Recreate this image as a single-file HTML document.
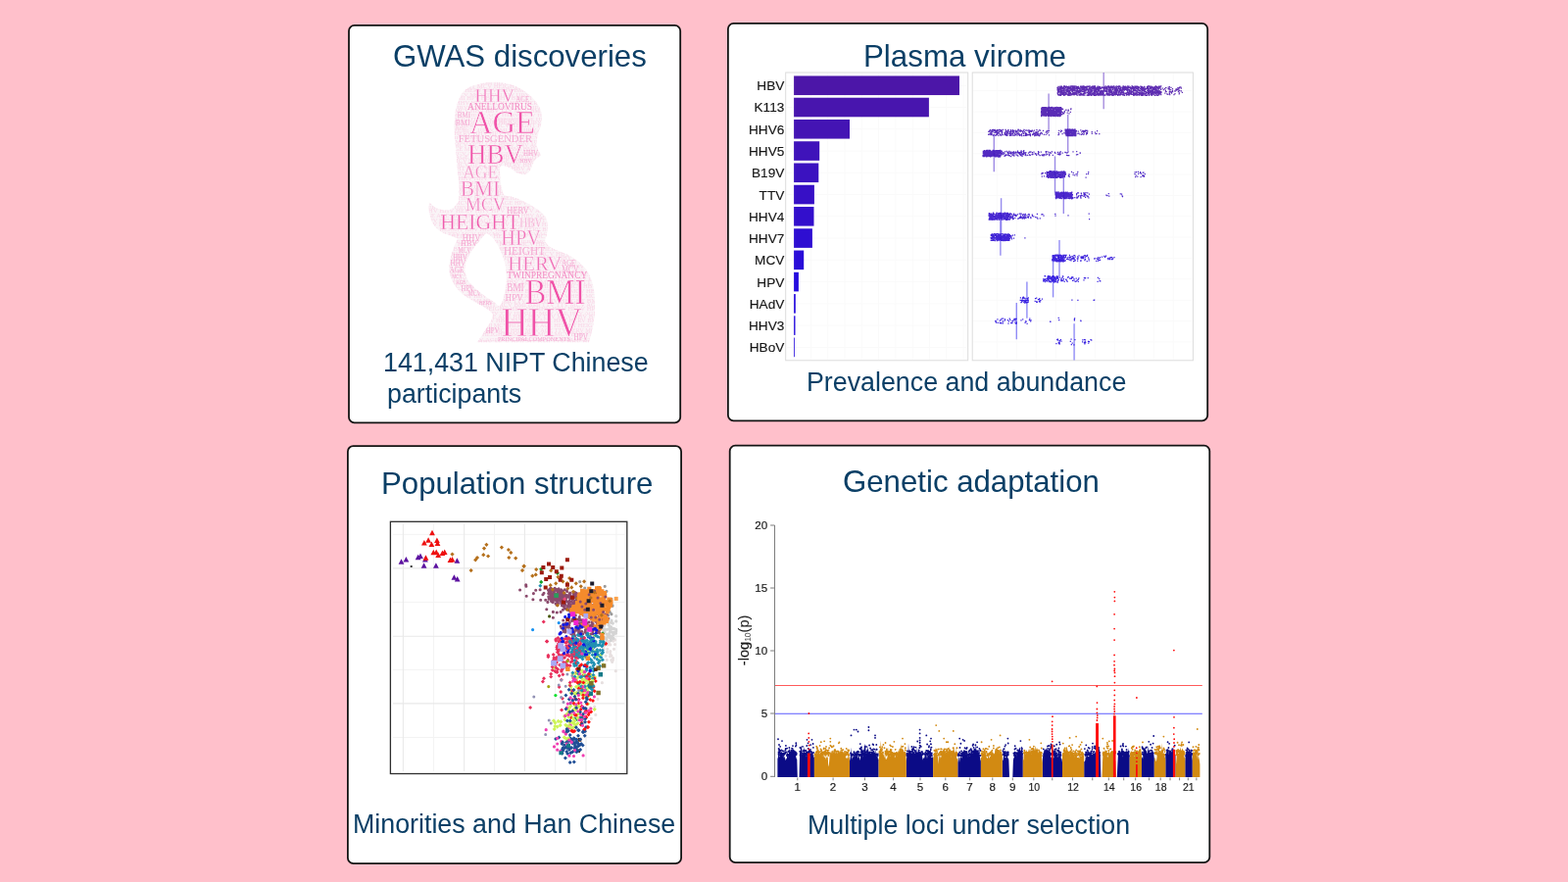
<!DOCTYPE html>
<html lang="en">
<head>
<meta charset="utf-8">
<title>Graphical abstract</title>
<style>
html,body{margin:0;padding:0;}
body{width:1600px;height:900px;background:#ffc0cb;overflow:hidden;position:relative;font-family:"Liberation Sans",Arial,Helvetica,sans-serif;}
.t{position:absolute;white-space:nowrap;color:#0b3f66;line-height:1;margin:0;font-weight:400;will-change:transform;}
h2.t{font-size:31px;}
p.t{font-size:26.5px;}
svg{position:absolute;left:0;top:0;overflow:visible;will-change:transform;}
svg text{font-family:"Liberation Sans",Arial,Helvetica,sans-serif;}
svg.sf text{font-family:"Liberation Serif","Times New Roman",serif;}
</style>
</head>
<body>
<main>
<svg id="frames" width="1600" height="900" viewBox="0 0 1600 900">
<rect id="panel-gwas" x="356.0" y="25.9" width="338.2" height="405.4" rx="5.6" fill="#fff" stroke="#141414" stroke-width="1.8"/>
<rect id="panel-virome" x="742.9" y="23.9" width="489.3" height="405.4" rx="5.6" fill="#fff" stroke="#141414" stroke-width="1.8"/>
<rect id="panel-pop" x="354.9" y="455.1" width="340.2" height="426.0" rx="5.6" fill="#fff" stroke="#141414" stroke-width="1.8"/>
<rect id="panel-adapt" x="744.7" y="454.7" width="489.6" height="425.4" rx="5.6" fill="#fff" stroke="#141414" stroke-width="1.8"/>
</svg>
<section id="gwas">
<h2 class="t" style="left:401.0px;top:42.2px;font-size:31.2px">GWAS discoveries</h2>
<svg id="gwas-cloud" class="sf" width="1600" height="900" viewBox="0 0 1600 900">
<defs><clipPath id="sil"><path d="M601.0 349.2L486.2 349.2C486.6 348.7 487.3 348.6 488.9 346.4C490.5 344.2 493.8 339.1 495.8 336.0C497.8 332.9 499.8 330.1 501.0 327.5C502.2 324.9 502.6 321.8 502.9 320.6C502.0 319.7 500.4 317.4 497.5 315.4C494.6 313.4 489.8 311.1 485.5 308.5C481.2 305.9 475.4 303.0 471.7 299.9C468.0 296.8 465.2 293.1 463.1 289.6C461.0 286.2 459.6 282.6 458.8 279.2C458.1 275.8 458.1 272.9 458.6 268.9C459.1 264.9 460.7 259.1 462.0 255.1C463.3 251.1 465.6 246.8 466.3 244.8C467.0 242.8 466.1 243.3 466.0 243.0C464.9 242.6 462.1 241.5 459.6 240.5C457.1 239.5 453.9 238.9 451.0 237.0C448.1 235.1 444.5 232.6 442.4 229.3C440.2 226.0 438.9 221.0 438.1 217.2C437.4 213.3 437.9 208.0 437.9 206.2C439.2 207.2 442.5 211.0 445.8 212.4C449.1 213.8 454.6 215.0 457.9 214.4C461.2 213.8 463.7 210.8 465.4 209.0C467.1 207.2 467.7 207.0 468.2 203.8C468.7 200.6 468.4 194.3 468.3 190.0C468.2 185.7 467.7 182.3 467.3 177.8C466.9 173.3 466.4 168.0 466.0 163.1C465.6 158.2 465.2 153.2 464.8 148.5C464.4 143.8 463.7 140.3 463.6 135.0C463.5 129.7 463.5 122.2 464.2 116.7C464.9 111.2 466.3 106.1 467.9 102.0C469.5 97.9 471.1 94.8 474.0 92.2C476.9 89.7 480.1 88.1 485.0 86.7C489.9 85.3 497.0 83.7 503.3 83.7C509.6 83.7 517.2 84.9 522.9 86.7C528.6 88.5 533.5 91.8 537.6 94.7C541.7 97.7 545.0 101.2 547.4 104.4C549.8 107.7 551.4 110.7 552.2 114.2C553.0 117.7 552.9 121.5 552.4 125.2C551.9 128.9 550.2 132.7 549.4 136.2C548.6 139.7 547.4 143.2 547.4 146.0C547.4 148.8 548.5 151.3 549.2 153.3C549.9 155.3 552.1 156.8 551.8 158.2C551.5 159.6 548.8 160.3 547.6 161.5C546.4 162.7 545.5 164.1 544.6 165.6C543.8 167.1 543.3 168.9 542.5 170.5C541.7 172.1 541.2 174.2 540.0 175.4C538.8 176.6 537.1 177.7 535.1 177.9C533.1 178.1 530.0 177.6 527.8 176.6C525.6 175.6 523.7 173.1 521.7 171.9C519.7 170.7 517.5 169.7 515.6 169.4C513.7 169.1 511.3 168.8 510.4 170.2C509.5 171.6 510.0 174.7 510.2 178.0C510.4 181.3 510.8 186.6 511.5 190.0C512.2 193.4 512.5 196.7 514.2 198.5C515.9 200.3 518.9 199.8 521.6 200.6C524.3 201.4 527.0 202.2 530.2 203.6C533.4 205.0 537.2 206.8 540.6 208.8C544.0 210.8 548.2 213.2 550.9 215.5C553.6 217.8 555.7 219.8 557.0 222.4C558.3 225.0 558.6 228.1 558.8 231.0C558.9 233.9 558.3 237.0 557.9 239.6C557.5 242.2 555.7 244.5 556.3 246.5C556.9 248.5 559.0 250.1 561.3 251.7C563.6 253.3 566.8 254.6 569.9 256.0C573.0 257.4 576.8 258.4 580.2 260.3C583.6 262.2 587.4 264.6 590.5 267.2C593.6 269.8 596.4 272.1 598.8 275.8C601.1 279.5 603.3 285.0 604.6 289.6C605.9 294.2 606.4 298.8 606.8 303.4C607.2 308.0 607.3 311.9 607.0 317.1C606.7 322.3 605.8 329.0 604.8 334.4C603.8 339.8 601.6 346.7 601.0 349.2ZM495.8 238.6C497.6 237.5 498.0 238.8 499.4 239.8C500.8 240.8 502.7 242.5 504.4 244.8C506.1 247.1 508.0 250.2 509.6 253.4C511.2 256.6 512.8 260.0 513.9 263.7C515.0 267.4 516.0 271.5 516.5 275.8C517.0 280.1 517.0 285.0 516.6 289.6C516.2 294.2 515.0 299.6 513.9 303.4C512.8 307.2 511.4 311.3 509.8 312.2C508.2 313.1 507.0 310.3 504.4 308.5C501.8 306.7 497.6 304.2 494.1 301.6C490.7 299.0 486.6 295.9 483.7 293.0C480.8 290.1 478.4 287.5 476.8 284.4C475.2 281.2 474.4 277.2 474.3 274.1C474.2 271.0 474.7 268.7 476.0 265.5C477.3 262.3 479.9 258.3 482.0 255.1C484.1 251.9 486.6 249.2 488.9 246.5C491.2 243.8 494.1 239.7 495.8 238.6Z" clip-rule="evenodd"/></clipPath></defs>
<path d="M601.0 349.2L486.2 349.2C486.6 348.7 487.3 348.6 488.9 346.4C490.5 344.2 493.8 339.1 495.8 336.0C497.8 332.9 499.8 330.1 501.0 327.5C502.2 324.9 502.6 321.8 502.9 320.6C502.0 319.7 500.4 317.4 497.5 315.4C494.6 313.4 489.8 311.1 485.5 308.5C481.2 305.9 475.4 303.0 471.7 299.9C468.0 296.8 465.2 293.1 463.1 289.6C461.0 286.2 459.6 282.6 458.8 279.2C458.1 275.8 458.1 272.9 458.6 268.9C459.1 264.9 460.7 259.1 462.0 255.1C463.3 251.1 465.6 246.8 466.3 244.8C467.0 242.8 466.1 243.3 466.0 243.0C464.9 242.6 462.1 241.5 459.6 240.5C457.1 239.5 453.9 238.9 451.0 237.0C448.1 235.1 444.5 232.6 442.4 229.3C440.2 226.0 438.9 221.0 438.1 217.2C437.4 213.3 437.9 208.0 437.9 206.2C439.2 207.2 442.5 211.0 445.8 212.4C449.1 213.8 454.6 215.0 457.9 214.4C461.2 213.8 463.7 210.8 465.4 209.0C467.1 207.2 467.7 207.0 468.2 203.8C468.7 200.6 468.4 194.3 468.3 190.0C468.2 185.7 467.7 182.3 467.3 177.8C466.9 173.3 466.4 168.0 466.0 163.1C465.6 158.2 465.2 153.2 464.8 148.5C464.4 143.8 463.7 140.3 463.6 135.0C463.5 129.7 463.5 122.2 464.2 116.7C464.9 111.2 466.3 106.1 467.9 102.0C469.5 97.9 471.1 94.8 474.0 92.2C476.9 89.7 480.1 88.1 485.0 86.7C489.9 85.3 497.0 83.7 503.3 83.7C509.6 83.7 517.2 84.9 522.9 86.7C528.6 88.5 533.5 91.8 537.6 94.7C541.7 97.7 545.0 101.2 547.4 104.4C549.8 107.7 551.4 110.7 552.2 114.2C553.0 117.7 552.9 121.5 552.4 125.2C551.9 128.9 550.2 132.7 549.4 136.2C548.6 139.7 547.4 143.2 547.4 146.0C547.4 148.8 548.5 151.3 549.2 153.3C549.9 155.3 552.1 156.8 551.8 158.2C551.5 159.6 548.8 160.3 547.6 161.5C546.4 162.7 545.5 164.1 544.6 165.6C543.8 167.1 543.3 168.9 542.5 170.5C541.7 172.1 541.2 174.2 540.0 175.4C538.8 176.6 537.1 177.7 535.1 177.9C533.1 178.1 530.0 177.6 527.8 176.6C525.6 175.6 523.7 173.1 521.7 171.9C519.7 170.7 517.5 169.7 515.6 169.4C513.7 169.1 511.3 168.8 510.4 170.2C509.5 171.6 510.0 174.7 510.2 178.0C510.4 181.3 510.8 186.6 511.5 190.0C512.2 193.4 512.5 196.7 514.2 198.5C515.9 200.3 518.9 199.8 521.6 200.6C524.3 201.4 527.0 202.2 530.2 203.6C533.4 205.0 537.2 206.8 540.6 208.8C544.0 210.8 548.2 213.2 550.9 215.5C553.6 217.8 555.7 219.8 557.0 222.4C558.3 225.0 558.6 228.1 558.8 231.0C558.9 233.9 558.3 237.0 557.9 239.6C557.5 242.2 555.7 244.5 556.3 246.5C556.9 248.5 559.0 250.1 561.3 251.7C563.6 253.3 566.8 254.6 569.9 256.0C573.0 257.4 576.8 258.4 580.2 260.3C583.6 262.2 587.4 264.6 590.5 267.2C593.6 269.8 596.4 272.1 598.8 275.8C601.1 279.5 603.3 285.0 604.6 289.6C605.9 294.2 606.4 298.8 606.8 303.4C607.2 308.0 607.3 311.9 607.0 317.1C606.7 322.3 605.8 329.0 604.8 334.4C603.8 339.8 601.6 346.7 601.0 349.2ZM495.8 238.6C497.6 237.5 498.0 238.8 499.4 239.8C500.8 240.8 502.7 242.5 504.4 244.8C506.1 247.1 508.0 250.2 509.6 253.4C511.2 256.6 512.8 260.0 513.9 263.7C515.0 267.4 516.0 271.5 516.5 275.8C517.0 280.1 517.0 285.0 516.6 289.6C516.2 294.2 515.0 299.6 513.9 303.4C512.8 307.2 511.4 311.3 509.8 312.2C508.2 313.1 507.0 310.3 504.4 308.5C501.8 306.7 497.6 304.2 494.1 301.6C490.7 299.0 486.6 295.9 483.7 293.0C480.8 290.1 478.4 287.5 476.8 284.4C475.2 281.2 474.4 277.2 474.3 274.1C474.2 271.0 474.7 268.7 476.0 265.5C477.3 262.3 479.9 258.3 482.0 255.1C484.1 251.9 486.6 249.2 488.9 246.5C491.2 243.8 494.1 239.7 495.8 238.6Z" fill="#faf4f7" fill-rule="evenodd"/>
<g clip-path="url(#sil)">
<g fill="#f9d6e7">
<text x="431.6" y="86.0" font-size="5.2" textLength="180" lengthAdjust="spacingAndGlyphs">BMI HPV HHV TTV BMI HHV HBV HHV HHV MCV TTV MCV</text>
<text x="429.2" y="90.1" font-size="5.2" textLength="180" lengthAdjust="spacingAndGlyphs">HBV TTV HEIGHT MCV HEIGHT TTV HERV BMI MCV BMI</text>
<text x="431.8" y="94.1" font-size="5.2" textLength="180" lengthAdjust="spacingAndGlyphs">MCV HEIGHT HERV HBV HHV BMI AGE HBV BMI AGE HHV</text>
<text x="429.8" y="98.2" font-size="4.6" textLength="180" lengthAdjust="spacingAndGlyphs">HHV MCV MCV MCV TTV HHV HBV HERV HBV AGE HERV</text>
<text x="432.4" y="101.8" font-size="6.4" textLength="180" lengthAdjust="spacingAndGlyphs">HHV TTV BMI HPV HBV HHV BMI TTV AGE MCV BMI HERV</text>
<text x="430.5" y="106.7" font-size="5.8" textLength="180" lengthAdjust="spacingAndGlyphs">MCV HERV HHV HPV HEIGHT HHV HERV HHV AGE HPV BMI</text>
<text x="433.1" y="111.3" font-size="4.6" textLength="180" lengthAdjust="spacingAndGlyphs">HHV BMI HBV BMI HBV MCV HPV HEIGHT HHV HHV HBV</text>
<text x="431.8" y="114.9" font-size="5.2" textLength="180" lengthAdjust="spacingAndGlyphs">HHV MCV MCV HBV HBV TTV MCV BMI TTV HBV HPV AGE</text>
<text x="430.5" y="118.9" font-size="4.6" textLength="180" lengthAdjust="spacingAndGlyphs">BMI HHV MCV HERV AGE HERV MCV HBV HHV HHV HHV</text>
<text x="430.3" y="122.5" font-size="4.6" textLength="180" lengthAdjust="spacingAndGlyphs">HHV HPV HEIGHT MCV HEIGHT AGE HHV MCV HHV HBV</text>
<text x="431.6" y="126.1" font-size="4.6" textLength="180" lengthAdjust="spacingAndGlyphs">HHV AGE HERV MCV HHV MCV BMI HBV HHV MCV HPV HPV</text>
<text x="433.8" y="129.7" font-size="5.8" textLength="180" lengthAdjust="spacingAndGlyphs">MCV HERV HERV TTV MCV HEIGHT HERV BMI MCV HHV</text>
<text x="431.7" y="134.2" font-size="4.6" textLength="180" lengthAdjust="spacingAndGlyphs">AGE HEIGHT MCV HERV BMI HBV HBV AGE MCV HERV MCV</text>
<text x="431.3" y="137.8" font-size="5.8" textLength="180" lengthAdjust="spacingAndGlyphs">HHV AGE HERV HHV HPV HHV HERV HHV HHV BMI BMI</text>
<text x="431.8" y="142.3" font-size="4.6" textLength="180" lengthAdjust="spacingAndGlyphs">HPV TTV HPV BMI HPV HHV HBV MCV HBV TTV HHV HHV</text>
<text x="433.7" y="145.9" font-size="4.6" textLength="180" lengthAdjust="spacingAndGlyphs">HHV HPV MCV BMI TTV MCV HHV HHV HPV BMI HPV BMI</text>
<text x="432.5" y="149.5" font-size="5.8" textLength="180" lengthAdjust="spacingAndGlyphs">MCV HHV MCV MCV AGE HERV HBV AGE MCV HHV HHV BMI</text>
<text x="429.9" y="154.0" font-size="5.2" textLength="180" lengthAdjust="spacingAndGlyphs">AGE BMI AGE MCV AGE HPV BMI BMI HERV BMI HBV HBV</text>
<text x="431.6" y="158.1" font-size="4.6" textLength="180" lengthAdjust="spacingAndGlyphs">HPV BMI MCV AGE TTV AGE MCV BMI HBV HPV HBV BMI</text>
<text x="433.3" y="161.7" font-size="5.2" textLength="180" lengthAdjust="spacingAndGlyphs">TTV MCV AGE AGE HBV HHV HEIGHT AGE HPV AGE MCV</text>
<text x="433.2" y="165.7" font-size="5.2" textLength="180" lengthAdjust="spacingAndGlyphs">HPV AGE MCV BMI HBV AGE HHV HPV HHV BMI HERV MCV</text>
<text x="430.8" y="169.8" font-size="5.8" textLength="180" lengthAdjust="spacingAndGlyphs">BMI HERV MCV HERV HHV HERV HHV HERV BMI AGE HHV</text>
<text x="433.7" y="174.3" font-size="6.4" textLength="180" lengthAdjust="spacingAndGlyphs">HHV HEIGHT HERV HEIGHT HBV AGE HHV HBV TTV MCV</text>
<text x="431.3" y="179.3" font-size="5.8" textLength="180" lengthAdjust="spacingAndGlyphs">AGE MCV HBV MCV HHV MCV HBV AGE AGE HHV HHV AGE</text>
<text x="433.4" y="183.8" font-size="5.2" textLength="180" lengthAdjust="spacingAndGlyphs">HERV HHV HHV HHV TTV HBV HBV BMI HEIGHT MCV AGE</text>
<text x="431.1" y="187.9" font-size="4.6" textLength="180" lengthAdjust="spacingAndGlyphs">HERV HHV HHV HBV HPV BMI MCV MCV HEIGHT TTV AGE</text>
<text x="430.1" y="191.5" font-size="4.6" textLength="180" lengthAdjust="spacingAndGlyphs">AGE HBV HEIGHT MCV HBV BMI AGE AGE MCV AGE BMI</text>
<text x="430.9" y="195.0" font-size="4.6" textLength="180" lengthAdjust="spacingAndGlyphs">HHV MCV HERV HHV AGE MCV AGE MCV HHV HEIGHT HEIGHT</text>
<text x="428.3" y="198.6" font-size="6.4" textLength="180" lengthAdjust="spacingAndGlyphs">HPV AGE MCV HHV MCV HHV AGE BMI HHV HBV HHV HBV</text>
<text x="433.8" y="203.6" font-size="6.4" textLength="180" lengthAdjust="spacingAndGlyphs">MCV HBV HBV HEIGHT HEIGHT TTV HPV BMI HPV HBV</text>
<text x="430.3" y="208.6" font-size="5.8" textLength="180" lengthAdjust="spacingAndGlyphs">HERV HHV MCV HPV MCV AGE HPV HERV HBV BMI HEIGHT</text>
<text x="432.3" y="213.1" font-size="4.6" textLength="180" lengthAdjust="spacingAndGlyphs">HERV AGE HBV HHV BMI HHV HPV TTV HHV BMI AGE HEIGHT</text>
<text x="431.8" y="216.7" font-size="6.4" textLength="180" lengthAdjust="spacingAndGlyphs">HHV HHV HERV HHV HPV BMI TTV AGE HBV HPV HERV</text>
<text x="430.8" y="221.7" font-size="6.4" textLength="180" lengthAdjust="spacingAndGlyphs">AGE AGE HEIGHT MCV HBV HHV HBV AGE HERV AGE HERV</text>
<text x="433.3" y="226.7" font-size="5.2" textLength="180" lengthAdjust="spacingAndGlyphs">HPV HPV HEIGHT AGE MCV MCV HBV TTV HBV HBV MCV</text>
<text x="432.0" y="230.8" font-size="6.4" textLength="180" lengthAdjust="spacingAndGlyphs">HBV HPV HHV HEIGHT HBV AGE HHV HBV HHV TTV BMI</text>
<text x="432.6" y="235.8" font-size="5.2" textLength="180" lengthAdjust="spacingAndGlyphs">HHV HEIGHT HBV HHV HBV BMI HERV BMI MCV HHV HPV</text>
<text x="428.2" y="239.8" font-size="4.6" textLength="180" lengthAdjust="spacingAndGlyphs">HBV BMI TTV MCV HBV MCV HHV MCV AGE HBV HHV AGE</text>
<text x="428.6" y="243.4" font-size="5.2" textLength="180" lengthAdjust="spacingAndGlyphs">HBV HBV HEIGHT HHV HEIGHT HPV MCV HHV BMI MCV</text>
<text x="429.5" y="247.5" font-size="4.6" textLength="180" lengthAdjust="spacingAndGlyphs">BMI BMI AGE TTV HHV HBV AGE HERV MCV HPV HHV HERV</text>
<text x="431.3" y="251.0" font-size="5.8" textLength="180" lengthAdjust="spacingAndGlyphs">HBV HERV HEIGHT AGE HERV MCV HBV BMI HERV HBV</text>
<text x="428.9" y="255.6" font-size="6.4" textLength="180" lengthAdjust="spacingAndGlyphs">HERV BMI BMI HBV TTV HBV TTV HBV HEIGHT TTV HHV</text>
<text x="428.8" y="260.6" font-size="5.2" textLength="180" lengthAdjust="spacingAndGlyphs">AGE AGE BMI HHV HEIGHT HPV AGE MCV HBV HEIGHT</text>
<text x="432.0" y="264.6" font-size="5.8" textLength="180" lengthAdjust="spacingAndGlyphs">MCV HERV HHV MCV HHV HHV MCV AGE MCV HHV MCV TTV</text>
<text x="429.2" y="269.1" font-size="6.4" textLength="180" lengthAdjust="spacingAndGlyphs">HHV HPV AGE HPV TTV AGE MCV BMI HERV HBV TTV HBV</text>
<text x="430.8" y="274.1" font-size="5.2" textLength="180" lengthAdjust="spacingAndGlyphs">MCV MCV BMI HEIGHT HHV TTV HBV HBV MCV HERV AGE</text>
<text x="430.8" y="278.2" font-size="4.6" textLength="180" lengthAdjust="spacingAndGlyphs">AGE AGE BMI HBV AGE BMI HBV AGE MCV MCV AGE AGE</text>
<text x="428.8" y="281.8" font-size="5.8" textLength="180" lengthAdjust="spacingAndGlyphs">HHV HBV BMI MCV HHV MCV BMI MCV HHV HPV BMI HERV</text>
<text x="432.4" y="286.3" font-size="4.6" textLength="180" lengthAdjust="spacingAndGlyphs">HBV HBV HBV MCV MCV MCV HHV HPV TTV HHV HBV BMI</text>
<text x="428.0" y="289.9" font-size="5.8" textLength="180" lengthAdjust="spacingAndGlyphs">HPV HPV HERV HERV TTV HBV AGE BMI HHV HBV TTV</text>
<text x="428.8" y="294.4" font-size="6.4" textLength="180" lengthAdjust="spacingAndGlyphs">HPV HBV MCV HBV BMI HERV HBV TTV HEIGHT MCV HBV</text>
<text x="432.1" y="299.4" font-size="5.8" textLength="180" lengthAdjust="spacingAndGlyphs">HPV AGE TTV MCV BMI BMI BMI BMI AGE MCV MCV HBV</text>
<text x="432.0" y="303.9" font-size="5.8" textLength="180" lengthAdjust="spacingAndGlyphs">HEIGHT HEIGHT HBV BMI TTV HEIGHT HPV HHV HBV MCV</text>
<text x="431.9" y="308.5" font-size="5.2" textLength="180" lengthAdjust="spacingAndGlyphs">HBV BMI BMI BMI HPV BMI TTV HBV HBV HEIGHT BMI</text>
<text x="431.9" y="312.5" font-size="5.8" textLength="180" lengthAdjust="spacingAndGlyphs">BMI HHV HERV HEIGHT MCV BMI BMI TTV TTV MCV AGE</text>
<text x="432.2" y="317.0" font-size="5.2" textLength="180" lengthAdjust="spacingAndGlyphs">HBV HBV BMI AGE HEIGHT HEIGHT HHV HBV HERV HPV</text>
<text x="429.6" y="321.1" font-size="4.6" textLength="180" lengthAdjust="spacingAndGlyphs">HERV HHV MCV BMI HHV TTV HEIGHT MCV AGE HBV AGE</text>
<text x="433.3" y="324.7" font-size="5.8" textLength="180" lengthAdjust="spacingAndGlyphs">HERV TTV HEIGHT AGE AGE HBV HPV TTV MCV HBV BMI</text>
<text x="431.5" y="329.2" font-size="5.8" textLength="180" lengthAdjust="spacingAndGlyphs">BMI HBV HHV AGE HBV HBV BMI HBV AGE HHV HERV BMI</text>
<text x="432.9" y="333.7" font-size="6.4" textLength="180" lengthAdjust="spacingAndGlyphs">HBV BMI HHV HHV BMI MCV HERV AGE AGE HEIGHT HEIGHT</text>
<text x="431.4" y="338.7" font-size="5.2" textLength="180" lengthAdjust="spacingAndGlyphs">AGE MCV MCV HPV AGE MCV HHV MCV AGE TTV HERV MCV</text>
<text x="429.9" y="342.8" font-size="6.4" textLength="180" lengthAdjust="spacingAndGlyphs">HHV MCV BMI TTV HEIGHT BMI HBV MCV MCV BMI TTV</text>
<text x="431.6" y="347.8" font-size="4.6" textLength="180" lengthAdjust="spacingAndGlyphs">HBV BMI HHV HBV AGE AGE BMI AGE TTV BMI HEIGHT</text>
<text x="429.2" y="351.4" font-size="6.4" textLength="180" lengthAdjust="spacingAndGlyphs">AGE HEIGHT AGE HHV MCV HEIGHT BMI TTV HBV HHV</text>
</g>
<text x="484.6" y="103.6" font-size="19.6" fill="#f170b8" stroke="#faf4f7" stroke-width="0.35" textLength="40.5" lengthAdjust="spacingAndGlyphs">HHV</text>
<text x="477.1" y="112.4" font-size="10.0" fill="#f38ac3" textLength="66.0" lengthAdjust="spacingAndGlyphs">ANELLOVIRUS</text>
<text x="478.9" y="135.6" font-size="32.8" fill="#f052a8" stroke="#faf4f7" stroke-width="0.59" textLength="67.2" lengthAdjust="spacingAndGlyphs">AGE</text>
<text x="467.7" y="145.4" font-size="10.3" fill="#f5a8d2" textLength="75.4" lengthAdjust="spacingAndGlyphs">FETUSGENDER</text>
<text x="477.1" y="167.0" font-size="28.4" fill="#f052a8" stroke="#faf4f7" stroke-width="0.51" textLength="56.8" lengthAdjust="spacingAndGlyphs">HBV</text>
<text x="472.2" y="181.7" font-size="18.2" fill="#f38ac3" stroke="#faf4f7" stroke-width="0.33" textLength="36.0" lengthAdjust="spacingAndGlyphs">AGE</text>
<text x="469.7" y="199.8" font-size="23.4" fill="#f170b8" stroke="#faf4f7" stroke-width="0.42" textLength="40.4" lengthAdjust="spacingAndGlyphs">BMI</text>
<text x="475.1" y="214.6" font-size="19.7" fill="#f170b8" stroke="#faf4f7" stroke-width="0.35" textLength="40.5" lengthAdjust="spacingAndGlyphs">MCV</text>
<text x="517.3" y="218.1" font-size="10.5" fill="#f5a8d2" textLength="22.4" lengthAdjust="spacingAndGlyphs">HERV</text>
<text x="449.3" y="233.6" font-size="23.7" fill="#ef5cad" stroke="#faf4f7" stroke-width="0.43" textLength="80.9" lengthAdjust="spacingAndGlyphs">HEIGHT</text>
<text x="530.2" y="231.9" font-size="14.5" fill="#f5a8d2" stroke="#faf4f7" stroke-width="0.26" textLength="23.3" lengthAdjust="spacingAndGlyphs">HBV</text>
<text x="511.3" y="250.0" font-size="22.3" fill="#f170b8" stroke="#faf4f7" stroke-width="0.40" textLength="40.5" lengthAdjust="spacingAndGlyphs">HPV</text>
<text x="513.9" y="260.3" font-size="11.9" fill="#f5a8d2" textLength="42.2" lengthAdjust="spacingAndGlyphs">HEIGHT</text>
<text x="518.2" y="275.8" font-size="21.0" fill="#f170b8" stroke="#faf4f7" stroke-width="0.38" textLength="55.1" lengthAdjust="spacingAndGlyphs">HERV</text>
<text x="573.3" y="270.6" font-size="8.4" fill="#f5a8d2" textLength="13.8" lengthAdjust="spacingAndGlyphs">AGE</text>
<text x="573.3" y="277.5" font-size="10.0" fill="#f5a8d2" textLength="17.2" lengthAdjust="spacingAndGlyphs">MCV</text>
<text x="517.3" y="284.4" font-size="10.5" fill="#f38ac3" textLength="81.9" lengthAdjust="spacingAndGlyphs">TWINPREGNANCY</text>
<text x="535.4" y="310.2" font-size="36.8" fill="#f052a8" stroke="#faf4f7" stroke-width="0.66" textLength="62.0" lengthAdjust="spacingAndGlyphs">BMI</text>
<text x="511.3" y="343.0" font-size="42.0" fill="#f052a8" stroke="#faf4f7" stroke-width="0.76" textLength="82.7" lengthAdjust="spacingAndGlyphs">HHV</text>
<text x="507.9" y="348.1" font-size="6.0" fill="#f5a8d2" textLength="74.1" lengthAdjust="spacingAndGlyphs">PRINCIPALCOMPONENTS</text>
<text x="585.4" y="347.3" font-size="9.5" fill="#f5a8d2" textLength="14.6" lengthAdjust="spacingAndGlyphs">HPV</text>
<text x="517.3" y="297.3" font-size="11.5" fill="#f5a8d2" textLength="17.3" lengthAdjust="spacingAndGlyphs">BMI</text>
<text x="515.6" y="306.8" font-size="10.5" fill="#f5a8d2" textLength="18.1" lengthAdjust="spacingAndGlyphs">HPV</text>
<text x="466.7" y="120.3" font-size="8.0" fill="#f5a8d2" textLength="13.4" lengthAdjust="spacingAndGlyphs">BMI</text>
<text x="464.8" y="127.7" font-size="8.8" fill="#f5a8d2" textLength="14.7" lengthAdjust="spacingAndGlyphs">BMI</text>
<text x="464.8" y="133.2" font-size="6.5" fill="#f9d6e7" textLength="11.0" lengthAdjust="spacingAndGlyphs">HBV</text>
<text x="508.2" y="126.5" font-size="9.0" fill="#f9d6e7" textLength="19.6" lengthAdjust="spacingAndGlyphs">HERV</text>
<text x="533.9" y="158.9" font-size="8.6" fill="#f5a8d2" textLength="15.3" lengthAdjust="spacingAndGlyphs">HHV</text>
<text x="530.2" y="166.2" font-size="6.8" fill="#f5a8d2" textLength="12.3" lengthAdjust="spacingAndGlyphs">HBV</text>
<text x="526.6" y="104.4" font-size="7.6" fill="#f5a8d2" textLength="13.4" lengthAdjust="spacingAndGlyphs">AGE</text>
<text x="471.7" y="245.6" font-size="10.0" fill="#f5a8d2" textLength="18.9" lengthAdjust="spacingAndGlyphs">HHV</text>
<text x="470.0" y="250.8" font-size="9.0" fill="#f5a8d2" textLength="17.2" lengthAdjust="spacingAndGlyphs">HBV</text>
<text x="467.4" y="257.7" font-size="8.0" fill="#f5a8d2" textLength="12.9" lengthAdjust="spacingAndGlyphs">MCV</text>
<text x="462.2" y="264.6" font-size="8.0" fill="#f5a8d2" textLength="14.6" lengthAdjust="spacingAndGlyphs">HHV</text>
<text x="459.6" y="270.6" font-size="8.6" fill="#f5a8d2" textLength="15.5" lengthAdjust="spacingAndGlyphs">HHV</text>
<text x="458.8" y="278.4" font-size="9.0" fill="#f5a8d2" textLength="14.6" lengthAdjust="spacingAndGlyphs">AGE</text>
<text x="461.3" y="284.4" font-size="7.0" fill="#f5a8d2" textLength="10.4" lengthAdjust="spacingAndGlyphs">MCV</text>
<text x="465.6" y="289.6" font-size="7.0" fill="#f5a8d2" textLength="9.5" lengthAdjust="spacingAndGlyphs">AGE</text>
<text x="470.8" y="296.5" font-size="9.0" fill="#f5a8d2" textLength="12.9" lengthAdjust="spacingAndGlyphs">HPV</text>
<text x="477.7" y="301.6" font-size="8.0" fill="#f5a8d2" textLength="12.9" lengthAdjust="spacingAndGlyphs">MCV</text>
<text x="488.9" y="311.1" font-size="7.0" fill="#f5a8d2" textLength="13.8" lengthAdjust="spacingAndGlyphs">HERV</text>
<text x="495.8" y="340.4" font-size="9.0" fill="#f5a8d2" textLength="13.8" lengthAdjust="spacingAndGlyphs">HPV</text>
</g>
</svg>
<p class="t" style="left:390.5px;top:356.8px;font-size:26.8px">141,431 NIPT Chinese</p>
<p class="t" style="left:394.6px;top:388.8px;font-size:26.8px">participants</p>
</section>
<section id="virome">
<h2 class="t" style="left:880.5px;top:42.2px;font-size:31.3px">Plasma virome</h2>
<svg id="virome-plot" width="1600" height="900" viewBox="0 0 1600 900">
<rect x="801.7" y="74.0" width="186.0" height="293.8" fill="#fff" stroke="#dcdcdc" stroke-width="1"/>
<rect x="992.2" y="74.0" width="225.2" height="293.8" fill="#fff" stroke="#dcdcdc" stroke-width="1"/>
<path d="M802.7 87.2H986.7M993.2 92.6H1216.4M802.7 109.5H986.7M993.2 114.0H1216.4M802.7 131.8H986.7M993.2 135.3H1216.4M802.7 154.0H986.7M993.2 156.7H1216.4M802.7 176.3H986.7M993.2 178.0H1216.4M802.7 198.6H986.7M993.2 199.4H1216.4M802.7 220.8H986.7M993.2 220.8H1216.4M802.7 243.1H986.7M993.2 242.1H1216.4M802.7 265.3H986.7M993.2 263.5H1216.4M802.7 287.6H986.7M993.2 284.8H1216.4M802.7 309.9H986.7M993.2 306.2H1216.4M802.7 332.1H986.7M993.2 327.6H1216.4M802.7 354.4H986.7M993.2 348.9H1216.4M810.1 75.0V366.8M827.4 75.0V366.8M844.7 75.0V366.8M862.0 75.0V366.8M879.3 75.0V366.8M896.6 75.0V366.8M913.9 75.0V366.8M931.2 75.0V366.8M948.5 75.0V366.8M965.8 75.0V366.8M983.1 75.0V366.8M1017.3 75.0V366.8M1037.3 75.0V366.8M1057.3 75.0V366.8M1077.3 75.0V366.8M1097.3 75.0V366.8M1117.3 75.0V366.8M1137.3 75.0V366.8M1157.3 75.0V366.8M1177.3 75.0V366.8M1197.3 75.0V366.8" stroke="#fafafa" stroke-width="1" fill="none"/>
<rect x="810.1" y="77.45" width="168.9" height="19.6" fill="#4c16a8"/>
<rect x="810.1" y="99.71" width="137.8" height="19.6" fill="#4815ae"/>
<rect x="810.1" y="121.97" width="56.9" height="19.6" fill="#4414b4"/>
<rect x="810.1" y="144.23" width="26.1" height="19.6" fill="#3f13ba"/>
<rect x="810.1" y="166.49" width="25.2" height="19.6" fill="#3b12c0"/>
<rect x="810.1" y="188.75" width="20.8" height="19.6" fill="#3710c6"/>
<rect x="810.1" y="211.01" width="20.4" height="19.6" fill="#330fcc"/>
<rect x="810.1" y="233.27" width="18.8" height="19.6" fill="#2e0ed2"/>
<rect x="810.1" y="255.53" width="10.1" height="19.6" fill="#2a0dd8"/>
<rect x="810.1" y="277.79" width="4.8" height="19.6" fill="#260cde"/>
<rect x="810.1" y="300.05" width="1.7" height="19.6" fill="#260cde"/>
<rect x="810.1" y="322.31" width="1.4" height="19.6" fill="#260cde"/>
<rect x="810.1" y="344.57" width="0.8" height="19.6" fill="#260cde"/>
<g font-size="13.6" fill="#161616" stroke="#161616" stroke-width=".15" text-anchor="end">
<text x="800.3" y="92.2">HBV</text>
<text x="800.3" y="114.4">K113</text>
<text x="800.3" y="136.7">HHV6</text>
<text x="800.3" y="158.9">HHV5</text>
<text x="800.3" y="181.2">B19V</text>
<text x="800.3" y="203.5">TTV</text>
<text x="800.3" y="225.7">HHV4</text>
<text x="800.3" y="248.0">HHV7</text>
<text x="800.3" y="270.2">MCV</text>
<text x="800.3" y="292.5">HPV</text>
<text x="800.3" y="314.8">HAdV</text>
<text x="800.3" y="337.0">HHV3</text>
<text x="800.3" y="359.3">HBoV</text>
</g>
<path d="M1126.2 74.0V111.2" stroke="#9678d7" stroke-width="1.4" stroke-opacity=".85" fill="none"/>
<path d="M1112.7 89.2h1.2M1147.4 88.5h1.2M1135.2 91.3h1.2M1084.5 92.7h1.2M1082.4 92.0h1.2M1085.8 88.7h1.2M1123.4 95.7h1.2M1091.5 89.9h1.2M1144.9 96.9h1.2M1139.6 91.6h1.2M1181.9 88.2h1.2M1169.4 90.6h1.2M1093.7 88.9h1.2M1111.1 95.6h1.2M1097.6 93.4h1.2M1146.1 91.4h1.2M1136.5 88.4h1.2M1084.7 89.8h1.2M1150.5 91.9h1.2M1111.7 93.4h1.2M1126.4 90.7h1.2M1162.6 94.5h1.2M1104.3 93.3h1.2M1134.1 96.2h1.2M1155.7 90.6h1.2M1182.3 88.9h1.2M1122.7 95.1h1.2M1094.5 92.5h1.2M1082.6 94.2h1.2M1159.4 93.3h1.2M1171.2 90.8h1.2M1152.1 93.5h1.2M1139.9 92.2h1.2M1167.4 96.9h1.2M1128.7 94.2h1.2M1084.8 94.5h1.2M1147.0 97.3h1.2M1165.5 90.5h1.2M1119.3 94.2h1.2M1080.8 92.2h1.2M1096.2 88.9h1.2M1084.6 95.2h1.2M1092.1 90.2h1.2M1119.8 96.2h1.2M1086.9 92.1h1.2M1136.6 96.3h1.2M1165.2 96.1h1.2M1107.9 91.8h1.2M1116.4 96.3h1.2M1179.9 89.2h1.2M1097.1 90.0h1.2M1103.1 92.5h1.2M1140.8 90.3h1.2M1078.8 91.8h1.2M1117.5 93.2h1.2M1179.4 94.4h1.2M1133.0 93.7h1.2M1150.1 88.3h1.2M1173.8 95.3h1.2M1171.1 95.5h1.2M1120.0 91.6h1.2M1089.4 93.9h1.2M1085.0 88.4h1.2M1100.5 89.4h1.2M1114.4 88.3h1.2M1078.4 89.3h1.2M1089.2 91.3h1.2M1081.1 96.2h1.2M1143.5 89.2h1.2M1105.1 91.1h1.2M1117.0 89.0h1.2M1168.4 97.3h1.2M1127.8 92.4h1.2M1087.5 88.8h1.2M1114.7 90.3h1.2M1166.3 89.3h1.2M1080.8 96.9h1.2M1134.4 89.2h1.2M1136.0 88.1h1.2M1134.4 97.2h1.2M1169.9 94.5h1.2M1106.1 91.3h1.2M1096.1 95.2h1.2M1134.9 95.3h1.2M1113.3 89.9h1.2M1164.4 97.3h1.2M1168.8 95.5h1.2M1165.1 94.9h1.2M1102.4 92.8h1.2M1116.1 88.1h1.2M1081.4 90.5h1.2M1105.9 94.4h1.2M1179.8 92.1h1.2M1177.7 97.3h1.2M1179.6 91.3h1.2M1101.8 90.0h1.2M1099.3 89.8h1.2M1144.6 96.4h1.2M1167.5 92.4h1.2M1147.6 95.5h1.2M1087.4 94.1h1.2M1174.8 95.3h1.2M1157.9 92.4h1.2M1097.3 95.4h1.2M1113.6 95.5h1.2M1181.4 91.6h1.2M1120.9 96.9h1.2M1155.2 89.4h1.2M1091.9 89.3h1.2M1174.3 95.5h1.2M1093.9 95.7h1.2M1182.3 94.1h1.2M1115.5 93.1h1.2M1092.3 87.9h1.2M1181.3 94.0h1.2M1134.2 96.8h1.2M1124.4 96.2h1.2M1166.0 89.8h1.2M1105.1 90.6h1.2M1103.9 93.4h1.2M1105.9 91.8h1.2M1092.3 96.5h1.2M1115.9 92.2h1.2M1140.2 96.5h1.2M1123.0 96.6h1.2M1131.6 92.9h1.2M1133.9 88.0h1.2M1125.1 89.6h1.2M1078.8 95.5h1.2M1096.7 92.3h1.2M1155.3 93.1h1.2M1113.0 92.8h1.2M1137.3 95.3h1.2M1089.6 93.2h1.2M1104.7 90.5h1.2M1160.3 92.7h1.2M1137.9 95.1h1.2M1175.1 92.1h1.2M1143.3 92.7h1.2M1132.7 94.5h1.2M1126.3 92.9h1.2M1129.1 96.8h1.2M1152.5 96.2h1.2M1178.3 90.3h1.2M1137.7 96.9h1.2M1167.4 89.1h1.2M1091.3 92.0h1.2M1086.1 90.1h1.2M1086.2 94.2h1.2M1161.5 96.4h1.2M1094.8 94.7h1.2M1148.4 89.2h1.2M1172.0 97.1h1.2M1101.7 96.9h1.2M1120.6 92.5h1.2M1183.3 95.8h1.2M1095.5 91.9h1.2M1133.1 91.1h1.2M1099.1 90.9h1.2M1154.9 88.0h1.2M1137.1 92.0h1.2M1080.3 91.0h1.2M1144.5 92.7h1.2M1085.2 97.3h1.2M1162.0 97.1h1.2M1089.5 90.3h1.2M1082.6 95.3h1.2M1107.1 89.0h1.2M1123.2 96.5h1.2M1165.2 90.3h1.2M1094.2 96.6h1.2M1138.9 94.5h1.2M1087.9 88.4h1.2M1151.3 91.9h1.2M1086.1 96.8h1.2M1145.7 95.5h1.2M1087.3 96.0h1.2M1085.5 96.1h1.2M1126.5 91.1h1.2M1137.0 96.7h1.2M1106.8 89.0h1.2M1134.3 90.1h1.2M1090.0 89.3h1.2M1083.7 89.7h1.2M1111.5 90.7h1.2M1158.9 90.6h1.2M1131.4 89.5h1.2M1115.2 88.0h1.2M1104.9 87.9h1.2M1156.1 93.1h1.2M1098.5 92.4h1.2M1177.5 88.8h1.2M1165.2 91.9h1.2M1130.9 95.8h1.2M1120.1 92.7h1.2M1151.3 97.2h1.2M1114.7 95.8h1.2M1153.3 93.9h1.2M1121.3 91.1h1.2M1084.2 89.0h1.2M1085.9 94.9h1.2M1105.5 89.4h1.2M1087.4 95.9h1.2M1170.7 94.2h1.2M1108.3 90.1h1.2M1109.5 92.2h1.2M1095.1 92.1h1.2M1106.3 97.0h1.2M1181.5 93.1h1.2M1104.3 97.1h1.2M1111.2 91.2h1.2M1078.5 91.5h1.2M1128.7 92.6h1.2M1099.7 92.6h1.2M1078.9 90.3h1.2M1087.9 91.6h1.2M1082.8 88.0h1.2M1110.6 90.0h1.2M1140.5 92.9h1.2M1158.0 94.1h1.2M1154.3 96.2h1.2M1119.7 90.9h1.2M1182.8 89.2h1.2M1155.2 94.0h1.2M1083.0 95.8h1.2M1172.9 93.8h1.2M1156.2 95.6h1.2M1093.2 92.8h1.2M1131.9 95.8h1.2M1163.7 95.7h1.2M1140.3 96.4h1.2M1150.8 94.5h1.2M1102.8 88.1h1.2M1092.5 91.3h1.2M1089.5 95.8h1.2M1137.6 93.8h1.2M1144.8 94.3h1.2M1130.3 87.8h1.2M1163.0 95.0h1.2M1131.7 92.9h1.2M1148.3 88.4h1.2M1156.5 90.2h1.2M1086.3 90.3h1.2M1155.7 89.8h1.2M1156.8 97.2h1.2M1130.8 91.5h1.2M1129.2 94.4h1.2M1159.7 93.7h1.2M1146.5 88.5h1.2M1094.0 90.2h1.2M1157.2 90.7h1.2M1138.6 87.9h1.2M1084.8 90.4h1.2M1149.6 94.4h1.2M1150.0 90.6h1.2M1133.2 92.3h1.2M1127.8 88.9h1.2M1173.1 89.7h1.2M1182.1 96.8h1.2M1080.3 92.2h1.2M1165.3 97.1h1.2M1126.0 90.4h1.2M1100.6 96.9h1.2M1100.7 93.4h1.2M1093.4 92.8h1.2M1179.4 89.1h1.2M1165.3 92.7h1.2M1172.4 94.6h1.2M1102.9 96.4h1.2M1129.9 88.0h1.2M1078.8 92.5h1.2M1126.2 90.7h1.2M1093.3 91.1h1.2M1111.9 95.9h1.2M1078.6 95.0h1.2M1167.3 89.0h1.2M1176.6 94.6h1.2M1174.0 90.6h1.2M1117.9 91.6h1.2M1184.3 93.5h1.2M1116.6 91.9h1.2M1107.6 88.3h1.2M1089.2 95.8h1.2M1108.7 96.8h1.2M1104.8 90.4h1.2M1132.6 89.6h1.2M1118.0 97.0h1.2M1172.1 95.6h1.2M1145.3 96.6h1.2M1178.1 93.1h1.2M1154.7 88.3h1.2M1156.0 92.1h1.2M1158.2 94.0h1.2M1108.7 88.3h1.2M1176.6 89.0h1.2M1128.5 91.1h1.2M1110.0 94.9h1.2M1181.9 90.3h1.2M1147.9 90.7h1.2M1137.5 91.6h1.2M1096.1 89.4h1.2M1100.4 96.5h1.2M1131.1 89.9h1.2M1174.5 97.4h1.2M1126.1 89.1h1.2M1098.8 88.7h1.2M1114.6 88.7h1.2M1103.7 90.3h1.2M1138.8 96.3h1.2M1157.9 91.8h1.2M1122.3 92.8h1.2M1118.3 91.0h1.2M1085.0 90.5h1.2M1181.0 89.0h1.2M1131.8 93.8h1.2M1169.9 89.9h1.2M1107.1 90.2h1.2M1120.8 92.1h1.2M1179.5 95.9h1.2M1170.9 88.0h1.2M1081.8 94.6h1.2M1173.3 92.3h1.2M1140.6 87.8h1.2M1119.9 96.7h1.2M1165.9 96.0h1.2M1181.5 90.2h1.2M1090.0 89.3h1.2M1133.8 94.3h1.2M1178.2 94.7h1.2M1147.0 95.1h1.2M1126.9 93.1h1.2M1082.6 95.3h1.2M1103.1 96.6h1.2M1146.8 90.7h1.2M1092.0 90.2h1.2M1145.8 94.5h1.2M1090.3 88.5h1.2M1134.0 93.4h1.2M1119.5 89.9h1.2M1142.1 87.9h1.2M1110.4 92.2h1.2M1180.0 94.0h1.2M1172.1 92.4h1.2M1103.3 90.2h1.2M1180.2 94.6h1.2M1111.0 88.0h1.2M1131.2 94.3h1.2M1122.9 90.3h1.2M1149.1 96.7h1.2M1102.4 88.1h1.2M1114.2 91.8h1.2M1150.8 89.7h1.2M1162.9 94.9h1.2M1131.9 89.8h1.2M1181.2 90.8h1.2M1165.3 90.0h1.2M1101.9 95.1h1.2M1109.7 96.9h1.2M1131.0 89.6h1.2M1102.1 91.8h1.2M1148.9 96.9h1.2M1093.9 91.6h1.2M1101.0 97.2h1.2M1093.4 88.3h1.2M1084.8 91.6h1.2M1173.6 96.3h1.2M1156.1 97.4h1.2M1177.1 91.0h1.2M1098.1 96.8h1.2M1157.5 88.1h1.2M1148.8 91.4h1.2M1118.0 91.0h1.2M1096.3 87.8h1.2M1108.1 91.2h1.2M1179.7 89.0h1.2M1180.6 89.8h1.2M1116.2 95.7h1.2M1165.5 92.0h1.2M1083.6 92.3h1.2M1117.9 96.6h1.2M1098.9 91.3h1.2M1173.5 88.1h1.2M1121.9 95.6h1.2M1159.7 88.2h1.2M1082.1 88.4h1.2M1175.9 90.3h1.2M1157.6 96.4h1.2M1114.3 90.4h1.2M1179.9 93.7h1.2M1106.2 94.7h1.2M1111.9 90.4h1.2M1078.8 95.1h1.2M1175.5 93.9h1.2M1178.4 88.0h1.2M1103.2 92.4h1.2M1179.8 97.0h1.2M1119.4 90.2h1.2M1124.0 92.5h1.2M1176.8 89.6h1.2M1163.5 94.9h1.2M1165.6 95.2h1.2M1142.8 90.9h1.2M1112.3 91.3h1.2M1161.3 88.6h1.2M1099.3 95.0h1.2M1104.6 88.4h1.2M1082.0 93.1h1.2M1112.9 97.2h1.2M1172.0 97.3h1.2M1106.5 88.6h1.2M1088.6 92.6h1.2M1153.6 92.1h1.2M1103.2 91.8h1.2M1144.2 94.3h1.2M1157.7 95.9h1.2M1148.8 89.0h1.2M1167.5 90.6h1.2M1138.5 91.4h1.2M1156.6 89.7h1.2M1104.6 90.2h1.2M1094.7 96.3h1.2M1139.7 90.9h1.2M1120.4 97.3h1.2M1132.2 90.0h1.2M1164.1 94.1h1.2M1183.4 88.8h1.2M1128.7 95.7h1.2M1167.5 96.6h1.2M1082.7 90.6h1.2M1091.0 89.6h1.2M1181.5 93.4h1.2M1177.0 91.4h1.2M1170.2 92.1h1.2M1106.0 95.3h1.2M1178.6 88.8h1.2M1141.6 93.8h1.2M1101.5 91.3h1.2M1093.4 89.8h1.2M1105.4 93.6h1.2M1147.5 89.8h1.2M1079.6 90.9h1.2M1150.3 89.6h1.2M1111.5 89.8h1.2M1162.7 93.1h1.2M1085.1 88.8h1.2M1120.3 93.1h1.2M1146.2 88.7h1.2M1095.8 94.5h1.2M1121.8 90.5h1.2M1111.0 97.0h1.2M1111.5 93.2h1.2M1116.3 91.8h1.2M1170.0 97.4h1.2M1117.0 89.7h1.2M1155.6 89.8h1.2M1079.0 96.5h1.2M1123.3 95.7h1.2M1121.5 96.3h1.2M1127.3 89.4h1.2M1080.0 93.1h1.2M1146.3 96.5h1.2M1087.8 93.8h1.2M1117.7 92.6h1.2M1093.9 90.5h1.2M1133.6 96.7h1.2M1089.9 92.5h1.2M1163.7 97.1h1.2M1099.3 89.0h1.2M1178.4 97.2h1.2M1129.6 88.3h1.2M1176.6 91.5h1.2M1174.2 93.8h1.2M1165.8 89.3h1.2M1161.7 89.9h1.2M1121.3 95.9h1.2M1166.3 89.6h1.2M1101.5 91.6h1.2M1133.3 91.5h1.2M1091.4 90.2h1.2M1155.2 96.4h1.2M1082.8 93.2h1.2M1158.7 88.2h1.2M1167.2 88.9h1.2M1141.9 93.1h1.2M1144.9 90.7h1.2M1122.9 93.4h1.2M1123.5 94.1h1.2M1125.8 92.0h1.2M1080.9 93.7h1.2M1130.3 90.1h1.2M1159.3 95.3h1.2M1127.0 89.5h1.2M1128.6 88.8h1.2M1092.0 91.9h1.2M1088.1 92.0h1.2M1132.5 88.2h1.2M1145.9 88.6h1.2M1156.1 95.3h1.2M1132.6 88.3h1.2M1131.8 91.4h1.2M1179.2 89.1h1.2M1169.2 97.4h1.2M1156.0 95.6h1.2M1098.9 97.2h1.2M1130.5 97.0h1.2M1175.5 89.4h1.2M1162.0 96.7h1.2M1085.3 91.2h1.2M1158.6 89.3h1.2M1173.4 90.4h1.2M1164.9 89.2h1.2M1131.6 96.6h1.2M1100.5 90.3h1.2M1132.0 90.9h1.2M1082.3 89.5h1.2M1095.5 96.8h1.2M1150.4 96.4h1.2M1096.3 95.3h1.2M1090.6 92.9h1.2M1145.8 91.3h1.2M1170.9 93.1h1.2M1139.9 96.3h1.2M1089.5 97.3h1.2M1145.2 91.6h1.2M1163.0 90.3h1.2M1183.4 93.3h1.2M1116.6 95.1h1.2M1125.3 89.5h1.2M1157.2 88.3h1.2M1165.3 90.2h1.2M1146.2 97.2h1.2M1140.5 94.2h1.2M1111.5 87.8h1.2M1082.0 89.2h1.2M1143.7 91.9h1.2M1132.7 96.4h1.2M1092.4 90.0h1.2M1147.6 88.0h1.2M1078.7 91.2h1.2M1089.7 91.2h1.2M1102.2 93.4h1.2M1140.8 89.8h1.2M1144.5 92.4h1.2M1092.7 96.8h1.2M1104.2 89.2h1.2M1088.6 93.9h1.2M1170.8 95.3h1.2M1121.0 90.3h1.2M1079.6 94.0h1.2M1138.0 91.2h1.2M1146.8 92.1h1.2M1177.7 94.8h1.2M1104.7 96.5h1.2M1083.1 92.9h1.2M1121.4 90.1h1.2M1084.6 95.3h1.2M1079.7 93.1h1.2M1178.1 89.2h1.2M1099.5 93.6h1.2M1132.1 94.0h1.2M1164.6 89.5h1.2M1111.2 90.7h1.2M1083.5 96.3h1.2M1161.4 94.7h1.2M1079.1 95.9h1.2M1157.4 92.3h1.2M1157.0 92.1h1.2M1102.4 88.8h1.2M1103.0 88.2h1.2M1114.0 95.0h1.2M1152.1 95.9h1.2M1153.8 90.4h1.2M1137.1 92.0h1.2M1162.0 92.8h1.2M1106.5 94.0h1.2M1180.7 89.9h1.2M1171.7 87.9h1.2M1106.0 90.1h1.2M1157.3 96.9h1.2M1157.5 90.9h1.2M1171.7 91.0h1.2M1103.8 96.5h1.2M1145.3 94.5h1.2M1148.9 97.2h1.2M1128.2 95.9h1.2M1152.3 96.0h1.2M1124.7 94.8h1.2M1138.9 90.8h1.2M1100.9 93.8h1.2M1086.6 96.5h1.2M1093.7 88.1h1.2M1089.7 96.7h1.2M1115.0 89.2h1.2M1081.4 88.2h1.2M1151.8 93.9h1.2M1152.3 94.9h1.2M1085.4 93.5h1.2M1116.9 95.6h1.2M1165.3 96.4h1.2M1085.4 96.1h1.2M1175.3 96.9h1.2M1089.8 89.8h1.2M1090.3 88.1h1.2M1168.3 95.6h1.2M1145.6 95.7h1.2M1145.3 90.6h1.2M1089.0 88.7h1.2M1158.7 89.8h1.2M1112.2 91.9h1.2M1080.6 90.3h1.2M1108.4 94.7h1.2M1117.4 90.9h1.2M1180.6 92.6h1.2M1168.6 93.7h1.2M1081.7 91.8h1.2M1124.7 95.2h1.2M1115.2 94.6h1.2M1135.4 89.9h1.2M1169.8 88.7h1.2M1165.3 89.4h1.2M1078.5 89.7h1.2M1159.2 97.2h1.2M1078.9 92.5h1.2M1130.5 95.4h1.2M1098.0 92.5h1.2M1115.2 95.8h1.2M1106.0 96.9h1.2M1108.5 89.9h1.2M1152.5 92.6h1.2M1090.1 93.9h1.2M1087.0 95.4h1.2M1152.3 95.4h1.2M1145.0 91.2h1.2M1120.9 91.6h1.2M1172.8 88.6h1.2M1172.6 88.0h1.2M1100.2 90.3h1.2M1173.9 92.6h1.2M1118.6 96.3h1.2M1103.2 92.2h1.2M1134.7 95.0h1.2M1158.2 94.0h1.2M1115.3 90.9h1.2M1094.9 95.9h1.2M1148.6 94.9h1.2M1096.4 92.0h1.2M1160.4 93.4h1.2M1091.8 92.2h1.2M1172.2 90.1h1.2M1098.7 90.7h1.2M1152.9 95.9h1.2M1094.8 89.3h1.2M1104.6 90.9h1.2M1133.8 89.3h1.2M1113.2 89.6h1.2M1181.8 94.8h1.2M1089.2 97.0h1.2M1089.2 91.5h1.2M1182.7 95.4h1.2M1156.1 92.0h1.2M1099.2 93.9h1.2M1089.7 89.8h1.2M1119.6 88.1h1.2M1120.7 95.4h1.2M1151.9 92.6h1.2M1145.4 92.2h1.2M1093.4 93.6h1.2M1121.3 94.9h1.2M1174.6 91.9h1.2M1139.2 95.0h1.2M1123.0 90.0h1.2M1155.0 96.2h1.2M1160.4 94.5h1.2M1168.8 94.3h1.2M1146.4 92.2h1.2M1111.6 93.8h1.2M1088.8 91.8h1.2M1161.3 94.6h1.2M1145.1 90.2h1.2M1123.3 92.2h1.2M1144.3 91.7h1.2M1150.0 96.7h1.2M1097.8 94.1h1.2M1160.9 91.5h1.2M1130.3 97.2h1.2M1082.4 93.0h1.2M1095.4 95.3h1.2M1178.1 92.8h1.2M1089.1 93.3h1.2M1135.7 94.7h1.2M1132.7 93.9h1.2M1166.3 92.8h1.2M1121.9 96.9h1.2M1100.7 94.4h1.2M1120.0 95.1h1.2M1091.4 97.3h1.2M1116.1 88.3h1.2M1107.5 91.6h1.2M1079.8 91.8h1.2M1123.0 94.5h1.2M1115.7 90.3h1.2M1102.2 94.9h1.2M1178.0 92.9h1.2M1101.6 95.5h1.2M1119.9 89.8h1.2M1092.1 95.3h1.2M1164.2 93.9h1.2M1128.1 93.2h1.2M1102.4 97.1h1.2M1115.8 93.9h1.2M1165.2 95.6h1.2M1128.0 90.6h1.2M1136.5 89.0h1.2M1166.8 91.2h1.2M1168.6 90.4h1.2M1118.3 90.2h1.2M1123.6 89.6h1.2M1078.7 94.7h1.2M1108.2 90.2h1.2M1110.4 92.4h1.2M1123.8 93.9h1.2M1148.3 91.3h1.2M1176.8 96.0h1.2M1084.4 95.7h1.2M1174.4 95.3h1.2M1093.3 95.8h1.2M1145.5 87.9h1.2M1079.6 96.9h1.2M1147.9 90.2h1.2M1089.2 89.2h1.2M1103.2 95.3h1.2M1115.1 89.3h1.2M1174.2 95.4h1.2M1096.2 96.4h1.2M1142.9 95.3h1.2M1149.3 96.4h1.2M1161.9 95.9h1.2M1099.3 94.5h1.2M1134.7 94.9h1.2M1124.9 96.3h1.2M1137.2 90.3h1.2M1103.2 89.1h1.2M1130.7 88.4h1.2M1127.9 89.2h1.2M1130.5 92.6h1.2M1135.6 96.1h1.2M1079.1 95.9h1.2M1128.0 93.2h1.2M1148.9 95.9h1.2M1118.1 91.8h1.2M1180.2 88.5h1.2M1145.9 93.9h1.2M1081.4 93.7h1.2M1150.8 96.7h1.2M1113.4 97.2h1.2M1132.5 92.5h1.2M1173.5 88.1h1.2M1154.5 93.8h1.2M1114.3 96.1h1.2M1117.2 92.4h1.2M1134.1 95.2h1.2M1100.7 92.0h1.2M1123.2 93.1h1.2M1166.0 90.6h1.2M1166.1 91.7h1.2M1131.8 90.4h1.2M1132.1 97.2h1.2M1147.8 95.4h1.2M1113.5 90.8h1.2M1110.1 93.4h1.2M1145.7 95.3h1.2M1082.6 94.7h1.2M1172.3 93.0h1.2M1083.7 90.7h1.2M1079.1 89.6h1.2M1176.1 93.6h1.2M1148.1 95.4h1.2M1174.8 93.7h1.2M1143.8 93.8h1.2M1152.2 93.5h1.2M1150.6 89.8h1.2M1149.1 92.2h1.2M1159.2 88.8h1.2M1097.6 88.2h1.2M1160.5 96.6h1.2M1147.9 91.3h1.2M1165.6 95.4h1.2M1138.0 90.3h1.2M1110.4 91.8h1.2M1112.2 91.9h1.2M1146.4 96.8h1.2M1084.2 93.2h1.2M1082.6 88.9h1.2M1164.3 93.3h1.2M1175.8 92.1h1.2M1079.9 91.5h1.2M1141.1 96.8h1.2M1182.4 92.4h1.2M1122.1 88.8h1.2M1146.7 89.8h1.2M1094.5 87.9h1.2M1078.9 94.4h1.2M1091.3 97.1h1.2M1087.7 96.1h1.2M1092.1 88.0h1.2M1154.7 90.1h1.2M1156.2 89.6h1.2M1083.7 95.2h1.2M1154.0 96.0h1.2M1155.8 88.6h1.2M1145.0 94.6h1.2M1127.2 96.8h1.2M1105.3 97.1h1.2M1154.4 87.9h1.2M1080.0 94.0h1.2M1165.0 88.6h1.2M1111.4 94.8h1.2M1096.0 96.1h1.2M1130.0 88.4h1.2M1117.4 93.3h1.2M1124.9 94.3h1.2M1093.8 95.5h1.2M1116.9 94.0h1.2M1145.1 91.8h1.2M1119.3 95.3h1.2M1178.6 95.3h1.2M1138.5 90.6h1.2M1084.8 97.1h1.2M1152.9 95.7h1.2M1113.6 93.6h1.2M1182.0 95.8h1.2M1142.1 90.8h1.2M1123.8 96.3h1.2M1118.3 94.4h1.2M1142.2 96.4h1.2M1164.0 90.5h1.2M1078.6 90.3h1.2M1123.2 93.4h1.2M1164.9 96.3h1.2M1082.9 95.8h1.2M1164.4 96.1h1.2M1139.0 90.4h1.2M1168.6 95.5h1.2M1151.0 96.6h1.2M1115.2 88.6h1.2M1137.1 95.5h1.2M1099.6 95.0h1.2M1177.2 90.0h1.2M1142.7 94.3h1.2M1127.7 89.8h1.2M1105.4 95.0h1.2M1162.3 92.2h1.2M1087.7 95.5h1.2M1160.2 90.0h1.2M1139.8 96.4h1.2M1172.2 92.8h1.2M1128.9 93.5h1.2M1098.5 89.6h1.2M1097.6 94.5h1.2M1116.9 93.2h1.2M1121.1 92.8h1.2M1094.2 88.2h1.2M1184.1 91.4h1.2M1089.6 93.9h1.2M1161.9 89.3h1.2M1141.7 91.1h1.2M1133.5 88.0h1.2M1082.0 97.3h1.2M1170.2 92.5h1.2M1138.5 90.3h1.2M1161.0 91.9h1.2M1178.7 95.2h1.2M1165.2 97.0h1.2M1105.3 88.2h1.2M1099.7 89.5h1.2M1087.3 88.3h1.2M1137.5 96.2h1.2M1127.0 96.9h1.2M1174.9 88.4h1.2M1141.8 91.6h1.2M1091.1 97.0h1.2M1105.7 93.2h1.2M1146.3 97.0h1.2M1149.4 91.6h1.2M1125.9 89.3h1.2M1180.8 97.3h1.2M1101.9 88.2h1.2M1105.5 91.2h1.2M1174.1 96.5h1.2M1167.1 88.3h1.2M1161.8 94.6h1.2M1146.9 97.3h1.2M1084.3 89.2h1.2M1158.4 96.8h1.2M1150.2 90.7h1.2M1141.1 95.1h1.2M1089.6 90.9h1.2M1105.6 89.0h1.2M1129.4 89.4h1.2M1103.7 89.2h1.2M1150.2 87.9h1.2M1154.4 89.7h1.2M1082.2 96.7h1.2M1101.8 96.8h1.2M1170.3 96.3h1.2M1093.2 92.1h1.2M1088.7 96.7h1.2M1167.7 93.8h1.2M1126.3 91.1h1.2M1165.6 92.4h1.2M1145.0 89.2h1.2M1101.9 88.3h1.2M1154.1 93.1h1.2M1093.7 96.2h1.2M1106.6 91.8h1.2M1094.9 90.4h1.2M1167.4 91.0h1.2M1096.2 92.5h1.2M1112.1 96.5h1.2M1090.5 97.2h1.2M1084.4 96.4h1.2M1149.2 89.8h1.2M1129.0 90.5h1.2M1105.7 89.7h1.2M1117.0 97.3h1.2M1184.2 96.7h1.2M1088.7 90.6h1.2M1173.4 88.4h1.2M1155.4 90.6h1.2M1182.1 88.0h1.2M1163.9 91.1h1.2M1093.3 87.8h1.2M1166.6 92.9h1.2M1098.1 92.0h1.2M1175.1 89.9h1.2M1139.0 89.1h1.2M1097.5 95.2h1.2M1153.8 89.7h1.2M1086.8 88.6h1.2M1142.9 92.6h1.2M1107.4 89.8h1.2M1143.3 94.6h1.2M1164.4 93.4h1.2M1099.8 88.4h1.2M1156.1 91.7h1.2M1154.9 88.3h1.2M1164.3 91.0h1.2M1167.6 96.1h1.2M1130.7 87.9h1.2M1174.9 92.4h1.2M1170.8 90.4h1.2M1098.1 95.8h1.2M1117.3 89.4h1.2M1117.7 93.5h1.2M1078.9 92.8h1.2M1125.7 92.8h1.2M1091.2 94.7h1.2M1165.0 96.1h1.2M1112.4 94.6h1.2M1118.8 95.0h1.2M1084.9 96.2h1.2M1179.5 92.6h1.2M1132.8 92.9h1.2M1135.4 88.0h1.2M1180.9 89.9h1.2M1097.7 88.8h1.2M1104.9 95.6h1.2M1081.6 88.7h1.2M1152.5 89.7h1.2M1080.3 93.6h1.2M1139.5 92.8h1.2M1152.9 88.8h1.2M1170.6 94.7h1.2M1083.2 89.0h1.2M1130.7 92.6h1.2M1108.0 89.0h1.2M1121.4 89.1h1.2M1141.1 96.1h1.2M1094.0 93.3h1.2M1157.5 89.4h1.2M1166.0 96.8h1.2M1119.6 91.8h1.2M1167.4 92.8h1.2M1120.3 96.8h1.2M1160.8 91.1h1.2M1103.9 91.0h1.2M1124.6 97.2h1.2M1163.7 96.6h1.2M1164.8 95.9h1.2M1084.1 92.8h1.2M1179.9 96.8h1.2M1104.8 91.9h1.2M1145.5 91.3h1.2M1134.7 88.5h1.2M1124.3 92.6h1.2M1080.6 89.1h1.2M1181.2 95.3h1.2M1177.7 93.9h1.2M1164.2 96.3h1.2M1172.2 88.1h1.2M1146.4 90.4h1.2M1150.3 90.4h1.2M1135.9 96.7h1.2M1144.3 90.2h1.2M1133.6 92.0h1.2M1179.2 90.6h1.2M1110.8 94.0h1.2M1091.2 93.5h1.2M1179.7 92.7h1.2M1106.9 92.3h1.2M1135.0 89.2h1.2M1091.5 89.1h1.2M1109.5 91.7h1.2M1109.0 90.1h1.2M1087.7 93.0h1.2M1167.4 93.7h1.2M1138.8 94.0h1.2M1099.7 94.6h1.2M1127.3 93.1h1.2M1143.4 92.3h1.2M1111.3 90.1h1.2M1101.9 92.7h1.2M1119.0 93.4h1.2M1079.7 91.2h1.2M1169.8 90.1h1.2M1137.4 92.5h1.2M1108.6 97.3h1.2M1109.7 95.2h1.2M1095.2 88.4h1.2M1170.8 92.0h1.2M1085.0 91.5h1.2M1125.0 94.9h1.2M1090.0 90.0h1.2M1180.1 94.9h1.2M1094.8 91.0h1.2M1115.8 94.3h1.2M1143.7 96.0h1.2M1165.4 92.8h1.2M1156.7 94.9h1.2M1158.9 92.4h1.2M1161.6 94.6h1.2M1175.4 89.0h1.2M1170.7 87.8h1.2M1159.6 93.4h1.2M1131.2 97.0h1.2M1139.0 91.8h1.2M1161.5 96.2h1.2M1142.8 91.4h1.2M1126.3 92.2h1.2M1155.0 90.6h1.2M1119.8 93.1h1.2M1119.2 90.9h1.2M1161.8 96.0h1.2M1131.4 92.1h1.2M1097.9 90.7h1.2M1093.8 93.3h1.2M1140.0 88.6h1.2M1175.9 90.9h1.2M1167.8 95.8h1.2M1180.0 89.8h1.2M1123.6 96.5h1.2M1079.5 88.3h1.2M1138.3 92.6h1.2M1176.0 95.2h1.2M1135.5 97.4h1.2M1133.2 92.8h1.2M1151.0 91.5h1.2M1116.3 93.5h1.2M1115.6 96.9h1.2M1150.1 92.8h1.2M1088.9 91.4h1.2M1120.9 93.2h1.2M1139.2 96.2h1.2M1180.6 92.5h1.2M1125.1 93.8h1.2M1184.0 91.1h1.2M1134.6 95.6h1.2M1096.5 90.9h1.2M1182.1 95.7h1.2M1132.7 88.9h1.2M1173.2 94.4h1.2M1165.4 97.3h1.2M1172.5 91.8h1.2M1095.0 90.6h1.2M1132.6 92.6h1.2M1098.3 89.6h1.2M1145.2 93.6h1.2M1115.8 97.3h1.2M1145.9 88.2h1.2M1122.0 95.4h1.2M1110.9 94.4h1.2M1078.8 90.7h1.2M1167.7 93.4h1.2M1149.2 89.7h1.2M1131.2 93.1h1.2M1106.6 94.0h1.2M1134.7 97.4h1.2M1139.3 91.7h1.2M1091.3 89.3h1.2M1158.9 88.8h1.2M1089.0 89.4h1.2M1133.8 95.7h1.2M1143.4 95.5h1.2M1085.0 87.9h1.2M1160.1 90.9h1.2M1154.2 91.2h1.2M1096.4 90.4h1.2M1088.9 96.5h1.2M1140.1 91.1h1.2M1126.1 91.5h1.2M1084.2 96.3h1.2M1140.2 97.0h1.2M1125.0 93.8h1.2M1104.8 88.2h1.2M1177.1 96.0h1.2M1111.8 96.4h1.2M1164.9 90.7h1.2M1142.3 97.0h1.2M1130.9 96.9h1.2M1104.2 91.5h1.2M1154.6 89.9h1.2M1111.2 96.2h1.2M1129.7 95.4h1.2M1104.2 89.5h1.2M1116.4 89.6h1.2M1181.4 90.6h1.2M1137.9 88.9h1.2M1135.0 91.5h1.2M1121.1 88.4h1.2M1091.5 95.7h1.2M1115.6 90.2h1.2M1098.7 90.5h1.2M1103.5 88.1h1.2M1148.8 91.1h1.2M1094.9 94.6h1.2M1088.2 90.4h1.2M1166.9 89.0h1.2M1125.4 95.8h1.2M1163.7 89.3h1.2M1115.8 94.7h1.2M1118.4 97.0h1.2M1100.5 96.9h1.2M1131.9 90.0h1.2M1126.4 89.1h1.2M1153.3 90.3h1.2M1173.8 93.4h1.2M1117.4 90.2h1.2M1142.9 89.8h1.2M1170.9 89.0h1.2M1132.8 93.0h1.2M1107.1 95.2h1.2M1119.2 94.1h1.2M1138.6 90.8h1.2M1119.7 88.6h1.2M1097.2 96.0h1.2M1112.4 94.2h1.2M1089.9 93.2h1.2M1116.7 92.6h1.2M1109.9 88.4h1.2M1111.4 90.0h1.2M1091.8 94.7h1.2M1108.3 91.7h1.2M1174.7 95.2h1.2M1172.0 96.1h1.2M1092.4 90.5h1.2M1081.5 94.3h1.2M1148.7 91.2h1.2M1122.1 94.1h1.2M1152.5 90.2h1.2M1168.2 91.2h1.2M1145.1 89.5h1.2M1090.6 96.6h1.2M1156.2 94.6h1.2M1082.7 88.2h1.2M1095.6 89.7h1.2M1110.5 91.5h1.2M1082.6 90.8h1.2M1146.1 89.5h1.2M1167.4 93.3h1.2M1154.4 90.2h1.2M1124.5 94.4h1.2M1115.4 87.8h1.2M1166.8 95.3h1.2M1108.8 88.2h1.2M1168.9 93.6h1.2M1083.4 90.1h1.2M1090.2 95.4h1.2M1100.7 96.6h1.2M1157.8 88.6h1.2M1152.0 91.6h1.2M1157.6 95.8h1.2M1108.2 88.7h1.2M1178.7 91.9h1.2M1177.0 94.4h1.2M1156.7 95.8h1.2M1145.0 92.1h1.2M1084.2 94.5h1.2M1123.8 92.7h1.2M1176.8 89.0h1.2M1159.2 88.2h1.2M1152.9 95.5h1.2M1106.1 93.0h1.2M1181.2 93.9h1.2M1136.1 90.2h1.2M1084.7 91.2h1.2M1122.0 89.7h1.2M1111.3 89.1h1.2M1153.3 94.2h1.2M1103.6 90.1h1.2M1133.0 92.1h1.2M1177.6 91.2h1.2M1110.1 96.3h1.2M1093.4 93.2h1.2M1113.8 95.6h1.2M1136.5 95.1h1.2M1096.3 94.2h1.2M1141.9 92.2h1.2M1159.6 95.8h1.2M1090.5 90.6h1.2M1116.6 89.8h1.2M1084.8 90.5h1.2M1099.3 94.5h1.2M1125.9 88.9h1.2M1112.8 92.3h1.2M1116.9 89.4h1.2M1086.0 87.9h1.2M1183.6 95.0h1.2M1087.3 94.7h1.2M1182.3 93.2h1.2M1089.9 92.5h1.2M1124.4 89.6h1.2M1136.0 87.9h1.2M1175.9 94.0h1.2M1144.9 96.8h1.2M1147.6 90.2h1.2M1104.5 89.1h1.2M1081.3 95.2h1.2M1167.4 90.6h1.2M1098.1 93.9h1.2M1168.0 96.7h1.2M1096.3 95.3h1.2M1166.4 94.9h1.2M1113.0 89.6h1.2M1165.9 90.9h1.2M1117.5 93.1h1.2M1117.5 95.8h1.2M1103.8 88.2h1.2M1138.5 93.8h1.2M1165.3 94.6h1.2M1174.4 96.9h1.2M1130.8 92.6h1.2M1095.1 90.7h1.2M1140.0 88.6h1.2M1151.3 89.4h1.2M1125.4 97.1h1.2M1087.9 88.2h1.2M1125.0 89.6h1.2M1155.0 87.8h1.2M1167.5 96.0h1.2M1161.8 91.9h1.2M1108.4 94.2h1.2M1132.9 91.8h1.2M1114.3 92.0h1.2M1149.0 95.7h1.2M1174.2 89.4h1.2M1109.7 92.1h1.2M1138.1 91.1h1.2M1099.1 88.6h1.2M1112.7 92.2h1.2M1181.4 96.5h1.2M1170.1 97.2h1.2M1180.4 93.8h1.2M1164.4 88.4h1.2M1150.1 93.6h1.2M1109.9 93.3h1.2M1179.4 92.4h1.2M1147.0 90.7h1.2M1114.8 96.3h1.2M1081.4 89.6h1.2M1150.3 92.1h1.2M1087.4 94.1h1.2M1117.8 93.4h1.2M1122.5 92.9h1.2M1138.3 91.6h1.2M1090.5 89.5h1.2M1172.7 93.1h1.2M1090.3 96.1h1.2M1105.3 88.7h1.2M1134.7 90.2h1.2M1130.3 93.1h1.2M1102.4 93.3h1.2M1090.4 92.7h1.2M1140.8 88.6h1.2M1121.7 88.5h1.2M1125.0 96.1h1.2M1136.8 94.7h1.2M1158.6 88.9h1.2M1183.4 94.7h1.2M1089.2 95.8h1.2M1119.9 89.4h1.2M1180.2 93.2h1.2M1160.5 89.1h1.2M1160.7 88.4h1.2M1103.5 91.4h1.2M1080.0 93.5h1.2M1101.0 90.7h1.2M1153.4 91.9h1.2M1172.6 93.8h1.2M1170.8 93.2h1.2M1175.7 96.2h1.2M1096.2 95.0h1.2M1114.6 95.1h1.2M1150.5 95.7h1.2M1091.4 91.4h1.2M1156.5 96.9h1.2M1154.9 88.2h1.2M1142.4 88.8h1.2M1136.6 95.5h1.2M1090.4 96.7h1.2M1150.0 90.2h1.2M1098.9 92.1h1.2M1167.2 93.4h1.2M1090.4 88.0h1.2M1090.1 95.5h1.2M1098.0 93.1h1.2M1109.1 94.4h1.2M1118.8 89.2h1.2M1171.2 93.0h1.2M1151.5 95.6h1.2M1179.0 87.9h1.2M1114.7 89.2h1.2M1131.6 96.2h1.2M1163.2 88.1h1.2M1097.7 95.7h1.2M1150.4 91.6h1.2M1128.8 89.3h1.2M1168.0 91.6h1.2M1170.9 93.7h1.2M1086.4 91.0h1.2M1101.3 96.4h1.2M1140.9 88.2h1.2M1096.4 91.3h1.2M1128.0 93.3h1.2M1119.5 91.2h1.2M1079.0 93.4h1.2M1113.8 88.0h1.2M1127.1 97.3h1.2M1083.2 89.2h1.2M1149.5 90.4h1.2M1107.4 92.6h1.2M1106.2 93.3h1.2M1134.4 97.0h1.2M1183.6 88.1h1.2M1137.8 95.2h1.2M1170.9 95.2h1.2M1145.5 93.9h1.2M1116.9 90.5h1.2M1162.7 96.2h1.2M1177.9 94.3h1.2M1110.6 95.1h1.2M1156.8 92.7h1.2M1145.7 91.2h1.2M1136.8 91.7h1.2M1084.8 91.0h1.2M1112.7 97.3h1.2M1129.4 91.3h1.2M1104.2 90.1h1.2M1115.4 89.1h1.2M1079.2 96.2h1.2M1126.4 92.1h1.2M1138.7 90.7h1.2M1096.3 88.4h1.2M1110.4 90.8h1.2M1155.4 93.1h1.2M1177.8 91.1h1.2M1176.0 93.4h1.2M1086.9 89.5h1.2M1139.9 97.3h1.2M1116.2 95.2h1.2M1123.8 96.1h1.2M1085.6 92.5h1.2M1173.7 90.4h1.2M1105.7 88.0h1.2M1095.8 90.4h1.2M1153.1 89.9h1.2M1120.8 89.7h1.2M1142.3 96.1h1.2M1147.1 89.7h1.2M1156.2 97.0h1.2M1142.1 88.6h1.2M1164.2 96.2h1.2M1114.6 89.1h1.2M1098.3 93.0h1.2M1171.2 93.9h1.2M1176.2 89.8h1.2M1113.0 95.0h1.2M1147.2 91.7h1.2M1150.4 91.0h1.2M1084.5 91.8h1.2M1083.2 93.8h1.2M1113.9 92.5h1.2M1141.8 90.3h1.2M1127.5 87.9h1.2M1176.5 93.2h1.2M1183.1 88.3h1.2M1143.5 94.8h1.2M1113.3 88.7h1.2M1095.0 89.2h1.2M1159.7 88.7h1.2M1164.7 91.9h1.2M1135.5 93.4h1.2M1137.2 94.1h1.2M1142.2 91.0h1.2M1157.0 90.3h1.2M1153.8 95.1h1.2M1160.7 90.8h1.2M1160.3 97.2h1.2M1126.4 90.5h1.2M1133.9 96.8h1.2M1092.4 87.9h1.2M1128.8 94.1h1.2M1160.5 91.3h1.2M1183.3 90.0h1.2M1158.6 88.7h1.2M1081.4 89.1h1.2M1084.8 92.6h1.2M1137.3 89.5h1.2M1178.0 91.3h1.2M1094.2 89.5h1.2M1156.6 96.6h1.2M1095.6 88.1h1.2M1160.9 90.1h1.2M1182.5 92.6h1.2M1145.8 91.1h1.2M1163.3 92.2h1.2M1112.7 96.5h1.2M1089.8 94.8h1.2M1085.3 94.0h1.2M1121.0 96.1h1.2M1084.8 93.2h1.2M1121.9 96.6h1.2M1178.6 93.8h1.2M1102.2 90.2h1.2M1106.2 92.0h1.2M1102.9 89.8h1.2M1158.9 94.0h1.2M1110.0 97.3h1.2M1101.4 93.3h1.2M1095.0 96.1h1.2M1170.5 90.4h1.2M1158.1 95.7h1.2M1108.4 91.0h1.2M1129.9 96.4h1.2M1095.5 94.4h1.2M1141.7 92.1h1.2M1139.8 96.3h1.2M1100.6 96.3h1.2M1116.6 95.3h1.2M1169.9 89.6h1.2M1170.0 97.4h1.2M1109.9 88.0h1.2M1090.2 97.2h1.2M1079.4 96.6h1.2M1094.4 94.9h1.2M1088.7 89.4h1.2M1150.8 88.7h1.2M1114.4 96.6h1.2M1154.3 96.3h1.2M1182.2 88.1h1.2M1103.3 95.4h1.2M1151.5 88.2h1.2M1131.9 90.0h1.2M1124.0 88.8h1.2M1080.5 97.3h1.2M1111.9 96.2h1.2M1091.2 92.5h1.2M1092.8 91.9h1.2M1097.4 94.4h1.2M1094.1 94.9h1.2M1131.5 88.9h1.2M1115.9 92.6h1.2M1175.8 91.2h1.2M1101.2 97.1h1.2M1172.0 94.8h1.2M1107.3 89.5h1.2M1106.5 88.5h1.2M1083.0 92.7h1.2M1121.7 93.1h1.2M1116.8 87.9h1.2M1151.3 94.1h1.2M1136.1 93.1h1.2M1151.6 97.2h1.2M1171.1 94.7h1.2M1120.7 90.9h1.2M1122.8 97.1h1.2M1119.4 91.5h1.2M1121.9 89.2h1.2M1184.2 87.9h1.2M1142.8 96.7h1.2M1105.4 93.7h1.2M1192.7 90.5h1.2M1188.8 89.5h1.2M1202.9 94.9h1.2M1204.4 89.0h1.2M1199.7 91.2h1.2M1198.6 93.0h1.2M1191.3 96.4h1.2M1184.4 94.6h1.2M1203.2 92.7h1.2M1197.4 96.6h1.2M1189.6 93.6h1.2M1200.8 91.6h1.2M1200.1 91.7h1.2M1196.0 93.5h1.2M1199.3 91.2h1.2M1198.2 92.9h1.2M1189.3 93.5h1.2M1190.2 95.9h1.2M1194.8 94.4h1.2M1195.9 92.4h1.2M1189.3 89.7h1.2M1204.8 92.8h1.2M1195.9 92.8h1.2M1202.3 90.5h1.2M1188.2 95.2h1.2M1194.5 93.7h1.2M1202.6 95.8h1.2M1203.5 88.9h1.2M1192.8 95.3h1.2M1202.4 89.6h1.2M1187.8 90.6h1.2M1186.7 91.5h1.2M1202.1 92.8h1.2M1194.4 89.3h1.2M1193.1 96.6h1.2M1199.7 92.2h1.2M1194.9 95.0h1.2M1201.1 89.8h1.2M1199.4 91.5h1.2M1195.9 90.5h1.2M1192.6 91.3h1.2M1192.8 88.7h1.2M1188.8 93.2h1.2M1185.7 90.0h1.2M1200.2 90.8h1.2M1191.5 90.5h1.2M1202.8 89.3h1.2M1198.4 95.5h1.2M1188.8 92.0h1.2M1201.8 93.5h1.2M1192.6 89.0h1.2M1194.1 91.5h1.2M1200.1 91.0h1.2M1193.4 93.8h1.2M1202.2 91.4h1.2M1192.9 93.2h1.2M1204.7 90.1h1.2M1205.8 94.3h1.2M1192.6 93.9h1.2M1191.6 89.2h1.2" stroke="#4c16a8" stroke-width="1.25" stroke-opacity=".9" fill="none"/>
<path d="M1070.1 95.4V132.6" stroke="#9378da" stroke-width="1.4" stroke-opacity=".85" fill="none"/>
<path d="M1077.4 112.9h1.2M1072.7 113.9h1.2M1080.4 116.3h1.2M1062.4 114.8h1.2M1071.4 113.6h1.2M1079.1 113.2h1.2M1071.6 117.6h1.2M1070.9 113.9h1.2M1072.4 116.9h1.2M1075.6 116.2h1.2M1070.1 109.7h1.2M1075.8 114.5h1.2M1077.7 116.4h1.2M1064.3 111.4h1.2M1063.5 116.9h1.2M1064.0 110.2h1.2M1077.3 114.6h1.2M1063.0 115.6h1.2M1076.5 113.8h1.2M1063.0 115.7h1.2M1070.5 114.7h1.2M1082.4 116.9h1.2M1079.8 110.7h1.2M1068.8 114.1h1.2M1062.0 118.5h1.2M1067.5 111.8h1.2M1068.3 111.7h1.2M1079.5 114.5h1.2M1072.4 113.2h1.2M1062.9 112.2h1.2M1079.7 116.7h1.2M1079.5 111.7h1.2M1066.0 109.8h1.2M1072.9 112.8h1.2M1071.4 113.9h1.2M1073.9 112.7h1.2M1078.3 111.2h1.2M1080.7 114.5h1.2M1062.9 112.3h1.2M1072.8 113.1h1.2M1073.5 112.3h1.2M1067.5 116.7h1.2M1067.9 115.9h1.2M1078.4 114.8h1.2M1071.2 118.0h1.2M1071.0 117.4h1.2M1063.1 113.4h1.2M1075.0 109.8h1.2M1079.6 110.0h1.2M1074.1 111.0h1.2M1080.8 114.5h1.2M1078.3 113.9h1.2M1075.7 115.6h1.2M1067.9 111.3h1.2M1079.1 110.7h1.2M1080.7 111.3h1.2M1064.0 110.2h1.2M1078.0 118.1h1.2M1070.4 115.4h1.2M1067.2 117.7h1.2M1076.0 110.8h1.2M1063.1 115.8h1.2M1062.8 117.1h1.2M1067.9 111.5h1.2M1073.8 112.3h1.2M1073.4 110.8h1.2M1080.6 112.3h1.2M1079.1 110.8h1.2M1078.3 118.4h1.2M1069.9 109.7h1.2M1069.7 115.3h1.2M1066.5 114.4h1.2M1063.8 113.6h1.2M1076.8 113.3h1.2M1075.8 110.4h1.2M1078.9 110.5h1.2M1080.8 118.5h1.2M1081.2 114.2h1.2M1067.9 112.6h1.2M1077.3 113.9h1.2M1081.0 110.2h1.2M1071.8 117.3h1.2M1074.2 114.3h1.2M1063.7 110.6h1.2M1067.5 117.6h1.2M1079.2 111.5h1.2M1080.9 109.7h1.2M1074.2 118.3h1.2M1069.0 118.0h1.2M1075.4 109.8h1.2M1068.7 113.5h1.2M1067.0 116.2h1.2M1065.6 116.6h1.2M1068.0 110.0h1.2M1073.4 110.2h1.2M1073.2 116.6h1.2M1074.1 113.6h1.2M1062.6 114.1h1.2M1063.9 115.3h1.2M1064.6 114.7h1.2M1069.1 112.8h1.2M1075.5 110.9h1.2M1065.4 118.0h1.2M1068.7 117.1h1.2M1079.8 113.8h1.2M1065.0 110.2h1.2M1079.9 110.4h1.2M1072.1 114.3h1.2M1064.3 113.7h1.2M1065.3 114.3h1.2M1072.3 112.7h1.2M1066.0 113.1h1.2M1066.1 110.5h1.2M1066.8 117.4h1.2M1072.2 117.6h1.2M1062.2 118.0h1.2M1071.9 116.6h1.2M1073.6 115.7h1.2M1066.6 116.3h1.2M1065.0 111.8h1.2M1062.5 113.0h1.2M1072.5 112.0h1.2M1080.2 110.1h1.2M1073.8 111.5h1.2M1074.1 116.6h1.2M1076.5 109.9h1.2M1066.9 114.9h1.2M1082.1 109.7h1.2M1074.6 115.7h1.2M1078.6 112.5h1.2M1078.5 113.6h1.2M1080.8 109.5h1.2M1081.2 113.2h1.2M1070.2 110.2h1.2M1066.9 116.1h1.2M1075.8 110.8h1.2M1069.0 110.7h1.2M1066.0 111.4h1.2M1068.7 118.3h1.2M1082.3 116.6h1.2M1071.7 113.9h1.2M1077.9 117.7h1.2M1077.3 115.2h1.2M1066.0 115.1h1.2M1079.2 116.6h1.2M1063.8 116.0h1.2M1069.1 110.9h1.2M1081.7 115.5h1.2M1077.2 110.6h1.2M1078.9 118.0h1.2M1080.4 116.2h1.2M1079.0 116.7h1.2M1074.0 113.4h1.2M1078.8 116.6h1.2M1079.8 112.1h1.2M1081.6 114.3h1.2M1081.3 110.4h1.2M1081.8 116.6h1.2M1067.1 117.1h1.2M1066.7 111.2h1.2M1071.3 111.5h1.2M1072.0 117.7h1.2M1075.9 115.9h1.2M1069.9 116.6h1.2M1078.2 115.6h1.2M1081.2 117.0h1.2M1070.2 110.2h1.2M1075.3 117.1h1.2M1068.9 114.8h1.2M1079.0 116.7h1.2M1062.0 113.9h1.2M1062.2 110.4h1.2M1078.6 113.2h1.2M1074.3 113.6h1.2M1068.8 111.3h1.2M1069.2 117.1h1.2M1074.6 112.0h1.2M1063.7 111.9h1.2M1076.3 113.4h1.2M1075.5 116.8h1.2M1064.4 115.6h1.2M1062.8 116.9h1.2M1065.7 111.9h1.2M1081.5 112.7h1.2M1066.5 117.5h1.2M1074.4 117.6h1.2M1070.0 114.0h1.2M1081.5 114.0h1.2M1082.2 111.1h1.2M1078.9 110.9h1.2M1072.7 109.4h1.2M1065.5 118.1h1.2M1071.2 116.8h1.2M1067.0 112.6h1.2M1064.0 114.4h1.2M1079.6 114.1h1.2M1069.6 117.9h1.2M1080.2 115.5h1.2M1063.5 115.1h1.2M1071.0 118.2h1.2M1069.3 115.4h1.2M1074.9 112.8h1.2M1072.6 115.6h1.2M1080.5 113.9h1.2M1069.4 118.3h1.2M1063.1 117.0h1.2M1075.9 114.5h1.2M1071.1 116.3h1.2M1080.2 116.1h1.2M1077.3 109.7h1.2M1068.6 110.6h1.2M1081.4 117.6h1.2M1064.9 114.8h1.2M1073.7 109.8h1.2M1069.9 116.2h1.2M1075.1 111.9h1.2M1077.5 112.0h1.2M1073.1 113.2h1.2M1082.0 115.3h1.2M1078.4 115.6h1.2M1069.7 118.2h1.2M1076.4 115.7h1.2M1067.6 110.8h1.2M1073.7 117.0h1.2M1078.2 112.6h1.2M1064.8 114.1h1.2M1079.9 110.9h1.2M1077.0 110.9h1.2M1068.3 109.9h1.2M1068.0 112.9h1.2M1081.7 118.2h1.2M1065.7 112.2h1.2M1081.2 111.2h1.2M1068.5 113.4h1.2M1064.1 111.8h1.2M1070.0 112.9h1.2M1081.7 111.8h1.2M1066.1 117.7h1.2M1071.1 117.1h1.2M1075.0 116.5h1.2M1068.4 110.8h1.2M1077.4 113.7h1.2M1073.4 115.5h1.2M1077.3 111.9h1.2M1069.3 117.8h1.2M1072.8 112.0h1.2M1074.8 111.7h1.2M1077.7 109.7h1.2M1078.8 114.6h1.2M1069.1 118.0h1.2M1067.3 111.6h1.2M1063.3 114.4h1.2M1077.4 115.6h1.2M1070.4 116.8h1.2M1064.2 112.2h1.2M1075.1 118.3h1.2M1074.9 115.7h1.2M1077.8 113.0h1.2M1081.2 116.2h1.2M1068.9 113.0h1.2M1078.4 112.6h1.2M1065.7 117.4h1.2M1072.8 114.2h1.2M1075.6 117.7h1.2M1064.6 112.5h1.2M1063.3 113.2h1.2M1072.2 117.2h1.2M1075.6 114.7h1.2M1070.2 114.6h1.2M1067.5 117.1h1.2M1078.1 117.1h1.2M1065.0 115.5h1.2M1077.4 114.0h1.2M1080.3 117.6h1.2M1077.1 116.9h1.2M1075.2 117.4h1.2M1064.6 115.8h1.2M1076.3 115.0h1.2M1067.5 110.0h1.2M1074.3 116.9h1.2M1067.5 111.3h1.2M1066.5 110.2h1.2M1075.8 118.3h1.2M1078.3 112.7h1.2M1076.2 110.0h1.2M1079.1 112.4h1.2M1062.0 115.1h1.2M1064.7 111.9h1.2M1063.1 113.5h1.2M1073.3 116.8h1.2M1062.7 117.0h1.2M1064.2 111.4h1.2M1074.8 112.5h1.2M1068.7 114.6h1.2M1066.4 116.7h1.2M1066.2 117.1h1.2M1078.5 114.3h1.2M1062.5 116.5h1.2M1062.5 114.0h1.2M1070.6 109.9h1.2M1074.8 116.0h1.2M1073.9 113.0h1.2M1072.4 114.8h1.2M1066.5 117.3h1.2M1082.3 116.8h1.2M1081.6 112.4h1.2M1082.1 110.0h1.2M1071.7 110.6h1.2M1071.2 115.6h1.2M1076.4 113.5h1.2M1068.9 111.1h1.2M1070.2 112.0h1.2M1065.9 116.1h1.2M1072.5 113.4h1.2M1066.0 115.8h1.2M1065.9 111.8h1.2M1073.4 115.8h1.2M1081.8 116.2h1.2M1081.3 117.8h1.2M1076.7 116.0h1.2M1063.2 111.3h1.2M1062.2 117.3h1.2M1076.7 115.2h1.2M1067.3 112.6h1.2M1065.3 115.2h1.2M1082.2 112.2h1.2M1062.8 111.0h1.2M1069.2 117.6h1.2M1078.4 113.5h1.2M1064.0 110.3h1.2M1065.1 116.5h1.2M1071.6 118.5h1.2M1080.6 116.7h1.2M1071.7 116.9h1.2M1064.5 110.4h1.2M1073.5 114.0h1.2M1066.2 111.7h1.2M1062.3 117.7h1.2M1076.5 118.1h1.2M1082.0 113.4h1.2M1076.9 112.9h1.2M1078.5 117.1h1.2M1064.6 109.5h1.2M1066.3 114.7h1.2M1069.7 109.4h1.2M1078.9 116.6h1.2M1071.4 109.8h1.2M1080.1 114.3h1.2M1063.4 112.3h1.2M1074.7 117.5h1.2M1071.8 115.2h1.2M1066.1 111.6h1.2M1080.5 112.9h1.2M1064.0 114.8h1.2M1064.5 111.2h1.2M1071.3 114.7h1.2M1074.9 115.9h1.2M1070.9 110.0h1.2M1076.8 109.9h1.2M1071.5 113.0h1.2M1075.7 115.9h1.2M1066.8 115.3h1.2M1076.1 113.7h1.2M1064.8 117.7h1.2M1074.2 109.9h1.2M1066.8 118.4h1.2M1066.6 113.0h1.2M1078.1 116.9h1.2M1074.9 116.2h1.2M1062.7 110.2h1.2M1081.9 116.7h1.2M1062.7 109.8h1.2M1066.8 117.9h1.2M1066.4 115.5h1.2M1081.0 115.2h1.2M1080.7 111.8h1.2M1065.0 109.5h1.2M1077.4 110.3h1.2M1081.8 115.9h1.2M1065.7 116.8h1.2M1065.2 114.1h1.2M1064.1 116.6h1.2M1080.1 117.8h1.2M1061.9 117.2h1.2M1073.3 116.9h1.2M1072.2 115.1h1.2M1074.1 116.7h1.2M1063.5 109.9h1.2M1073.1 112.0h1.2M1070.0 109.4h1.2M1077.2 109.6h1.2M1078.9 116.8h1.2M1071.3 110.5h1.2M1075.2 111.3h1.2M1070.7 110.4h1.2M1081.9 114.4h1.2M1069.1 110.2h1.2M1076.9 117.2h1.2M1079.3 110.3h1.2M1069.4 112.1h1.2M1077.5 110.7h1.2M1074.3 118.4h1.2M1077.7 109.4h1.2M1063.4 110.4h1.2M1076.1 114.9h1.2M1072.6 113.6h1.2M1070.3 115.0h1.2M1075.2 117.8h1.2M1076.9 116.7h1.2M1080.6 117.1h1.2M1076.6 109.6h1.2M1075.9 117.2h1.2M1070.7 117.4h1.2M1065.6 118.0h1.2M1071.0 115.9h1.2M1067.1 112.1h1.2M1069.0 112.3h1.2M1063.8 113.4h1.2M1082.0 115.4h1.2M1081.0 116.4h1.2M1079.1 118.5h1.2M1077.3 111.9h1.2M1067.0 113.2h1.2M1062.3 111.5h1.2M1080.1 117.8h1.2M1068.6 116.4h1.2M1077.8 117.5h1.2M1078.2 114.3h1.2M1064.0 117.0h1.2M1068.3 115.1h1.2M1069.4 114.3h1.2M1081.7 110.8h1.2M1072.8 115.3h1.2M1072.9 118.0h1.2M1070.3 117.8h1.2M1076.0 118.3h1.2M1063.7 111.3h1.2M1067.8 117.7h1.2M1062.2 111.8h1.2M1076.6 118.5h1.2M1065.5 113.4h1.2M1076.0 115.7h1.2M1077.2 116.3h1.2M1067.0 111.7h1.2M1062.5 115.7h1.2M1066.2 111.7h1.2M1081.7 115.3h1.2M1074.0 115.4h1.2M1074.2 115.8h1.2M1068.1 109.9h1.2M1063.3 109.5h1.2M1069.3 110.7h1.2M1064.2 113.9h1.2M1081.8 115.7h1.2M1067.5 116.4h1.2M1065.5 110.3h1.2M1068.1 113.1h1.2M1076.0 113.5h1.2M1076.8 110.2h1.2M1081.0 112.5h1.2M1079.0 109.6h1.2M1078.9 111.4h1.2M1079.4 116.7h1.2M1075.6 111.9h1.2M1062.1 111.1h1.2M1080.5 110.8h1.2M1075.4 114.8h1.2M1075.5 111.0h1.2M1064.8 110.3h1.2M1082.0 112.9h1.2M1075.3 114.6h1.2M1066.5 110.0h1.2M1062.2 117.2h1.2M1064.6 118.2h1.2M1069.4 116.0h1.2M1064.7 116.6h1.2M1067.1 112.7h1.2M1072.6 110.4h1.2M1067.0 116.7h1.2M1067.7 112.9h1.2M1077.6 111.4h1.2M1065.9 111.4h1.2M1069.8 112.7h1.2M1075.0 113.7h1.2M1079.7 109.8h1.2M1075.5 117.1h1.2M1066.7 109.6h1.2M1070.9 110.4h1.2M1071.3 115.9h1.2M1063.8 110.4h1.2M1071.7 111.0h1.2M1066.6 113.4h1.2M1064.3 110.0h1.2M1069.3 113.7h1.2M1081.1 114.5h1.2M1063.4 111.4h1.2M1077.2 114.5h1.2M1079.7 118.2h1.2M1079.5 110.4h1.2M1081.2 114.2h1.2M1066.8 110.9h1.2M1079.6 111.3h1.2M1063.6 111.8h1.2M1080.8 113.6h1.2M1076.9 110.0h1.2M1071.2 112.3h1.2M1066.1 115.5h1.2M1069.3 110.5h1.2M1082.1 113.8h1.2M1065.6 109.5h1.2M1075.3 114.1h1.2M1062.4 113.7h1.2M1077.1 114.3h1.2M1066.7 114.0h1.2M1074.3 115.4h1.2M1064.9 116.8h1.2M1081.3 116.2h1.2M1079.5 112.7h1.2M1080.4 111.0h1.2M1066.6 114.9h1.2M1080.4 110.1h1.2M1066.3 109.7h1.2M1070.9 110.7h1.2M1065.8 116.3h1.2M1073.9 118.0h1.2M1070.1 115.6h1.2M1062.2 118.1h1.2M1066.7 113.7h1.2M1072.4 118.1h1.2M1072.0 118.5h1.2M1074.6 111.4h1.2M1079.0 111.2h1.2M1082.4 113.6h1.2M1066.5 118.2h1.2M1068.5 113.1h1.2M1068.9 115.5h1.2M1062.4 112.8h1.2M1065.2 117.0h1.2M1061.9 114.9h1.2M1067.2 113.5h1.2M1073.4 115.9h1.2M1064.7 111.6h1.2M1064.4 118.2h1.2M1065.0 110.6h1.2M1072.6 114.7h1.2M1080.1 109.9h1.2M1066.7 110.9h1.2M1073.9 113.5h1.2M1070.3 117.5h1.2M1075.5 117.3h1.2M1081.5 111.8h1.2M1081.2 113.1h1.2M1063.0 117.8h1.2M1064.0 109.5h1.2M1067.8 112.0h1.2M1081.7 117.4h1.2M1070.5 114.2h1.2M1079.3 116.8h1.2M1075.3 114.1h1.2M1064.3 111.6h1.2M1075.4 114.8h1.2M1078.3 117.6h1.2M1081.6 111.1h1.2M1063.5 117.6h1.2M1073.6 111.0h1.2M1076.1 111.7h1.2M1066.7 112.7h1.2M1072.6 115.6h1.2M1063.4 116.2h1.2M1074.7 113.7h1.2M1075.7 116.7h1.2M1062.1 113.7h1.2M1075.8 115.9h1.2M1075.2 111.0h1.2M1081.5 116.6h1.2M1066.7 113.3h1.2M1081.5 111.3h1.2M1070.3 118.2h1.2M1080.4 111.5h1.2M1077.0 112.7h1.2M1075.5 116.4h1.2M1064.5 111.4h1.2M1066.3 111.8h1.2M1062.6 110.6h1.2M1070.2 113.2h1.2M1063.5 114.7h1.2M1081.2 114.7h1.2M1069.2 115.8h1.2M1070.9 111.0h1.2M1071.8 109.5h1.2M1075.8 110.8h1.2M1069.5 118.2h1.2M1077.6 117.0h1.2M1075.1 115.2h1.2M1076.4 118.3h1.2M1065.9 116.4h1.2M1068.1 111.7h1.2M1078.7 114.9h1.2M1079.3 117.4h1.2M1074.0 111.2h1.2M1082.6 114.2h1.2M1089.7 112.5h1.2M1083.1 110.8h1.2M1084.1 115.2h1.2M1082.4 112.2h1.2M1085.1 115.3h1.2M1092.3 110.9h1.2M1083.5 116.7h1.2M1092.1 111.7h1.2M1085.8 114.1h1.2M1085.6 113.4h1.2M1087.2 112.4h1.2M1082.9 111.3h1.2M1084.0 111.3h1.2M1088.6 115.2h1.2M1085.0 115.8h1.2M1089.7 112.9h1.2M1087.3 112.0h1.2M1091.7 114.3h1.2M1082.9 111.7h1.2M1089.3 113.2h1.2M1089.6 112.2h1.2M1090.4 115.9h1.2M1083.3 114.5h1.2M1084.3 115.3h1.2" stroke="#4815ae" stroke-width="1.25" stroke-opacity=".9" fill="none"/>
<path d="M1089.7 116.7V153.9" stroke="#9078de" stroke-width="1.4" stroke-opacity=".85" fill="none"/>
<path d="M1050.9 137.2h1.2M1020.3 132.7h1.2M1043.4 135.7h1.2M1015.3 133.4h1.2M1039.1 132.8h1.2M1041.8 133.7h1.2M1021.7 134.8h1.2M1036.4 136.8h1.2M1009.6 136.8h1.2M1019.7 134.0h1.2M1042.1 136.5h1.2M1040.8 137.9h1.2M1018.8 134.1h1.2M1043.3 133.8h1.2M1016.3 133.6h1.2M1049.2 137.4h1.2M1046.2 138.3h1.2M1050.4 134.1h1.2M1024.8 136.7h1.2M1010.9 136.0h1.2M1012.7 132.4h1.2M1035.4 133.1h1.2M1057.7 137.7h1.2M1032.6 133.4h1.2M1014.3 135.4h1.2M1035.8 134.4h1.2M1046.2 135.5h1.2M1049.4 132.8h1.2M1011.6 134.6h1.2M1033.8 133.7h1.2M1043.7 133.5h1.2M1024.9 135.2h1.2M1046.0 137.1h1.2M1027.8 135.0h1.2M1057.5 138.1h1.2M1041.0 132.8h1.2M1032.3 136.2h1.2M1022.8 132.4h1.2M1060.4 137.9h1.2M1014.8 135.1h1.2M1041.0 134.0h1.2M1011.6 136.9h1.2M1049.1 134.9h1.2M1012.5 134.6h1.2M1012.9 138.3h1.2M1010.6 134.0h1.2M1049.0 133.0h1.2M1013.6 132.6h1.2M1016.7 135.5h1.2M1052.5 133.2h1.2M1017.2 137.0h1.2M1030.7 134.3h1.2M1014.5 133.7h1.2M1059.9 132.9h1.2M1021.8 136.9h1.2M1055.6 137.9h1.2M1033.2 138.2h1.2M1040.2 134.0h1.2M1032.8 136.7h1.2M1047.2 132.9h1.2M1018.3 138.3h1.2M1013.6 137.3h1.2M1026.0 133.7h1.2M1021.6 135.1h1.2M1060.9 133.1h1.2M1053.6 134.2h1.2M1017.1 136.9h1.2M1026.2 133.3h1.2M1030.3 137.4h1.2M1054.1 135.8h1.2M1008.5 137.0h1.2M1040.3 137.9h1.2M1058.8 134.2h1.2M1053.3 137.4h1.2M1022.1 134.5h1.2M1027.9 134.4h1.2M1028.1 132.8h1.2M1020.1 137.9h1.2M1029.9 136.2h1.2M1055.4 137.0h1.2M1021.0 138.0h1.2M1050.9 138.5h1.2M1046.9 137.0h1.2M1051.4 133.7h1.2M1043.0 134.6h1.2M1052.8 133.0h1.2M1036.7 134.3h1.2M1051.8 134.3h1.2M1053.0 137.5h1.2M1054.9 133.0h1.2M1058.1 136.9h1.2M1044.1 136.3h1.2M1010.5 137.7h1.2M1037.2 135.0h1.2M1026.1 137.1h1.2M1049.7 137.7h1.2M1019.4 134.3h1.2M1021.2 132.8h1.2M1025.4 132.3h1.2M1050.5 133.6h1.2M1011.7 132.6h1.2M1047.5 133.4h1.2M1032.6 134.7h1.2M1050.8 138.2h1.2M1024.5 136.2h1.2M1055.8 135.1h1.2M1056.0 136.8h1.2M1024.6 137.7h1.2M1038.6 132.8h1.2M1039.3 137.4h1.2M1035.6 135.2h1.2M1030.2 137.8h1.2M1043.5 133.5h1.2M1027.3 134.4h1.2M1059.2 136.6h1.2M1014.6 138.0h1.2M1009.8 135.9h1.2M1031.0 136.7h1.2M1030.9 132.7h1.2M1035.9 137.4h1.2M1050.1 134.4h1.2M1019.8 136.9h1.2M1050.8 133.5h1.2M1055.1 138.5h1.2M1031.1 134.6h1.2M1045.9 138.1h1.2M1018.7 134.1h1.2M1025.5 136.8h1.2M1017.9 135.6h1.2M1034.7 136.4h1.2M1015.6 138.2h1.2M1061.4 135.7h1.2M1050.4 133.3h1.2M1056.6 135.6h1.2M1048.5 137.7h1.2M1027.3 138.0h1.2M1019.0 132.3h1.2M1034.8 137.9h1.2M1056.1 138.2h1.2M1035.2 138.1h1.2M1037.9 133.0h1.2M1041.7 137.3h1.2M1030.6 136.0h1.2M1021.8 133.9h1.2M1030.4 135.4h1.2M1033.0 132.7h1.2M1008.2 134.3h1.2M1046.3 136.9h1.2M1020.6 133.8h1.2M1035.5 133.2h1.2M1040.2 137.9h1.2M1018.7 135.9h1.2M1046.5 136.9h1.2M1046.0 136.7h1.2M1022.5 137.5h1.2M1057.4 132.5h1.2M1058.4 135.0h1.2M1012.5 132.6h1.2M1050.5 136.5h1.2M1015.5 135.1h1.2M1042.1 138.5h1.2M1025.9 137.0h1.2M1021.0 133.4h1.2M1016.5 134.7h1.2M1041.0 134.1h1.2M1016.6 133.5h1.2M1012.4 133.4h1.2M1024.8 135.3h1.2M1017.7 135.2h1.2M1031.4 138.3h1.2M1033.9 138.2h1.2M1033.1 133.4h1.2M1039.6 133.0h1.2M1017.0 132.6h1.2M1045.4 138.3h1.2M1029.5 134.4h1.2M1030.6 134.4h1.2M1044.9 134.6h1.2M1016.0 137.7h1.2M1038.5 132.2h1.2M1053.3 136.8h1.2M1026.9 136.2h1.2M1057.1 134.7h1.2M1031.0 134.0h1.2M1037.6 136.4h1.2M1047.2 138.2h1.2M1015.7 134.5h1.2M1053.5 137.2h1.2M1039.5 136.5h1.2M1026.1 138.2h1.2M1037.3 134.7h1.2M1017.7 132.9h1.2M1055.9 137.2h1.2M1009.3 134.2h1.2M1033.6 135.3h1.2M1027.3 137.8h1.2M1026.6 135.5h1.2M1057.6 136.2h1.2M1033.4 134.2h1.2M1028.6 136.0h1.2M1049.9 133.8h1.2M1027.7 134.6h1.2M1027.3 138.0h1.2M1036.7 133.9h1.2M1025.7 137.4h1.2M1016.5 136.5h1.2M1009.1 133.4h1.2M1011.1 137.3h1.2M1015.8 133.6h1.2M1011.0 133.8h1.2M1047.1 136.7h1.2M1056.6 138.2h1.2M1037.4 138.0h1.2M1012.7 138.0h1.2M1031.1 133.4h1.2M1047.9 137.6h1.2M1028.5 132.7h1.2M1054.6 136.9h1.2M1039.8 138.4h1.2M1009.9 132.5h1.2M1014.5 132.3h1.2M1045.8 136.2h1.2M1013.9 133.2h1.2M1017.6 136.0h1.2M1043.9 138.3h1.2M1027.2 138.4h1.2M1031.1 134.6h1.2M1021.5 133.6h1.2M1060.0 138.5h1.2M1045.7 133.2h1.2M1017.5 133.1h1.2M1026.7 136.8h1.2M1011.1 135.5h1.2M1044.3 132.3h1.2M1031.4 137.2h1.2M1038.7 135.0h1.2M1055.1 136.0h1.2M1025.9 134.7h1.2M1058.4 137.6h1.2M1056.8 135.7h1.2M1015.5 133.2h1.2M1028.4 136.5h1.2M1008.1 137.3h1.2M1049.9 135.4h1.2M1008.2 137.2h1.2M1030.1 136.4h1.2M1038.4 136.8h1.2M1029.8 138.3h1.2M1059.0 138.1h1.2M1040.8 134.1h1.2M1028.0 133.8h1.2M1056.3 137.2h1.2M1050.1 137.4h1.2M1060.9 136.5h1.2M1024.9 137.0h1.2M1021.9 136.0h1.2M1016.4 137.6h1.2M1034.0 133.9h1.2M1057.3 132.7h1.2M1057.7 137.0h1.2M1062.7 136.6h1.2M1066.6 137.4h1.2M1066.7 135.0h1.2M1069.8 133.3h1.2M1068.4 133.3h1.2M1063.9 133.4h1.2M1069.2 135.0h1.2M1067.9 134.1h1.2M1068.0 136.1h1.2M1062.3 135.3h1.2M1067.9 133.9h1.2M1067.3 134.2h1.2M1064.7 137.4h1.2M1069.9 137.8h1.2M1079.7 135.7h1.2M1083.5 136.6h1.2M1080.0 137.1h1.2M1079.4 137.6h1.2M1080.1 133.4h1.2M1082.9 133.5h1.2M1082.2 133.1h1.2M1085.3 135.5h1.2M1082.8 133.5h1.2M1081.8 134.7h1.2M1089.1 137.5h1.2M1086.8 135.2h1.2M1087.4 137.7h1.2M1096.2 132.2h1.2M1091.5 135.1h1.2M1094.3 136.9h1.2M1090.2 138.3h1.2M1088.4 132.8h1.2M1095.4 132.7h1.2M1088.4 135.3h1.2M1090.1 133.0h1.2M1096.6 135.1h1.2M1095.0 133.6h1.2M1096.4 133.4h1.2M1096.4 136.1h1.2M1097.1 137.2h1.2M1093.3 135.5h1.2M1095.8 134.9h1.2M1087.5 138.1h1.2M1095.3 136.6h1.2M1094.6 133.5h1.2M1091.5 137.5h1.2M1097.0 138.2h1.2M1088.2 136.6h1.2M1092.5 134.7h1.2M1088.2 132.9h1.2M1091.6 135.3h1.2M1089.3 134.4h1.2M1092.5 137.1h1.2M1092.9 133.0h1.2M1096.1 134.4h1.2M1097.0 138.6h1.2M1087.9 135.9h1.2M1097.0 134.5h1.2M1092.4 134.1h1.2M1086.7 133.3h1.2M1087.8 133.9h1.2M1093.3 135.7h1.2M1096.8 136.6h1.2M1090.4 138.4h1.2M1093.4 135.6h1.2M1095.9 136.5h1.2M1090.4 136.0h1.2M1089.7 138.5h1.2M1089.1 138.5h1.2M1087.1 132.0h1.2M1092.5 133.3h1.2M1092.0 132.7h1.2M1095.6 136.5h1.2M1093.9 138.2h1.2M1097.3 136.5h1.2M1094.2 131.9h1.2M1086.9 134.8h1.2M1097.1 134.0h1.2M1092.7 132.0h1.2M1091.0 138.1h1.2M1092.9 137.5h1.2M1086.5 133.3h1.2M1088.4 137.6h1.2M1087.5 138.3h1.2M1089.3 137.9h1.2M1092.1 134.1h1.2M1097.0 134.7h1.2M1094.1 132.4h1.2M1095.5 138.6h1.2M1087.6 137.0h1.2M1089.4 132.9h1.2M1090.4 136.4h1.2M1096.9 138.7h1.2M1097.3 136.2h1.2M1093.6 133.0h1.2M1094.4 135.7h1.2M1090.3 138.0h1.2M1089.2 132.9h1.2M1088.1 132.9h1.2M1092.9 137.4h1.2M1088.2 135.3h1.2M1092.7 135.7h1.2M1090.9 135.6h1.2M1086.6 132.3h1.2M1091.0 133.5h1.2M1094.7 133.6h1.2M1095.5 133.6h1.2M1087.4 135.2h1.2M1090.7 134.2h1.2M1094.8 133.4h1.2M1093.8 137.6h1.2M1091.4 135.3h1.2M1096.6 136.0h1.2M1088.4 132.4h1.2M1087.3 134.2h1.2M1087.4 136.3h1.2M1091.1 134.0h1.2M1092.0 138.3h1.2M1089.1 133.0h1.2M1089.8 134.1h1.2M1096.4 136.7h1.2M1091.1 133.0h1.2M1086.9 132.8h1.2M1095.7 136.3h1.2M1088.1 136.2h1.2M1087.0 135.4h1.2M1090.1 132.6h1.2M1094.6 136.8h1.2M1092.0 133.1h1.2M1093.8 134.9h1.2M1093.7 132.5h1.2M1096.3 131.9h1.2M1088.8 134.6h1.2M1088.6 132.5h1.2M1094.0 138.7h1.2M1090.1 133.7h1.2M1093.8 133.4h1.2M1090.8 136.6h1.2M1091.1 133.0h1.2M1087.2 135.6h1.2M1097.3 138.2h1.2M1087.5 135.3h1.2M1091.8 133.2h1.2M1093.8 135.3h1.2M1095.3 133.9h1.2M1096.7 137.5h1.2M1091.6 132.9h1.2M1091.7 132.8h1.2M1093.9 136.7h1.2M1092.8 138.6h1.2M1086.9 136.8h1.2M1095.2 132.7h1.2M1089.9 132.3h1.2M1092.8 136.8h1.2M1090.2 136.6h1.2M1090.4 136.8h1.2M1089.4 138.6h1.2M1091.2 131.9h1.2M1087.4 136.9h1.2M1095.9 136.2h1.2M1088.1 137.8h1.2M1094.3 132.7h1.2M1090.6 136.5h1.2M1086.4 132.2h1.2M1090.3 137.9h1.2M1097.4 134.1h1.2M1096.4 137.3h1.2M1095.9 135.9h1.2M1097.1 136.3h1.2M1096.8 135.8h1.2M1088.6 135.4h1.2M1091.7 134.2h1.2M1090.5 135.4h1.2M1092.9 133.4h1.2M1089.5 135.3h1.2M1091.9 134.8h1.2M1093.7 133.2h1.2M1092.3 133.8h1.2M1094.9 136.7h1.2M1095.0 135.4h1.2M1089.1 138.2h1.2M1092.0 134.5h1.2M1089.6 134.7h1.2M1094.2 137.5h1.2M1091.7 136.9h1.2M1088.7 135.0h1.2M1090.3 134.0h1.2M1090.4 137.1h1.2M1094.5 133.3h1.2M1089.0 137.3h1.2M1093.6 136.5h1.2M1093.4 136.6h1.2M1089.4 132.3h1.2M1090.4 132.1h1.2M1097.0 135.5h1.2M1093.8 138.5h1.2M1095.2 133.5h1.2M1090.1 132.7h1.2M1095.2 136.9h1.2M1091.8 134.4h1.2M1089.4 135.2h1.2M1094.2 138.0h1.2M1095.7 137.8h1.2M1091.2 134.8h1.2M1089.9 138.5h1.2M1088.4 133.0h1.2M1089.5 138.2h1.2M1095.8 134.2h1.2M1095.8 138.0h1.2M1091.1 133.2h1.2M1094.9 134.5h1.2M1087.7 138.1h1.2M1091.2 134.6h1.2M1092.9 133.7h1.2M1086.6 134.6h1.2M1090.6 132.0h1.2M1090.5 137.1h1.2M1090.1 136.5h1.2M1093.3 133.2h1.2M1086.6 136.5h1.2M1093.1 133.9h1.2M1088.6 137.7h1.2M1096.4 133.5h1.2M1092.8 135.8h1.2M1089.9 132.2h1.2M1090.0 136.3h1.2M1093.0 135.4h1.2M1087.7 133.4h1.2M1089.8 134.8h1.2M1090.4 138.1h1.2M1087.7 138.6h1.2M1089.0 137.7h1.2M1089.1 135.9h1.2M1090.5 132.2h1.2M1095.2 137.4h1.2M1089.4 137.2h1.2M1091.7 138.6h1.2M1087.0 134.5h1.2M1088.9 136.2h1.2M1095.0 137.6h1.2M1092.4 134.6h1.2M1095.2 132.6h1.2M1089.3 137.0h1.2M1091.2 138.7h1.2M1087.4 135.1h1.2M1088.7 131.9h1.2M1087.4 132.5h1.2M1090.5 134.9h1.2M1092.0 133.9h1.2M1094.1 135.4h1.2M1097.2 133.1h1.2M1092.0 135.3h1.2M1090.5 137.8h1.2M1088.7 137.9h1.2M1103.5 134.3h1.2M1107.9 135.7h1.2M1102.2 132.8h1.2M1113.6 134.5h1.2M1099.3 136.3h1.2M1106.4 134.3h1.2M1103.0 137.4h1.2M1103.2 134.8h1.2M1113.7 134.5h1.2M1104.2 133.3h1.2M1108.7 136.3h1.2M1105.0 134.8h1.2M1101.4 137.1h1.2M1105.2 137.3h1.2M1103.8 136.7h1.2M1097.9 133.6h1.2M1113.7 136.4h1.2M1108.9 135.3h1.2M1105.4 133.5h1.2M1100.3 136.2h1.2M1109.2 133.9h1.2M1108.4 133.1h1.2M1107.8 133.3h1.2M1106.1 134.2h1.2M1106.8 133.1h1.2M1105.6 136.0h1.2M1099.7 134.2h1.2M1108.9 135.6h1.2M1107.9 137.0h1.2M1107.1 133.7h1.2M1117.5 136.6h1.2M1118.4 136.3h1.2M1116.9 135.1h1.2M1121.2 136.6h1.2M1119.0 133.7h1.2" stroke="#4414b4" stroke-width="1.25" stroke-opacity=".9" fill="none"/>
<path d="M1014.3 138.1V175.3" stroke="#8e78e1" stroke-width="1.4" stroke-opacity=".85" fill="none"/>
<path d="M1013.4 153.5h1.2M1019.2 159.9h1.2M1015.5 155.1h1.2M1017.6 154.5h1.2M1017.3 156.8h1.2M1002.7 159.3h1.2M1010.3 158.9h1.2M1014.8 156.9h1.2M1017.9 154.7h1.2M1018.6 155.6h1.2M1002.9 155.6h1.2M1003.6 153.8h1.2M1013.6 154.1h1.2M1005.3 155.3h1.2M1007.4 159.5h1.2M1018.7 159.2h1.2M1020.2 156.3h1.2M1016.7 155.2h1.2M1019.1 158.8h1.2M1015.6 154.8h1.2M1004.0 159.6h1.2M1012.3 157.4h1.2M1017.9 154.3h1.2M1015.0 156.4h1.2M1016.5 156.4h1.2M1005.9 159.8h1.2M1007.5 158.3h1.2M1017.4 155.0h1.2M1014.9 156.0h1.2M1006.4 154.8h1.2M1019.6 155.8h1.2M1011.6 156.7h1.2M1002.9 158.4h1.2M1015.8 159.2h1.2M1008.8 154.7h1.2M1008.7 158.3h1.2M1014.2 156.0h1.2M1011.8 154.3h1.2M1018.9 156.5h1.2M1011.5 158.6h1.2M1006.0 158.2h1.2M1008.8 158.8h1.2M1004.1 155.2h1.2M1013.8 156.6h1.2M1009.2 157.2h1.2M1006.3 156.3h1.2M1002.4 158.7h1.2M1007.0 158.9h1.2M1012.3 157.4h1.2M1013.7 154.1h1.2M1016.4 155.3h1.2M1017.9 158.6h1.2M1014.6 158.8h1.2M1010.3 157.9h1.2M1019.6 154.6h1.2M1004.2 156.1h1.2M1011.6 154.3h1.2M1006.4 159.2h1.2M1009.4 154.3h1.2M1005.7 157.2h1.2M1005.8 156.5h1.2M1012.1 156.3h1.2M1011.5 159.0h1.2M1002.7 159.6h1.2M1006.0 153.5h1.2M1016.2 157.2h1.2M1012.1 154.8h1.2M1016.5 155.4h1.2M1015.5 154.8h1.2M1012.7 157.7h1.2M1009.1 156.5h1.2M1003.6 157.7h1.2M1014.8 154.3h1.2M1012.3 158.3h1.2M1004.2 159.0h1.2M1018.1 153.6h1.2M1006.9 153.9h1.2M1006.9 153.9h1.2M1011.2 155.0h1.2M1007.8 156.4h1.2M1009.1 158.6h1.2M1015.4 154.1h1.2M1006.4 153.3h1.2M1008.3 154.0h1.2M1014.9 158.6h1.2M1020.3 154.7h1.2M1003.1 158.4h1.2M1009.8 159.6h1.2M1009.5 155.4h1.2M1003.7 159.7h1.2M1011.6 156.3h1.2M1010.3 158.5h1.2M1017.4 156.5h1.2M1005.6 156.0h1.2M1018.4 156.1h1.2M1014.3 157.1h1.2M1010.7 157.2h1.2M1006.8 157.1h1.2M1018.0 153.8h1.2M1009.0 159.3h1.2M1020.0 153.4h1.2M1013.7 157.6h1.2M1017.6 156.5h1.2M1004.8 155.3h1.2M1015.2 158.2h1.2M1006.1 157.6h1.2M1014.2 157.8h1.2M1002.8 156.3h1.2M1008.2 157.3h1.2M1008.5 154.2h1.2M1014.5 155.2h1.2M1016.6 155.4h1.2M1012.2 158.8h1.2M1004.5 158.3h1.2M1003.6 159.6h1.2M1002.9 158.2h1.2M1009.0 154.5h1.2M1009.5 156.7h1.2M1009.9 154.1h1.2M1011.8 155.3h1.2M1019.8 155.9h1.2M1010.2 154.8h1.2M1019.8 155.5h1.2M1014.0 158.9h1.2M1009.5 158.4h1.2M1007.4 154.0h1.2M1003.2 156.3h1.2M1018.1 154.7h1.2M1010.3 158.5h1.2M1007.4 154.3h1.2M1011.7 156.2h1.2M1019.3 159.4h1.2M1006.7 157.1h1.2M1009.9 153.5h1.2M1010.4 159.5h1.2M1007.9 157.3h1.2M1015.2 153.7h1.2M1019.0 154.0h1.2M1007.8 158.1h1.2M1002.7 155.8h1.2M1004.7 156.5h1.2M1002.7 154.3h1.2M1006.4 153.8h1.2M1004.0 154.6h1.2M1011.7 154.2h1.2M1017.2 156.1h1.2M1006.9 154.9h1.2M1017.5 153.6h1.2M1015.8 153.9h1.2M1019.4 156.1h1.2M1013.2 159.2h1.2M1004.2 153.7h1.2M1014.9 157.3h1.2M1015.4 155.2h1.2M1011.3 154.5h1.2M1010.3 155.2h1.2M1012.9 155.3h1.2M1007.3 157.6h1.2M1003.9 158.7h1.2M1011.3 154.8h1.2M1004.5 156.7h1.2M1011.5 158.2h1.2M1009.1 156.1h1.2M1018.5 155.1h1.2M1020.1 159.3h1.2M1020.2 159.7h1.2M1007.0 158.8h1.2M1013.4 154.7h1.2M1020.4 157.7h1.2M1017.0 157.1h1.2M1003.8 159.2h1.2M1005.6 155.0h1.2M1013.5 154.6h1.2M1010.7 158.1h1.2M1004.1 157.8h1.2M1004.3 156.5h1.2M1014.1 158.0h1.2M1003.2 154.6h1.2M1019.7 155.9h1.2M1010.0 155.8h1.2M1014.9 158.3h1.2M1014.1 156.0h1.2M1012.7 156.8h1.2M1005.8 159.7h1.2M1019.8 158.6h1.2M1020.3 156.4h1.2M1017.5 154.9h1.2M1015.8 158.1h1.2M1019.3 158.9h1.2M1018.2 155.1h1.2M1016.6 156.5h1.2M1008.0 155.8h1.2M1016.8 159.0h1.2M1017.6 157.8h1.2M1005.5 154.3h1.2M1012.6 154.7h1.2M1008.5 154.0h1.2M1005.2 158.2h1.2M1006.4 159.0h1.2M1008.3 159.1h1.2M1007.8 155.1h1.2M1009.5 153.4h1.2M1010.2 155.9h1.2M1002.6 159.1h1.2M1009.2 153.3h1.2M1019.7 154.8h1.2M1007.0 153.4h1.2M1004.2 158.1h1.2M1012.9 156.7h1.2M1006.8 155.2h1.2M1019.9 155.8h1.2M1020.2 159.3h1.2M1004.6 159.0h1.2M1002.8 158.1h1.2M1017.0 158.0h1.2M1012.3 158.8h1.2M1005.2 157.0h1.2M1007.2 156.0h1.2M1005.8 158.1h1.2M1012.7 158.6h1.2M1013.7 157.4h1.2M1019.0 158.8h1.2M1012.6 155.5h1.2M1019.1 155.8h1.2M1004.2 155.5h1.2M1015.1 159.6h1.2M1014.0 157.8h1.2M1019.3 158.6h1.2M1010.4 156.4h1.2M1016.1 155.4h1.2M1004.4 157.5h1.2M1017.0 155.0h1.2M1014.7 159.3h1.2M1004.7 154.2h1.2M1011.3 155.6h1.2M1019.5 160.1h1.2M1010.4 158.7h1.2M1013.8 154.5h1.2M1019.9 154.5h1.2M1003.8 156.4h1.2M1002.7 156.5h1.2M1009.8 159.8h1.2M1009.8 159.1h1.2M1016.4 157.3h1.2M1006.7 155.4h1.2M1011.2 156.0h1.2M1014.0 156.7h1.2M1008.2 157.4h1.2M1020.3 154.7h1.2M1008.4 153.4h1.2M1004.1 153.7h1.2M1010.0 159.0h1.2M1015.0 159.8h1.2M1017.5 157.3h1.2M1012.8 153.4h1.2M1009.3 155.1h1.2M1013.6 153.7h1.2M1012.2 155.8h1.2M1011.3 156.0h1.2M1004.2 158.3h1.2M1016.8 157.3h1.2M1004.5 157.4h1.2M1018.1 160.0h1.2M1016.1 153.6h1.2M1018.2 157.8h1.2M1007.4 159.5h1.2M1017.3 159.4h1.2M1006.9 157.2h1.2M1009.2 155.3h1.2M1016.1 157.5h1.2M1008.4 157.0h1.2M1019.1 157.1h1.2M1018.8 157.1h1.2M1020.3 153.5h1.2M1010.7 157.0h1.2M1015.5 159.9h1.2M1013.6 156.5h1.2M1013.8 156.9h1.2M1015.1 159.7h1.2M1002.7 155.5h1.2M1018.2 153.7h1.2M1016.6 153.5h1.2M1014.1 158.7h1.2M1006.7 155.9h1.2M1006.5 158.1h1.2M1011.9 157.4h1.2M1008.3 157.3h1.2M1019.6 158.6h1.2M1019.5 155.0h1.2M1011.7 155.9h1.2M1008.6 158.7h1.2M1005.5 157.1h1.2M1016.3 159.6h1.2M1002.7 155.1h1.2M1011.3 159.6h1.2M1005.3 159.0h1.2M1009.5 157.0h1.2M1019.1 153.7h1.2M1008.3 154.3h1.2M1004.8 155.3h1.2M1015.0 157.2h1.2M1004.6 158.7h1.2M1011.5 154.3h1.2M1017.2 158.9h1.2M1006.3 159.7h1.2M1017.0 154.8h1.2M1002.4 159.2h1.2M1017.3 153.9h1.2M1016.2 158.5h1.2M1013.8 158.9h1.2M1020.1 155.5h1.2M1017.4 159.5h1.2M1008.0 157.9h1.2M1014.7 159.1h1.2M1012.6 155.2h1.2M1006.9 157.0h1.2M1004.8 159.1h1.2M1018.4 154.9h1.2M1015.0 157.9h1.2M1004.6 158.6h1.2M1016.2 155.4h1.2M1004.2 155.2h1.2M1016.3 156.5h1.2M1017.1 154.4h1.2M1004.3 155.7h1.2M1018.2 154.4h1.2M1003.7 158.4h1.2M1004.0 157.8h1.2M1003.9 155.0h1.2M1014.3 159.2h1.2M1030.2 156.4h1.2M1021.1 155.7h1.2M1026.2 158.4h1.2M1037.5 158.4h1.2M1033.2 157.9h1.2M1023.5 156.0h1.2M1027.4 155.4h1.2M1038.1 155.0h1.2M1028.2 155.4h1.2M1041.1 157.5h1.2M1031.9 156.0h1.2M1042.5 159.3h1.2M1031.2 157.1h1.2M1041.1 155.2h1.2M1026.6 154.3h1.2M1032.4 158.3h1.2M1024.2 156.3h1.2M1044.2 156.6h1.2M1029.6 158.7h1.2M1041.8 155.9h1.2M1023.4 157.5h1.2M1038.2 159.2h1.2M1036.2 155.5h1.2M1032.8 155.4h1.2M1031.1 156.5h1.2M1042.3 159.1h1.2M1042.6 156.5h1.2M1043.5 154.5h1.2M1042.5 157.5h1.2M1041.3 156.2h1.2M1044.2 153.8h1.2M1040.7 158.6h1.2M1029.4 158.7h1.2M1025.5 158.2h1.2M1031.6 156.1h1.2M1025.1 158.5h1.2M1037.9 154.2h1.2M1043.9 155.0h1.2M1029.4 156.2h1.2M1034.2 159.0h1.2M1043.1 157.5h1.2M1029.2 154.3h1.2M1022.1 156.8h1.2M1034.4 156.4h1.2M1044.0 156.2h1.2M1028.8 156.2h1.2M1024.5 159.3h1.2M1034.6 156.9h1.2M1030.6 155.2h1.2M1028.0 156.6h1.2M1031.1 159.6h1.2M1033.9 154.9h1.2M1021.7 154.6h1.2M1028.7 158.4h1.2M1041.7 155.1h1.2M1039.1 156.3h1.2M1033.3 156.9h1.2M1021.4 154.1h1.2M1036.4 157.8h1.2M1029.5 159.2h1.2M1040.1 155.5h1.2M1022.0 157.0h1.2M1036.1 155.0h1.2M1021.5 156.6h1.2M1021.2 158.1h1.2M1035.4 155.4h1.2M1031.1 155.1h1.2M1024.9 154.8h1.2M1040.0 156.4h1.2M1037.6 155.8h1.2M1039.8 157.3h1.2M1036.1 156.0h1.2M1033.9 154.8h1.2M1043.8 157.7h1.2M1033.2 157.5h1.2M1022.8 155.7h1.2M1025.9 158.7h1.2M1020.7 156.3h1.2M1041.2 158.4h1.2M1037.7 155.5h1.2M1026.0 157.9h1.2M1027.6 158.0h1.2M1028.8 158.2h1.2M1034.2 158.6h1.2M1044.1 156.0h1.2M1044.1 153.7h1.2M1041.5 153.9h1.2M1033.5 156.0h1.2M1038.9 155.6h1.2M1025.4 158.4h1.2M1070.3 157.8h1.2M1067.4 154.6h1.2M1080.6 155.4h1.2M1066.6 154.5h1.2M1056.6 157.4h1.2M1080.3 157.3h1.2M1065.2 157.7h1.2M1075.8 155.4h1.2M1069.6 157.1h1.2M1078.7 155.4h1.2M1059.0 156.0h1.2M1048.9 156.0h1.2M1078.7 157.0h1.2M1052.5 157.7h1.2M1049.9 157.8h1.2M1051.3 154.9h1.2M1056.2 156.7h1.2M1057.1 158.4h1.2M1088.5 155.7h1.2M1079.6 157.5h1.2M1070.8 155.6h1.2M1089.0 158.7h1.2M1045.0 155.9h1.2M1059.5 155.4h1.2M1064.6 158.4h1.2M1045.5 158.2h1.2M1058.9 154.5h1.2M1086.7 155.7h1.2M1054.4 155.0h1.2M1061.7 155.0h1.2M1052.8 155.6h1.2M1071.6 156.4h1.2M1058.7 156.8h1.2M1080.8 157.7h1.2M1060.5 158.5h1.2M1081.6 157.0h1.2M1066.8 155.9h1.2M1050.7 158.4h1.2M1073.0 154.9h1.2M1087.9 158.4h1.2M1046.0 157.6h1.2M1055.6 156.8h1.2M1083.6 156.0h1.2M1067.8 157.4h1.2M1053.4 157.2h1.2M1064.4 158.8h1.2M1053.2 157.6h1.2M1046.3 155.7h1.2M1049.9 155.1h1.2M1069.2 155.2h1.2M1081.8 154.9h1.2M1073.7 158.3h1.2M1050.3 155.4h1.2M1080.4 156.5h1.2M1088.2 156.0h1.2M1063.1 158.7h1.2M1060.6 158.7h1.2M1086.3 155.4h1.2M1070.1 158.6h1.2M1049.9 158.2h1.2M1080.8 157.8h1.2M1072.6 154.9h1.2M1089.4 154.9h1.2M1081.2 157.7h1.2M1059.3 157.5h1.2M1063.7 157.8h1.2M1046.4 158.6h1.2M1062.5 158.0h1.2M1066.6 158.1h1.2M1058.6 156.9h1.2M1045.6 156.6h1.2M1048.1 158.3h1.2M1076.2 156.4h1.2M1090.2 158.6h1.2M1089.4 154.8h1.2M1099.1 157.6h1.2M1098.1 154.7h1.2M1101.6 156.4h1.2M1097.9 157.9h1.2M1094.4 154.8h1.2M1101.6 155.8h1.2" stroke="#3f13ba" stroke-width="1.25" stroke-opacity=".9" fill="none"/>
<path d="M1076.5 159.4V196.6" stroke="#8b78e4" stroke-width="1.4" stroke-opacity=".85" fill="none"/>
<path d="M1062.6 176.6h1.2M1068.4 179.0h1.2M1063.7 176.6h1.2M1067.8 178.7h1.2M1065.9 176.6h1.2M1064.9 179.8h1.2M1062.4 177.7h1.2M1062.7 180.0h1.2M1069.3 181.1h1.2M1083.0 179.6h1.2M1068.2 179.4h1.2M1076.5 178.0h1.2M1070.1 178.1h1.2M1082.2 175.5h1.2M1083.6 177.5h1.2M1072.3 176.3h1.2M1075.9 179.0h1.2M1077.9 180.7h1.2M1076.9 178.1h1.2M1085.7 176.1h1.2M1067.7 176.9h1.2M1073.2 175.5h1.2M1075.1 174.9h1.2M1084.4 177.9h1.2M1083.7 179.4h1.2M1080.9 179.8h1.2M1073.0 179.6h1.2M1071.2 178.4h1.2M1078.4 179.9h1.2M1070.5 177.0h1.2M1082.6 180.1h1.2M1085.5 175.4h1.2M1071.3 175.4h1.2M1080.8 179.7h1.2M1079.4 179.9h1.2M1076.9 178.5h1.2M1084.4 179.0h1.2M1079.5 178.6h1.2M1076.5 179.8h1.2M1078.0 175.5h1.2M1075.3 177.5h1.2M1075.4 178.5h1.2M1074.1 177.3h1.2M1075.3 177.2h1.2M1085.4 175.3h1.2M1067.7 179.5h1.2M1074.7 177.7h1.2M1078.3 177.1h1.2M1071.8 174.7h1.2M1083.6 181.0h1.2M1072.7 177.8h1.2M1073.4 175.0h1.2M1083.9 180.3h1.2M1071.9 176.4h1.2M1080.3 180.1h1.2M1076.1 177.3h1.2M1071.7 180.1h1.2M1083.4 180.5h1.2M1069.5 178.7h1.2M1085.6 179.5h1.2M1075.9 175.6h1.2M1068.5 179.6h1.2M1068.7 180.1h1.2M1079.7 177.9h1.2M1083.9 181.0h1.2M1078.8 175.3h1.2M1078.3 177.5h1.2M1072.0 181.0h1.2M1080.9 175.5h1.2M1071.6 177.0h1.2M1078.0 176.8h1.2M1075.5 180.2h1.2M1070.8 179.5h1.2M1073.5 181.1h1.2M1085.0 176.9h1.2M1078.6 175.4h1.2M1075.0 178.9h1.2M1079.2 177.0h1.2M1068.0 175.5h1.2M1077.8 175.8h1.2M1073.1 178.8h1.2M1084.1 178.1h1.2M1072.1 178.6h1.2M1072.5 180.0h1.2M1070.3 176.4h1.2M1075.5 180.8h1.2M1070.5 175.9h1.2M1069.8 176.1h1.2M1073.5 177.3h1.2M1081.5 177.4h1.2M1076.2 177.3h1.2M1081.7 180.8h1.2M1075.3 180.9h1.2M1072.0 181.3h1.2M1077.1 179.3h1.2M1074.5 176.5h1.2M1069.9 180.7h1.2M1074.1 179.4h1.2M1075.9 178.2h1.2M1071.2 175.8h1.2M1073.6 179.3h1.2M1077.5 174.7h1.2M1080.5 177.6h1.2M1068.7 176.4h1.2M1071.3 180.2h1.2M1077.6 176.9h1.2M1072.0 176.6h1.2M1072.6 177.0h1.2M1082.0 180.0h1.2M1080.3 180.7h1.2M1079.5 175.4h1.2M1068.2 175.8h1.2M1072.2 178.2h1.2M1082.6 178.6h1.2M1075.3 176.3h1.2M1085.6 179.8h1.2M1073.7 175.0h1.2M1085.6 176.4h1.2M1083.1 175.4h1.2M1079.5 177.1h1.2M1083.8 176.7h1.2M1069.3 176.0h1.2M1082.3 181.3h1.2M1079.3 179.3h1.2M1072.6 176.5h1.2M1069.0 181.3h1.2M1068.2 178.8h1.2M1073.9 175.9h1.2M1075.5 181.0h1.2M1072.0 175.8h1.2M1079.0 179.1h1.2M1076.8 175.9h1.2M1083.6 175.4h1.2M1070.6 176.3h1.2M1076.9 177.9h1.2M1077.6 179.6h1.2M1083.9 177.8h1.2M1068.2 180.3h1.2M1067.7 176.8h1.2M1070.0 178.7h1.2M1081.9 175.5h1.2M1072.8 180.4h1.2M1080.1 175.4h1.2M1080.1 180.0h1.2M1075.0 175.7h1.2M1079.6 176.8h1.2M1069.9 175.8h1.2M1074.8 175.5h1.2M1074.5 178.4h1.2M1077.6 177.4h1.2M1082.2 175.2h1.2M1073.5 181.0h1.2M1083.4 180.9h1.2M1081.6 178.3h1.2M1082.0 178.5h1.2M1069.6 176.4h1.2M1069.2 180.6h1.2M1073.4 177.4h1.2M1077.4 175.3h1.2M1080.5 180.0h1.2M1082.1 180.6h1.2M1073.3 175.6h1.2M1081.5 179.4h1.2M1074.3 177.0h1.2M1070.2 180.3h1.2M1075.9 180.2h1.2M1073.7 176.8h1.2M1076.9 179.7h1.2M1083.7 177.0h1.2M1080.2 177.4h1.2M1083.3 179.8h1.2M1077.7 177.1h1.2M1072.5 180.7h1.2M1082.2 176.7h1.2M1069.0 176.0h1.2M1085.2 174.9h1.2M1082.4 178.2h1.2M1077.6 178.3h1.2M1075.0 178.4h1.2M1069.1 180.9h1.2M1069.3 175.6h1.2M1079.8 179.0h1.2M1082.3 179.3h1.2M1084.6 175.0h1.2M1067.6 176.3h1.2M1081.8 175.7h1.2M1077.2 179.9h1.2M1070.3 178.2h1.2M1084.1 179.7h1.2M1074.8 177.9h1.2M1072.5 181.2h1.2M1081.9 179.3h1.2M1073.0 179.6h1.2M1076.4 180.1h1.2M1074.1 180.6h1.2M1080.1 177.7h1.2M1077.8 180.1h1.2M1077.2 181.2h1.2M1067.5 180.7h1.2M1080.6 178.0h1.2M1083.1 175.7h1.2M1073.6 179.5h1.2M1082.6 177.2h1.2M1085.8 179.1h1.2M1068.2 175.5h1.2M1068.8 178.5h1.2M1073.4 176.4h1.2M1075.7 175.2h1.2M1084.2 180.3h1.2M1077.7 177.7h1.2M1073.1 178.7h1.2M1073.8 181.3h1.2M1085.1 179.6h1.2M1082.7 175.2h1.2M1069.7 177.0h1.2M1069.7 177.5h1.2M1085.6 180.3h1.2M1085.1 176.1h1.2M1071.5 174.8h1.2M1072.5 175.0h1.2M1077.2 176.7h1.2M1079.9 178.5h1.2M1078.5 176.7h1.2M1081.0 179.3h1.2M1080.6 177.8h1.2M1076.0 176.6h1.2M1068.1 177.8h1.2M1078.8 175.9h1.2M1083.3 180.6h1.2M1083.2 180.2h1.2M1076.4 175.8h1.2M1072.4 179.7h1.2M1085.6 175.4h1.2M1067.5 177.0h1.2M1073.9 178.7h1.2M1069.5 180.4h1.2M1073.7 180.8h1.2M1073.5 176.7h1.2M1070.7 181.2h1.2M1078.3 180.3h1.2M1068.6 178.3h1.2M1081.0 181.3h1.2M1084.7 175.3h1.2M1074.3 181.4h1.2M1077.3 181.1h1.2M1072.1 174.8h1.2M1084.9 176.4h1.2M1077.8 177.1h1.2M1078.1 181.0h1.2M1084.9 180.6h1.2M1072.1 180.2h1.2M1067.7 177.5h1.2M1084.9 176.4h1.2M1074.2 178.6h1.2M1071.8 179.5h1.2M1079.5 175.3h1.2M1084.4 175.1h1.2M1080.3 177.0h1.2M1070.1 175.2h1.2M1085.9 180.1h1.2M1075.9 180.0h1.2M1085.3 180.9h1.2M1077.3 176.5h1.2M1077.0 181.3h1.2M1080.9 179.2h1.2M1083.0 177.4h1.2M1077.7 180.4h1.2M1071.1 180.5h1.2M1067.9 178.3h1.2M1078.0 175.6h1.2M1084.5 177.6h1.2M1070.8 177.4h1.2M1078.3 177.6h1.2M1067.5 175.3h1.2M1080.6 175.5h1.2M1072.1 180.1h1.2M1083.3 180.6h1.2M1070.6 174.7h1.2M1081.4 178.7h1.2M1074.1 174.8h1.2M1075.4 176.3h1.2M1078.3 181.3h1.2M1071.3 175.2h1.2M1080.2 175.4h1.2M1071.5 177.6h1.2M1085.6 176.8h1.2M1073.2 177.9h1.2M1070.4 177.4h1.2M1080.4 176.8h1.2M1082.1 175.9h1.2M1069.3 178.9h1.2M1075.8 180.9h1.2M1069.3 179.7h1.2M1079.8 177.2h1.2M1069.8 178.8h1.2M1081.4 177.9h1.2M1076.1 179.3h1.2M1078.7 177.5h1.2M1070.8 177.8h1.2M1077.6 180.7h1.2M1085.8 178.4h1.2M1073.5 176.2h1.2M1079.1 179.7h1.2M1072.0 179.3h1.2M1085.9 177.3h1.2M1084.8 177.6h1.2M1079.5 180.5h1.2M1071.2 177.0h1.2M1099.2 175.4h1.2M1090.4 177.9h1.2M1096.1 178.8h1.2M1098.5 179.1h1.2M1086.4 175.5h1.2M1086.9 177.6h1.2M1086.8 178.2h1.2M1094.6 176.3h1.2M1097.5 177.5h1.2M1098.9 177.2h1.2M1094.5 178.3h1.2M1089.8 179.7h1.2M1086.5 176.5h1.2M1090.6 180.3h1.2M1092.9 175.3h1.2M1090.3 178.7h1.2M1110.1 175.7h1.2M1109.9 177.4h1.2M1108.1 177.6h1.2M1107.5 181.0h1.2M1167.0 180.2h1.2M1165.1 179.1h1.2M1158.9 175.6h1.2M1166.1 178.9h1.2M1164.0 177.1h1.2M1160.2 180.2h1.2M1163.0 175.5h1.2M1161.0 177.3h1.2M1158.1 180.5h1.2M1166.9 179.7h1.2M1157.4 177.6h1.2M1158.6 179.2h1.2M1165.9 179.5h1.2M1165.7 176.1h1.2M1157.5 175.9h1.2M1166.2 179.8h1.2M1162.8 176.7h1.2M1166.4 176.1h1.2M1160.8 175.4h1.2M1167.7 177.6h1.2M1165.5 179.6h1.2M1163.5 180.6h1.2" stroke="#3b12c0" stroke-width="1.25" stroke-opacity=".9" fill="none"/>
<path d="M1085.3 180.8V218.0" stroke="#8878e8" stroke-width="1.4" stroke-opacity=".85" fill="none"/>
<path d="M1089.6 202.3h1.2M1092.8 196.6h1.2M1089.2 197.5h1.2M1081.9 198.3h1.2M1093.2 196.4h1.2M1083.8 196.9h1.2M1093.4 199.4h1.2M1088.3 199.5h1.2M1089.4 198.3h1.2M1083.4 201.1h1.2M1088.3 202.0h1.2M1081.7 201.8h1.2M1088.9 199.9h1.2M1083.3 199.9h1.2M1077.7 196.7h1.2M1081.7 196.8h1.2M1077.2 200.9h1.2M1088.8 200.2h1.2M1079.9 200.9h1.2M1090.4 200.2h1.2M1080.3 199.8h1.2M1083.1 197.8h1.2M1078.9 201.9h1.2M1087.1 202.3h1.2M1079.3 197.8h1.2M1085.1 196.4h1.2M1081.5 199.7h1.2M1084.6 202.2h1.2M1086.2 200.3h1.2M1086.3 201.3h1.2M1082.6 196.0h1.2M1093.1 201.4h1.2M1078.6 196.8h1.2M1080.2 200.5h1.2M1078.6 196.1h1.2M1084.8 196.0h1.2M1080.8 198.6h1.2M1079.9 196.0h1.2M1080.8 197.7h1.2M1081.9 198.8h1.2M1082.5 198.2h1.2M1076.7 201.7h1.2M1089.0 199.4h1.2M1076.4 197.6h1.2M1091.7 199.1h1.2M1079.9 201.6h1.2M1091.6 196.8h1.2M1084.9 199.8h1.2M1078.4 198.2h1.2M1086.9 200.6h1.2M1087.1 200.2h1.2M1082.8 196.5h1.2M1076.7 201.7h1.2M1091.1 202.2h1.2M1077.7 201.2h1.2M1079.3 198.4h1.2M1079.8 201.8h1.2M1090.3 201.7h1.2M1082.9 202.4h1.2M1080.8 199.9h1.2M1087.8 197.6h1.2M1082.9 196.7h1.2M1089.9 197.3h1.2M1078.7 197.9h1.2M1087.3 200.3h1.2M1085.3 201.8h1.2M1089.2 197.4h1.2M1085.5 197.2h1.2M1080.5 197.0h1.2M1077.7 198.4h1.2M1091.5 200.5h1.2M1077.9 197.5h1.2M1086.5 199.6h1.2M1076.9 196.6h1.2M1086.0 200.1h1.2M1077.8 201.3h1.2M1080.5 200.0h1.2M1085.4 198.3h1.2M1092.5 198.7h1.2M1083.6 199.7h1.2M1090.7 202.7h1.2M1089.5 199.7h1.2M1088.6 200.3h1.2M1092.7 202.6h1.2M1089.3 197.5h1.2M1086.1 199.0h1.2M1080.3 201.3h1.2M1080.2 200.8h1.2M1084.7 198.9h1.2M1088.4 200.9h1.2M1093.2 202.8h1.2M1090.0 197.8h1.2M1087.8 199.4h1.2M1092.4 199.0h1.2M1082.5 196.2h1.2M1084.4 199.6h1.2M1081.6 196.7h1.2M1084.6 196.5h1.2M1079.3 199.0h1.2M1082.3 199.4h1.2M1085.4 198.6h1.2M1078.7 196.1h1.2M1085.9 202.6h1.2M1081.2 198.4h1.2M1081.8 201.0h1.2M1084.8 201.4h1.2M1076.5 196.9h1.2M1079.9 198.5h1.2M1083.2 198.6h1.2M1092.8 199.0h1.2M1086.2 202.6h1.2M1087.3 200.0h1.2M1090.5 198.3h1.2M1077.0 202.5h1.2M1085.5 200.0h1.2M1077.5 201.1h1.2M1082.8 200.4h1.2M1081.2 202.2h1.2M1082.7 197.9h1.2M1091.6 197.5h1.2M1081.0 199.3h1.2M1093.1 196.8h1.2M1080.0 201.4h1.2M1077.7 198.8h1.2M1089.7 200.8h1.2M1089.9 196.8h1.2M1091.5 198.4h1.2M1090.2 199.2h1.2M1091.6 199.3h1.2M1080.8 197.0h1.2M1084.8 196.3h1.2M1079.2 201.9h1.2M1086.2 201.9h1.2M1079.0 199.3h1.2M1084.4 196.7h1.2M1080.9 202.3h1.2M1088.7 199.5h1.2M1086.8 201.9h1.2M1092.6 200.0h1.2M1077.3 201.9h1.2M1079.2 197.6h1.2M1078.7 199.5h1.2M1086.3 199.1h1.2M1084.4 197.0h1.2M1088.6 199.7h1.2M1081.7 201.7h1.2M1092.4 202.3h1.2M1093.1 196.5h1.2M1083.0 199.1h1.2M1080.8 201.1h1.2M1091.8 196.9h1.2M1085.0 202.6h1.2M1091.5 199.1h1.2M1078.2 199.1h1.2M1085.2 201.3h1.2M1079.6 197.9h1.2M1093.1 196.1h1.2M1086.8 196.6h1.2M1089.2 198.9h1.2M1092.1 197.5h1.2M1091.3 197.5h1.2M1077.2 196.6h1.2M1077.7 198.6h1.2M1092.9 198.4h1.2M1088.6 196.2h1.2M1085.2 199.7h1.2M1078.1 199.9h1.2M1084.0 198.2h1.2M1090.5 200.7h1.2M1078.4 196.7h1.2M1077.3 197.8h1.2M1087.2 202.6h1.2M1092.9 201.9h1.2M1078.5 201.4h1.2M1089.4 199.2h1.2M1093.3 200.1h1.2M1078.4 197.5h1.2M1078.6 200.2h1.2M1087.0 201.8h1.2M1076.6 196.1h1.2M1092.9 197.8h1.2M1080.9 201.9h1.2M1078.3 201.4h1.2M1091.6 199.8h1.2M1086.7 196.0h1.2M1086.7 200.2h1.2M1089.5 199.5h1.2M1078.3 197.5h1.2M1087.5 196.5h1.2M1078.2 197.7h1.2M1089.9 199.7h1.2M1082.5 202.6h1.2M1086.3 197.6h1.2M1086.0 201.8h1.2M1082.7 199.0h1.2M1086.2 202.7h1.2M1087.3 197.2h1.2M1086.3 198.2h1.2M1084.4 200.8h1.2M1076.7 199.5h1.2M1081.7 200.1h1.2M1090.4 199.2h1.2M1087.1 198.0h1.2M1080.8 199.5h1.2M1085.5 197.5h1.2M1089.4 199.4h1.2M1082.4 197.7h1.2M1090.6 202.1h1.2M1092.3 197.7h1.2M1077.6 200.3h1.2M1076.8 201.8h1.2M1087.9 198.3h1.2M1083.9 200.6h1.2M1079.1 198.5h1.2M1089.8 200.6h1.2M1086.4 196.7h1.2M1080.1 197.7h1.2M1076.9 200.4h1.2M1086.1 202.3h1.2M1085.8 202.2h1.2M1084.4 199.5h1.2M1081.2 199.2h1.2M1092.3 199.3h1.2M1076.4 198.4h1.2M1079.8 200.2h1.2M1085.1 199.2h1.2M1092.2 201.2h1.2M1077.9 196.2h1.2M1088.3 200.1h1.2M1087.5 199.4h1.2M1077.0 199.1h1.2M1090.6 200.1h1.2M1077.2 196.8h1.2M1091.8 199.7h1.2M1079.2 200.8h1.2M1092.1 201.9h1.2M1087.4 201.5h1.2M1077.9 199.2h1.2M1090.2 198.3h1.2M1078.8 201.9h1.2M1088.4 196.1h1.2M1077.5 199.8h1.2M1092.6 200.2h1.2M1091.3 196.7h1.2M1086.2 197.2h1.2M1082.0 197.0h1.2M1084.3 196.3h1.2M1087.6 200.4h1.2M1091.8 201.2h1.2M1077.7 201.9h1.2M1085.6 202.4h1.2M1084.8 196.6h1.2M1088.4 197.2h1.2M1093.1 199.7h1.2M1091.7 199.3h1.2M1081.9 200.5h1.2M1088.5 199.1h1.2M1081.1 198.9h1.2M1088.6 197.6h1.2M1079.1 199.3h1.2M1105.2 196.8h1.2M1098.3 202.2h1.2M1098.2 201.0h1.2M1098.9 196.9h1.2M1102.2 201.6h1.2M1107.4 196.7h1.2M1106.1 200.1h1.2M1102.1 200.4h1.2M1102.8 197.5h1.2M1105.9 197.2h1.2M1099.0 201.5h1.2M1103.6 199.5h1.2M1106.2 199.4h1.2M1100.3 199.7h1.2M1093.8 198.5h1.2M1094.1 202.4h1.2M1109.7 200.3h1.2M1096.2 201.5h1.2M1098.5 201.2h1.2M1105.1 200.0h1.2M1106.7 198.0h1.2M1108.4 199.7h1.2M1107.0 201.4h1.2M1098.0 198.9h1.2M1099.9 196.9h1.2M1109.2 200.5h1.2M1102.2 199.7h1.2M1109.2 196.8h1.2M1099.8 200.5h1.2M1103.0 199.4h1.2M1098.1 197.7h1.2M1105.5 198.4h1.2M1110.3 201.8h1.2M1110.9 198.1h1.2M1102.7 197.0h1.2M1099.9 196.8h1.2M1102.4 202.1h1.2M1107.1 198.6h1.2M1098.4 202.0h1.2M1094.3 201.5h1.2M1130.7 197.7h1.2M1131.2 200.0h1.2M1128.3 199.1h1.2M1129.4 199.5h1.2M1144.9 200.6h1.2M1142.7 197.9h1.2M1144.5 199.8h1.2M1144.0 198.1h1.2" stroke="#3710c6" stroke-width="1.25" stroke-opacity=".9" fill="none"/>
<path d="M1021.6 202.2V239.4" stroke="#8578eb" stroke-width="1.4" stroke-opacity=".85" fill="none"/>
<path d="M1010.1 223.6h1.2M1016.4 220.6h1.2M1029.8 218.6h1.2M1022.4 217.6h1.2M1020.7 222.5h1.2M1011.9 222.6h1.2M1029.7 223.1h1.2M1025.8 224.0h1.2M1024.2 221.1h1.2M1026.5 223.0h1.2M1022.2 222.0h1.2M1012.3 219.6h1.2M1015.6 223.3h1.2M1025.6 219.3h1.2M1030.3 217.6h1.2M1009.8 219.5h1.2M1010.1 224.0h1.2M1016.3 220.0h1.2M1027.2 221.0h1.2M1022.3 220.3h1.2M1018.5 224.1h1.2M1014.5 220.9h1.2M1018.9 218.2h1.2M1011.6 220.8h1.2M1026.0 220.3h1.2M1009.7 223.9h1.2M1011.4 223.5h1.2M1009.4 221.8h1.2M1011.6 219.0h1.2M1017.7 222.6h1.2M1018.0 220.2h1.2M1017.3 220.9h1.2M1014.6 224.0h1.2M1012.6 218.1h1.2M1020.5 219.7h1.2M1024.3 217.4h1.2M1023.3 219.8h1.2M1028.8 219.3h1.2M1017.9 219.4h1.2M1020.1 219.2h1.2M1023.1 220.1h1.2M1024.0 219.3h1.2M1018.4 221.2h1.2M1024.2 221.9h1.2M1017.8 217.8h1.2M1010.9 218.2h1.2M1012.4 218.5h1.2M1023.0 219.6h1.2M1028.4 218.8h1.2M1013.8 218.5h1.2M1011.6 222.1h1.2M1021.1 219.0h1.2M1026.2 222.0h1.2M1017.8 221.5h1.2M1022.8 220.3h1.2M1010.4 219.8h1.2M1029.2 219.8h1.2M1022.5 217.8h1.2M1025.4 223.4h1.2M1016.6 219.8h1.2M1019.7 219.0h1.2M1013.0 218.1h1.2M1023.5 220.8h1.2M1029.4 224.1h1.2M1027.6 224.0h1.2M1026.8 217.3h1.2M1011.3 224.2h1.2M1027.6 221.6h1.2M1022.0 220.3h1.2M1017.7 218.2h1.2M1020.5 219.1h1.2M1011.1 223.4h1.2M1021.0 223.5h1.2M1014.9 221.3h1.2M1014.5 223.1h1.2M1013.0 221.8h1.2M1020.6 219.5h1.2M1010.2 220.7h1.2M1019.9 223.1h1.2M1012.9 218.5h1.2M1015.1 222.9h1.2M1013.5 221.7h1.2M1009.1 217.8h1.2M1024.0 220.7h1.2M1010.9 220.6h1.2M1029.1 220.0h1.2M1020.7 220.2h1.2M1019.5 217.5h1.2M1027.8 221.3h1.2M1016.0 219.2h1.2M1012.5 223.9h1.2M1026.9 219.9h1.2M1021.7 221.1h1.2M1012.8 217.4h1.2M1024.6 218.3h1.2M1020.8 217.3h1.2M1008.9 218.3h1.2M1022.8 221.6h1.2M1030.2 221.9h1.2M1019.9 217.3h1.2M1029.5 220.7h1.2M1027.3 217.5h1.2M1026.8 220.6h1.2M1013.2 220.1h1.2M1010.1 221.3h1.2M1013.2 222.2h1.2M1012.2 222.1h1.2M1022.0 222.3h1.2M1029.3 219.3h1.2M1023.4 220.0h1.2M1028.1 223.1h1.2M1025.2 221.5h1.2M1014.2 223.7h1.2M1029.7 224.0h1.2M1015.8 223.1h1.2M1023.3 223.2h1.2M1026.0 220.4h1.2M1017.1 222.9h1.2M1022.8 221.0h1.2M1027.6 217.4h1.2M1008.7 220.5h1.2M1010.5 223.2h1.2M1010.3 223.5h1.2M1013.4 218.1h1.2M1025.0 222.0h1.2M1017.4 221.5h1.2M1020.6 224.0h1.2M1019.6 221.0h1.2M1018.6 220.1h1.2M1023.6 218.0h1.2M1023.6 223.8h1.2M1025.1 221.1h1.2M1016.2 217.9h1.2M1010.4 221.0h1.2M1027.8 223.4h1.2M1012.4 222.6h1.2M1026.2 220.6h1.2M1027.3 218.5h1.2M1015.8 220.9h1.2M1024.4 220.4h1.2M1015.0 223.4h1.2M1017.0 220.2h1.2M1013.3 220.6h1.2M1023.9 219.8h1.2M1023.0 220.7h1.2M1008.7 224.1h1.2M1014.7 221.1h1.2M1029.5 218.6h1.2M1009.8 218.6h1.2M1011.8 223.3h1.2M1019.8 217.5h1.2M1014.4 220.8h1.2M1012.2 219.4h1.2M1028.3 220.4h1.2M1013.5 221.5h1.2M1010.9 220.9h1.2M1022.7 217.8h1.2M1020.5 219.4h1.2M1024.8 221.6h1.2M1028.4 221.5h1.2M1012.4 218.5h1.2M1023.9 223.0h1.2M1009.8 220.2h1.2M1014.6 220.5h1.2M1027.6 221.2h1.2M1024.8 222.7h1.2M1014.5 221.6h1.2M1016.7 220.6h1.2M1020.1 222.0h1.2M1012.1 223.2h1.2M1011.9 219.4h1.2M1027.1 224.3h1.2M1016.5 224.0h1.2M1009.2 224.0h1.2M1012.8 217.4h1.2M1025.2 218.3h1.2M1024.9 217.2h1.2M1011.1 219.7h1.2M1010.3 220.6h1.2M1016.0 222.5h1.2M1019.2 224.1h1.2M1027.0 218.4h1.2M1028.6 223.6h1.2M1020.8 221.0h1.2M1012.1 219.5h1.2M1013.2 218.6h1.2M1021.9 219.5h1.2M1025.3 221.3h1.2M1026.6 217.8h1.2M1027.0 220.8h1.2M1022.3 218.9h1.2M1023.7 220.1h1.2M1024.3 221.4h1.2M1011.5 219.3h1.2M1024.9 217.3h1.2M1022.3 221.1h1.2M1024.1 219.5h1.2M1018.9 220.6h1.2M1024.9 217.7h1.2M1019.6 219.0h1.2M1021.4 219.0h1.2M1012.9 218.8h1.2M1028.1 219.8h1.2M1027.8 222.5h1.2M1014.3 221.1h1.2M1008.6 223.9h1.2M1022.3 218.0h1.2M1019.8 220.7h1.2M1023.2 219.2h1.2M1028.4 221.6h1.2M1010.0 223.1h1.2M1027.9 219.4h1.2M1024.1 223.4h1.2M1027.8 217.7h1.2M1026.8 218.9h1.2M1026.0 222.1h1.2M1018.6 223.7h1.2M1026.1 224.3h1.2M1029.5 221.3h1.2M1024.6 222.0h1.2M1017.2 220.8h1.2M1019.6 218.7h1.2M1014.1 223.2h1.2M1027.0 222.2h1.2M1023.5 220.8h1.2M1021.0 222.0h1.2M1008.6 220.4h1.2M1029.7 218.6h1.2M1018.7 217.7h1.2M1014.0 223.1h1.2M1009.1 222.9h1.2M1026.0 223.4h1.2M1014.1 223.9h1.2M1016.6 220.4h1.2M1029.3 221.1h1.2M1023.4 218.0h1.2M1008.5 219.1h1.2M1010.7 223.1h1.2M1013.9 224.1h1.2M1023.3 218.5h1.2M1024.0 219.4h1.2M1020.0 217.7h1.2M1026.7 222.8h1.2M1021.2 222.1h1.2M1015.9 218.1h1.2M1015.6 222.5h1.2M1020.8 218.1h1.2M1013.7 220.6h1.2M1008.7 217.5h1.2M1018.3 218.1h1.2M1028.0 218.1h1.2M1024.9 222.9h1.2M1015.3 221.1h1.2M1030.2 221.6h1.2M1016.9 224.2h1.2M1014.1 224.0h1.2M1015.2 220.2h1.2M1015.3 221.9h1.2M1027.8 222.1h1.2M1012.4 224.3h1.2M1024.3 220.8h1.2M1027.1 217.9h1.2M1021.6 222.8h1.2M1025.5 222.0h1.2M1009.8 220.6h1.2M1014.3 221.5h1.2M1017.1 220.4h1.2M1020.2 221.4h1.2M1028.0 219.2h1.2M1014.4 218.5h1.2M1010.9 223.3h1.2M1028.6 218.1h1.2M1016.3 223.7h1.2M1027.4 224.2h1.2M1030.2 219.3h1.2M1009.9 219.0h1.2M1019.5 217.3h1.2M1014.0 220.6h1.2M1023.4 218.3h1.2M1011.1 219.5h1.2M1010.4 218.0h1.2M1010.7 222.9h1.2M1027.7 217.5h1.2M1026.1 223.2h1.2M1022.7 219.3h1.2M1026.4 217.7h1.2M1009.4 224.0h1.2M1013.3 223.7h1.2M1025.0 217.5h1.2M1010.5 221.8h1.2M1011.6 222.0h1.2M1023.2 218.8h1.2M1018.9 218.7h1.2M1027.6 221.7h1.2M1023.6 221.6h1.2M1009.7 223.5h1.2M1025.5 220.9h1.2M1021.4 220.7h1.2M1025.0 221.0h1.2M1014.5 220.9h1.2M1013.1 217.2h1.2M1019.9 223.4h1.2M1024.2 218.7h1.2M1019.6 221.4h1.2M1021.1 220.5h1.2M1019.6 222.1h1.2M1027.8 220.9h1.2M1025.7 222.1h1.2M1011.0 219.0h1.2M1015.3 219.7h1.2M1019.2 219.3h1.2M1030.4 222.4h1.2M1016.6 222.2h1.2M1028.7 218.3h1.2M1022.2 224.1h1.2M1016.7 223.5h1.2M1026.1 219.5h1.2M1011.6 223.0h1.2M1017.5 219.7h1.2M1018.6 222.4h1.2M1028.1 223.8h1.2M1025.3 218.4h1.2M1016.5 217.2h1.2M1012.8 219.6h1.2M1012.3 220.6h1.2M1011.3 221.9h1.2M1017.4 218.9h1.2M1023.5 219.5h1.2M1008.9 223.2h1.2M1025.0 223.5h1.2M1036.0 219.3h1.2M1043.6 218.6h1.2M1048.8 221.7h1.2M1040.8 218.1h1.2M1035.8 220.3h1.2M1049.0 218.6h1.2M1041.6 218.2h1.2M1048.9 222.2h1.2M1045.8 222.3h1.2M1033.8 219.2h1.2M1031.1 221.1h1.2M1031.9 218.9h1.2M1033.7 223.3h1.2M1045.4 219.5h1.2M1048.8 218.7h1.2M1033.1 220.0h1.2M1045.7 218.4h1.2M1045.4 221.0h1.2M1045.6 219.8h1.2M1031.2 218.4h1.2M1044.1 220.8h1.2M1044.9 219.0h1.2M1035.7 219.0h1.2M1046.6 222.0h1.2M1033.3 222.1h1.2M1031.1 220.6h1.2M1035.3 222.3h1.2M1044.1 221.9h1.2M1034.1 218.0h1.2M1042.6 221.9h1.2M1030.6 222.8h1.2M1047.4 219.9h1.2M1040.3 221.7h1.2M1048.0 221.7h1.2M1040.2 222.4h1.2M1039.7 218.0h1.2M1040.8 220.2h1.2M1036.8 220.1h1.2M1034.6 219.6h1.2M1044.6 223.1h1.2M1039.1 222.8h1.2M1032.8 220.9h1.2M1044.5 222.4h1.2M1037.8 218.8h1.2M1048.7 221.4h1.2M1042.8 219.8h1.2M1032.5 221.2h1.2M1038.1 223.1h1.2M1043.0 222.3h1.2M1041.2 222.3h1.2M1032.9 223.7h1.2M1041.4 221.3h1.2M1034.0 218.3h1.2M1043.8 222.1h1.2M1043.1 219.3h1.2M1039.7 222.4h1.2M1042.6 223.2h1.2M1032.1 222.4h1.2M1030.7 221.5h1.2M1040.5 218.2h1.2M1056.1 221.6h1.2M1063.3 218.6h1.2M1057.6 222.2h1.2M1051.3 222.7h1.2M1064.4 220.0h1.2M1052.7 219.0h1.2M1052.9 220.4h1.2M1060.7 222.9h1.2M1058.3 223.0h1.2M1056.2 221.5h1.2M1049.4 220.4h1.2M1049.8 218.9h1.2M1062.3 218.8h1.2M1054.2 220.9h1.2M1057.8 218.4h1.2M1051.2 221.6h1.2M1076.2 218.3h1.2M1076.4 220.0h1.2M1089.4 219.9h1.2M1110.6 218.2h1.2M1111.0 223.5h1.2" stroke="#330fcc" stroke-width="1.25" stroke-opacity=".9" fill="none"/>
<path d="M1020.9 223.5V260.7" stroke="#8378ee" stroke-width="1.4" stroke-opacity=".85" fill="none"/>
<path d="M1025.6 239.5h1.2M1020.9 241.2h1.2M1029.5 243.5h1.2M1022.2 240.5h1.2M1018.9 242.3h1.2M1017.8 242.6h1.2M1012.2 241.6h1.2M1029.6 241.4h1.2M1020.3 243.8h1.2M1026.2 243.7h1.2M1017.8 243.6h1.2M1014.3 242.9h1.2M1010.7 240.0h1.2M1013.8 241.1h1.2M1024.8 238.9h1.2M1027.5 239.3h1.2M1028.9 245.2h1.2M1022.4 244.4h1.2M1028.7 241.8h1.2M1027.1 239.0h1.2M1025.6 243.1h1.2M1025.5 239.7h1.2M1012.0 242.3h1.2M1022.2 243.4h1.2M1013.9 242.6h1.2M1029.3 240.4h1.2M1026.4 245.3h1.2M1023.5 241.7h1.2M1018.6 241.9h1.2M1012.8 239.2h1.2M1015.9 239.9h1.2M1027.9 241.2h1.2M1027.5 242.5h1.2M1027.9 244.8h1.2M1024.3 241.8h1.2M1015.2 242.6h1.2M1016.5 244.4h1.2M1011.2 243.0h1.2M1017.0 241.6h1.2M1021.0 245.4h1.2M1029.8 241.1h1.2M1029.1 245.2h1.2M1020.7 242.6h1.2M1014.3 244.1h1.2M1019.9 243.9h1.2M1028.4 243.0h1.2M1024.0 242.5h1.2M1013.0 241.8h1.2M1011.6 239.9h1.2M1029.5 241.3h1.2M1013.0 241.7h1.2M1011.6 242.8h1.2M1014.9 240.2h1.2M1022.8 245.0h1.2M1010.7 243.6h1.2M1021.7 242.0h1.2M1018.6 238.8h1.2M1017.3 242.3h1.2M1016.9 245.5h1.2M1017.0 244.5h1.2M1026.2 244.1h1.2M1020.0 242.1h1.2M1026.8 239.5h1.2M1014.8 238.8h1.2M1020.0 241.8h1.2M1029.0 245.0h1.2M1018.3 242.1h1.2M1012.4 243.8h1.2M1020.5 239.9h1.2M1027.5 239.0h1.2M1014.2 242.0h1.2M1029.8 239.7h1.2M1015.6 244.1h1.2M1017.0 245.0h1.2M1010.8 240.3h1.2M1016.4 244.5h1.2M1012.4 243.3h1.2M1027.7 245.3h1.2M1026.1 239.1h1.2M1019.8 240.2h1.2M1012.8 240.4h1.2M1024.7 242.6h1.2M1012.9 240.7h1.2M1011.7 245.0h1.2M1025.1 241.9h1.2M1029.1 245.4h1.2M1014.4 240.4h1.2M1014.1 243.0h1.2M1022.0 242.2h1.2M1025.5 242.3h1.2M1016.5 243.3h1.2M1028.9 239.1h1.2M1019.9 239.7h1.2M1025.0 241.7h1.2M1026.8 243.3h1.2M1029.1 242.7h1.2M1022.0 245.3h1.2M1026.1 241.0h1.2M1012.4 245.0h1.2M1011.6 245.0h1.2M1028.6 243.2h1.2M1028.9 242.8h1.2M1024.9 242.8h1.2M1014.7 239.3h1.2M1024.9 241.8h1.2M1012.8 242.5h1.2M1015.6 240.5h1.2M1027.5 242.9h1.2M1025.0 244.3h1.2M1018.9 241.8h1.2M1018.8 241.2h1.2M1025.6 244.7h1.2M1016.2 243.6h1.2M1014.6 238.8h1.2M1023.8 244.0h1.2M1016.8 245.5h1.2M1024.4 240.9h1.2M1025.2 244.5h1.2M1013.1 244.9h1.2M1018.9 240.6h1.2M1017.8 242.3h1.2M1020.7 240.7h1.2M1011.6 243.0h1.2M1024.4 243.4h1.2M1018.1 244.6h1.2M1010.7 239.6h1.2M1010.8 242.5h1.2M1020.6 240.3h1.2M1020.6 238.7h1.2M1011.1 245.3h1.2M1027.7 239.2h1.2M1023.2 242.2h1.2M1020.9 244.4h1.2M1022.9 245.1h1.2M1023.7 244.9h1.2M1012.7 244.3h1.2M1016.6 245.0h1.2M1025.8 245.3h1.2M1025.1 241.4h1.2M1020.6 244.0h1.2M1011.5 242.4h1.2M1021.5 243.6h1.2M1017.1 242.8h1.2M1024.8 241.3h1.2M1023.7 244.9h1.2M1017.6 242.3h1.2M1019.8 244.4h1.2M1015.7 240.7h1.2M1018.1 243.2h1.2M1013.4 245.4h1.2M1020.2 243.7h1.2M1018.4 238.9h1.2M1017.9 242.6h1.2M1012.2 245.4h1.2M1021.8 241.8h1.2M1011.0 240.4h1.2M1017.0 243.1h1.2M1013.8 242.0h1.2M1015.7 242.6h1.2M1023.8 242.2h1.2M1025.0 243.0h1.2M1012.0 243.2h1.2M1019.8 243.9h1.2M1028.7 241.1h1.2M1027.0 240.3h1.2M1023.1 238.8h1.2M1026.5 241.8h1.2M1019.3 242.1h1.2M1017.7 240.3h1.2M1023.9 243.0h1.2M1011.5 240.6h1.2M1028.6 240.6h1.2M1016.1 242.7h1.2M1017.7 245.2h1.2M1029.6 239.6h1.2M1014.8 239.9h1.2M1019.1 240.7h1.2M1023.6 244.7h1.2M1011.8 238.9h1.2M1012.6 240.8h1.2M1013.0 241.7h1.2M1017.5 243.7h1.2M1029.3 245.4h1.2M1018.6 243.1h1.2M1013.0 242.9h1.2M1027.6 244.7h1.2M1013.1 239.8h1.2M1028.0 243.5h1.2M1025.3 239.2h1.2M1022.5 238.9h1.2M1024.8 244.1h1.2M1016.7 238.7h1.2M1024.7 245.5h1.2M1022.5 241.2h1.2M1016.8 244.2h1.2M1029.3 241.2h1.2M1014.7 245.5h1.2M1018.7 241.7h1.2M1016.5 243.6h1.2M1029.6 241.9h1.2M1027.1 241.4h1.2M1018.6 244.2h1.2M1029.3 243.9h1.2M1024.1 244.3h1.2M1028.3 245.2h1.2M1020.8 241.4h1.2M1010.5 242.3h1.2M1017.3 238.7h1.2M1029.8 240.8h1.2M1028.6 238.8h1.2M1017.4 244.0h1.2M1023.5 243.3h1.2M1019.9 239.3h1.2M1026.6 243.9h1.2M1019.7 242.5h1.2M1026.1 242.1h1.2M1019.7 242.0h1.2M1024.8 243.7h1.2M1016.9 244.0h1.2M1017.7 243.3h1.2M1017.8 244.8h1.2M1028.7 244.0h1.2M1017.8 241.1h1.2M1018.9 242.8h1.2M1011.1 242.4h1.2M1028.5 239.2h1.2M1027.8 242.6h1.2M1029.9 243.6h1.2M1024.4 243.8h1.2M1018.6 239.5h1.2M1027.1 244.7h1.2M1024.5 240.2h1.2M1020.1 242.2h1.2M1017.5 242.0h1.2M1019.3 245.4h1.2M1022.6 245.4h1.2M1028.1 239.9h1.2M1025.4 241.3h1.2M1022.0 242.5h1.2M1024.8 240.8h1.2M1023.6 241.2h1.2M1025.7 242.1h1.2M1022.9 245.5h1.2M1015.9 238.8h1.2M1027.9 242.3h1.2M1023.0 244.4h1.2M1027.8 241.3h1.2M1029.7 241.4h1.2M1024.6 244.4h1.2M1017.5 241.6h1.2M1017.5 241.0h1.2M1018.4 244.5h1.2M1011.6 245.4h1.2M1025.8 242.5h1.2M1022.9 240.8h1.2M1025.3 244.7h1.2M1017.8 242.1h1.2M1014.7 240.4h1.2M1027.0 243.1h1.2M1019.1 243.1h1.2M1014.0 238.7h1.2M1017.4 242.6h1.2M1014.0 242.4h1.2M1016.7 240.5h1.2M1024.8 241.2h1.2M1024.9 243.8h1.2M1017.7 238.9h1.2M1026.8 242.5h1.2M1021.7 243.4h1.2M1021.1 244.9h1.2M1010.6 245.3h1.2M1022.4 241.5h1.2M1028.1 244.8h1.2M1022.0 238.8h1.2M1022.6 241.5h1.2M1021.6 244.4h1.2M1013.0 244.5h1.2M1016.5 240.4h1.2M1011.1 239.4h1.2M1015.6 242.3h1.2M1028.7 239.9h1.2M1016.0 241.3h1.2M1022.9 241.1h1.2M1023.5 239.7h1.2M1011.3 242.7h1.2M1024.5 239.6h1.2M1011.3 243.3h1.2M1011.7 245.0h1.2M1023.9 239.8h1.2M1018.4 239.1h1.2M1012.1 241.1h1.2M1027.5 244.9h1.2M1025.1 243.1h1.2M1021.8 242.2h1.2M1023.2 242.1h1.2M1018.2 244.4h1.2M1016.3 241.5h1.2M1023.6 245.3h1.2M1017.1 241.7h1.2M1018.2 240.1h1.2M1031.9 243.9h1.2M1030.7 242.0h1.2M1031.4 242.6h1.2M1034.8 239.8h1.2M1032.8 240.2h1.2M1033.9 243.2h1.2M1030.9 240.5h1.2M1031.5 241.1h1.2M1045.3 242.9h1.2" stroke="#2e0ed2" stroke-width="1.25" stroke-opacity=".9" fill="none"/>
<path d="M1081.0 244.9V282.1" stroke="#8078f2" stroke-width="1.4" stroke-opacity=".85" fill="none"/>
<path d="M1083.2 262.8h1.2M1078.8 261.4h1.2M1078.9 266.5h1.2M1074.1 262.8h1.2M1075.4 265.8h1.2M1076.8 263.4h1.2M1073.6 264.8h1.2M1079.6 265.5h1.2M1082.3 265.1h1.2M1076.3 261.8h1.2M1080.7 260.4h1.2M1085.1 265.0h1.2M1079.3 262.5h1.2M1073.9 263.9h1.2M1082.9 260.9h1.2M1074.2 264.7h1.2M1079.0 265.5h1.2M1078.2 266.8h1.2M1084.2 262.3h1.2M1079.9 264.1h1.2M1078.8 265.6h1.2M1082.1 265.6h1.2M1076.2 263.5h1.2M1080.0 264.0h1.2M1073.1 265.6h1.2M1078.7 261.2h1.2M1084.0 263.9h1.2M1082.5 265.1h1.2M1081.0 266.3h1.2M1073.6 262.3h1.2M1075.0 264.4h1.2M1075.8 260.3h1.2M1074.7 261.3h1.2M1079.9 263.2h1.2M1078.9 260.2h1.2M1079.8 261.8h1.2M1074.1 260.5h1.2M1074.9 262.8h1.2M1075.1 263.2h1.2M1075.0 265.1h1.2M1084.3 262.3h1.2M1073.8 266.6h1.2M1074.0 264.5h1.2M1082.7 263.4h1.2M1084.5 261.1h1.2M1082.3 266.2h1.2M1084.6 265.9h1.2M1078.6 263.6h1.2M1083.9 262.7h1.2M1076.2 260.3h1.2M1075.6 261.0h1.2M1085.0 262.2h1.2M1077.5 266.7h1.2M1081.9 263.0h1.2M1074.3 262.6h1.2M1076.7 266.5h1.2M1078.4 266.7h1.2M1076.4 260.4h1.2M1084.6 260.6h1.2M1083.1 264.1h1.2M1076.6 265.8h1.2M1078.5 266.8h1.2M1080.2 266.5h1.2M1085.0 262.6h1.2M1081.9 265.0h1.2M1081.4 260.2h1.2M1081.8 265.3h1.2M1075.4 260.7h1.2M1073.8 263.8h1.2M1074.3 265.8h1.2M1078.3 266.8h1.2M1082.4 263.0h1.2M1075.3 263.0h1.2M1080.8 265.9h1.2M1084.5 262.3h1.2M1073.2 264.6h1.2M1081.8 264.5h1.2M1083.3 265.6h1.2M1081.0 265.7h1.2M1074.5 266.5h1.2M1081.6 260.7h1.2M1075.1 264.4h1.2M1076.9 266.5h1.2M1076.5 263.4h1.2M1079.4 266.5h1.2M1076.9 266.1h1.2M1082.3 263.9h1.2M1085.2 266.1h1.2M1082.6 263.8h1.2M1073.5 261.6h1.2M1081.4 260.9h1.2M1081.3 262.4h1.2M1077.9 265.7h1.2M1083.8 265.2h1.2M1078.7 263.7h1.2M1085.7 266.4h1.2M1080.8 260.6h1.2M1084.6 260.4h1.2M1074.4 264.6h1.2M1075.5 265.2h1.2M1081.8 261.2h1.2M1084.7 266.9h1.2M1081.4 266.8h1.2M1083.3 263.3h1.2M1083.6 266.5h1.2M1081.9 260.6h1.2M1077.7 264.9h1.2M1077.7 261.2h1.2M1078.8 261.0h1.2M1079.1 260.8h1.2M1082.3 261.5h1.2M1085.1 260.8h1.2M1081.1 264.5h1.2M1075.5 264.3h1.2M1080.0 264.3h1.2M1075.3 263.3h1.2M1083.8 264.3h1.2M1076.1 262.4h1.2M1084.3 260.4h1.2M1079.1 263.6h1.2M1078.5 260.1h1.2M1074.3 265.8h1.2M1078.8 262.1h1.2M1078.8 260.4h1.2M1074.0 265.7h1.2M1082.8 261.4h1.2M1077.0 260.6h1.2M1077.0 263.6h1.2M1082.7 263.5h1.2M1083.9 266.9h1.2M1080.3 260.4h1.2M1074.6 264.7h1.2M1074.6 266.2h1.2M1073.6 260.5h1.2M1085.8 262.8h1.2M1080.1 264.1h1.2M1074.4 262.4h1.2M1077.7 265.1h1.2M1083.1 264.8h1.2M1075.3 263.2h1.2M1084.8 261.3h1.2M1077.4 264.3h1.2M1085.8 260.3h1.2M1081.9 263.2h1.2M1079.8 265.8h1.2M1074.1 264.1h1.2M1077.0 265.2h1.2M1082.2 262.9h1.2M1074.9 265.3h1.2M1082.0 263.9h1.2M1082.6 266.5h1.2M1076.1 264.8h1.2M1083.4 261.9h1.2M1084.6 262.2h1.2M1085.3 264.0h1.2M1085.5 266.1h1.2M1083.1 262.6h1.2M1078.9 264.1h1.2M1083.4 262.9h1.2M1084.6 261.6h1.2M1079.7 261.1h1.2M1075.1 262.1h1.2M1073.5 264.0h1.2M1081.0 262.8h1.2M1083.3 263.8h1.2M1081.8 260.7h1.2M1077.2 260.2h1.2M1075.0 265.9h1.2M1074.7 264.1h1.2M1077.8 264.7h1.2M1106.3 265.6h1.2M1108.6 266.5h1.2M1095.0 266.6h1.2M1103.7 262.1h1.2M1093.3 263.6h1.2M1105.7 260.9h1.2M1106.8 264.6h1.2M1099.6 262.9h1.2M1094.6 262.9h1.2M1102.6 263.1h1.2M1102.5 265.9h1.2M1087.5 260.4h1.2M1108.0 261.5h1.2M1104.9 262.9h1.2M1090.8 260.4h1.2M1095.7 264.1h1.2M1086.7 260.4h1.2M1092.3 265.9h1.2M1103.4 261.9h1.2M1095.1 262.9h1.2M1102.4 262.1h1.2M1093.9 263.5h1.2M1091.1 263.0h1.2M1103.3 263.5h1.2M1086.7 262.5h1.2M1099.1 261.8h1.2M1094.7 263.9h1.2M1094.1 261.5h1.2M1106.4 260.7h1.2M1107.2 260.9h1.2M1098.7 263.8h1.2M1095.2 264.3h1.2M1106.6 262.3h1.2M1086.8 261.6h1.2M1106.5 264.1h1.2M1103.5 262.8h1.2M1093.2 264.7h1.2M1099.0 266.1h1.2M1089.3 262.5h1.2M1102.0 266.1h1.2M1096.6 265.3h1.2M1088.0 264.4h1.2M1093.3 264.7h1.2M1092.5 261.5h1.2M1091.9 264.9h1.2M1102.5 266.1h1.2M1095.3 260.7h1.2M1104.8 261.9h1.2M1102.6 263.4h1.2M1096.1 260.5h1.2M1090.8 265.1h1.2M1096.4 265.9h1.2M1104.8 263.7h1.2M1109.0 260.3h1.2M1095.0 263.7h1.2M1086.7 265.9h1.2M1089.0 264.0h1.2M1091.9 262.7h1.2M1096.6 262.1h1.2M1089.5 264.5h1.2M1100.4 260.8h1.2M1108.8 261.0h1.2M1090.8 262.1h1.2M1094.1 263.4h1.2M1107.1 260.9h1.2M1099.2 264.3h1.2M1091.6 262.6h1.2M1096.1 266.0h1.2M1104.0 263.4h1.2M1087.1 262.6h1.2M1131.5 263.1h1.2M1120.0 264.3h1.2M1110.5 264.4h1.2M1127.9 261.2h1.2M1120.7 265.6h1.2M1116.5 263.7h1.2M1118.7 263.8h1.2M1120.0 262.5h1.2M1134.4 264.6h1.2M1136.4 262.5h1.2M1122.0 262.7h1.2M1132.8 262.7h1.2M1127.8 261.5h1.2M1124.0 262.1h1.2M1134.1 262.7h1.2M1135.1 263.9h1.2M1118.6 263.8h1.2M1134.5 264.6h1.2M1131.7 263.9h1.2M1126.1 261.3h1.2M1131.9 264.3h1.2M1126.9 262.3h1.2M1130.0 263.6h1.2M1118.1 266.4h1.2M1130.3 264.6h1.2M1132.1 264.7h1.2M1119.8 266.2h1.2M1133.9 264.5h1.2M1121.1 263.5h1.2M1110.6 265.8h1.2M1131.8 264.0h1.2M1122.0 265.3h1.2M1110.0 262.9h1.2M1116.2 264.1h1.2M1119.0 264.1h1.2M1133.6 262.9h1.2" stroke="#2a0dd8" stroke-width="1.25" stroke-opacity=".9" fill="none"/>
<path d="M1074.6 266.2V303.4" stroke="#7d78f5" stroke-width="1.4" stroke-opacity=".85" fill="none"/>
<path d="M1065.7 281.7h1.2M1076.8 284.6h1.2M1070.7 281.8h1.2M1065.5 281.6h1.2M1077.8 281.9h1.2M1068.9 284.7h1.2M1072.8 283.1h1.2M1073.9 285.7h1.2M1079.2 282.2h1.2M1068.5 282.3h1.2M1068.4 283.0h1.2M1064.4 286.8h1.2M1068.2 286.4h1.2M1076.5 286.7h1.2M1064.3 285.4h1.2M1077.1 285.7h1.2M1073.3 284.4h1.2M1076.7 285.1h1.2M1069.4 284.8h1.2M1071.2 282.8h1.2M1074.3 287.0h1.2M1074.0 281.7h1.2M1070.2 286.5h1.2M1065.9 284.9h1.2M1074.5 285.1h1.2M1069.0 281.7h1.2M1074.8 282.7h1.2M1073.2 285.0h1.2M1075.1 282.4h1.2M1079.0 286.4h1.2M1077.4 282.8h1.2M1075.1 284.1h1.2M1074.8 286.1h1.2M1070.2 287.7h1.2M1070.7 284.6h1.2M1075.0 282.6h1.2M1077.8 283.8h1.2M1077.7 282.6h1.2M1065.8 285.4h1.2M1067.6 284.5h1.2M1067.0 286.3h1.2M1075.3 286.0h1.2M1066.0 281.9h1.2M1072.9 282.2h1.2M1075.0 285.1h1.2M1078.4 286.9h1.2M1074.1 286.9h1.2M1071.8 283.5h1.2M1064.9 286.1h1.2M1074.2 285.7h1.2M1071.8 284.6h1.2M1078.1 284.0h1.2M1066.1 287.7h1.2M1075.7 287.4h1.2M1079.2 284.4h1.2M1066.3 284.8h1.2M1071.5 284.1h1.2M1076.1 283.2h1.2M1078.9 283.0h1.2M1068.3 287.0h1.2M1067.5 286.3h1.2M1068.1 284.3h1.2M1071.2 283.2h1.2M1076.7 287.7h1.2M1078.2 282.7h1.2M1064.3 284.5h1.2M1075.4 285.1h1.2M1078.8 288.0h1.2M1074.5 283.3h1.2M1070.1 282.1h1.2M1070.0 286.4h1.2M1068.8 282.8h1.2M1072.3 287.4h1.2M1073.9 282.3h1.2M1070.6 283.1h1.2M1076.5 284.3h1.2M1070.8 287.3h1.2M1068.5 284.5h1.2M1079.1 283.6h1.2M1072.3 285.8h1.2M1069.1 285.7h1.2M1070.4 287.0h1.2M1072.5 286.3h1.2M1072.8 286.1h1.2M1069.9 282.6h1.2M1069.5 283.7h1.2M1064.1 286.6h1.2M1072.0 284.7h1.2M1074.8 282.1h1.2M1065.8 286.2h1.2M1064.5 287.2h1.2M1071.8 287.8h1.2M1077.2 284.3h1.2M1069.2 284.4h1.2M1075.8 284.6h1.2M1075.1 288.0h1.2M1075.5 284.9h1.2M1075.4 284.8h1.2M1072.9 284.3h1.2M1078.4 288.0h1.2M1072.7 285.2h1.2M1065.5 285.3h1.2M1078.3 283.2h1.2M1075.9 283.3h1.2M1075.0 283.4h1.2M1073.1 286.6h1.2M1064.4 287.0h1.2M1072.0 283.2h1.2M1068.7 285.2h1.2M1075.4 282.8h1.2M1080.9 283.2h1.2M1092.7 284.3h1.2M1095.4 286.2h1.2M1087.1 285.4h1.2M1082.5 285.5h1.2M1093.0 283.3h1.2M1093.4 282.7h1.2M1099.8 285.1h1.2M1098.8 285.9h1.2M1083.9 286.2h1.2M1092.3 284.1h1.2M1094.0 286.4h1.2M1093.7 283.1h1.2M1099.7 287.3h1.2M1088.5 287.4h1.2M1100.3 283.9h1.2M1083.4 283.3h1.2M1089.7 282.7h1.2M1084.4 286.2h1.2M1079.8 285.5h1.2M1088.0 286.1h1.2M1084.8 284.7h1.2M1083.9 281.9h1.2M1097.6 284.0h1.2M1085.6 287.4h1.2M1087.2 285.1h1.2M1082.4 284.3h1.2M1097.8 286.8h1.2M1096.6 287.3h1.2M1084.2 282.2h1.2M1082.1 285.7h1.2M1090.9 284.1h1.2M1094.4 283.2h1.2M1092.2 284.3h1.2M1082.3 286.5h1.2M1083.3 286.6h1.2M1095.4 284.5h1.2M1088.9 283.1h1.2M1082.3 286.0h1.2M1087.2 285.2h1.2M1106.6 283.9h1.2M1105.4 285.9h1.2M1107.0 283.5h1.2M1109.6 283.5h1.2M1105.8 283.5h1.2M1121.6 286.5h1.2M1119.5 287.4h1.2M1122.2 286.8h1.2M1121.1 284.5h1.2M1119.8 283.4h1.2" stroke="#260cde" stroke-width="1.25" stroke-opacity=".9" fill="none"/>
<path d="M1047.9 287.6V324.8" stroke="#7d78f5" stroke-width="1.4" stroke-opacity=".85" fill="none"/>
<path d="M1048.2 304.8h1.2M1048.5 308.3h1.2M1048.7 303.9h1.2M1044.2 308.3h1.2M1043.2 304.6h1.2M1040.6 306.4h1.2M1045.4 304.4h1.2M1042.7 307.1h1.2M1042.0 308.0h1.2M1048.3 305.7h1.2M1041.6 306.7h1.2M1043.1 303.7h1.2M1046.8 306.6h1.2M1042.8 304.6h1.2M1046.9 308.9h1.2M1043.6 306.7h1.2M1042.4 306.0h1.2M1045.6 305.0h1.2M1045.8 306.5h1.2M1040.8 303.8h1.2M1044.1 303.9h1.2M1045.3 306.8h1.2M1046.0 308.7h1.2M1045.9 307.9h1.2M1041.4 308.6h1.2M1048.8 306.8h1.2M1047.8 306.5h1.2M1044.3 304.0h1.2M1044.7 307.6h1.2M1047.5 308.7h1.2M1045.1 309.0h1.2M1043.7 303.1h1.2M1044.2 306.5h1.2M1047.4 304.5h1.2M1055.6 307.3h1.2M1057.0 307.9h1.2M1060.2 304.5h1.2M1059.8 307.5h1.2M1057.3 308.4h1.2M1055.9 304.5h1.2M1060.5 307.0h1.2M1060.5 308.2h1.2M1057.1 304.0h1.2M1060.0 305.5h1.2M1058.8 305.7h1.2M1062.9 305.2h1.2M1061.3 306.5h1.2M1057.8 308.2h1.2M1093.3 306.1h1.2M1099.3 306.3h1.2M1116.1 306.1h1.2M1115.5 306.3h1.2" stroke="#260cde" stroke-width="1.25" stroke-opacity=".9" fill="none"/>
<path d="M1037.3 309.0V346.2" stroke="#7d78f5" stroke-width="1.4" stroke-opacity=".85" fill="none"/>
<path d="M1022.5 327.8h1.2M1029.6 325.0h1.2M1015.9 329.2h1.2M1034.4 325.4h1.2M1019.9 327.2h1.2M1033.6 326.6h1.2M1036.4 325.4h1.2M1035.3 325.3h1.2M1028.4 330.0h1.2M1031.1 329.7h1.2M1022.8 329.9h1.2M1035.2 326.4h1.2M1032.3 329.7h1.2M1019.7 327.0h1.2M1032.2 327.9h1.2M1035.5 327.2h1.2M1025.0 325.8h1.2M1021.1 329.5h1.2M1020.8 329.6h1.2M1033.0 327.9h1.2M1021.7 325.0h1.2M1017.6 329.3h1.2M1036.5 330.0h1.2M1021.2 329.8h1.2M1024.8 326.9h1.2M1035.3 329.2h1.2M1030.2 326.4h1.2M1017.3 325.9h1.2M1020.8 326.0h1.2M1027.7 326.6h1.2M1019.7 329.5h1.2M1023.2 325.0h1.2M1015.1 327.8h1.2M1015.6 327.9h1.2M1015.5 327.4h1.2M1028.8 327.8h1.2M1019.8 329.3h1.2M1036.8 329.2h1.2M1035.9 330.0h1.2M1023.2 327.8h1.2M1045.5 329.3h1.2M1043.1 325.9h1.2M1045.9 327.8h1.2M1051.3 326.6h1.2M1041.4 326.9h1.2M1050.2 325.1h1.2M1046.6 328.2h1.2M1049.8 326.5h1.2M1047.5 330.3h1.2M1051.1 327.9h1.2M1071.1 328.2h1.2M1071.3 328.3h1.2M1080.1 326.6h1.2M1080.1 326.4h1.2M1079.6 324.4h1.2M1096.0 324.9h1.2M1095.7 325.9h1.2M1095.8 326.9h1.2M1102.4 327.7h1.2M1102.2 327.0h1.2" stroke="#260cde" stroke-width="1.25" stroke-opacity=".9" fill="none"/>
<path d="M1096.1 330.3V367.5" stroke="#7d78f5" stroke-width="1.4" stroke-opacity=".85" fill="none"/>
<path d="M1080.8 350.8h1.2M1080.6 349.0h1.2M1079.2 347.0h1.2M1078.1 346.5h1.2M1078.7 346.2h1.2M1079.7 349.4h1.2M1077.3 350.5h1.2M1080.0 349.7h1.2M1079.8 350.7h1.2M1081.8 346.6h1.2M1080.8 347.5h1.2M1082.4 348.1h1.2M1092.5 346.1h1.2M1096.3 346.6h1.2M1092.7 351.5h1.2M1091.7 348.4h1.2M1093.6 350.0h1.2M1095.3 351.8h1.2M1106.9 346.9h1.2M1105.8 346.5h1.2M1106.4 349.5h1.2M1113.2 347.0h1.2M1106.3 350.8h1.2M1109.9 348.4h1.2M1104.2 346.8h1.2M1105.8 349.5h1.2M1104.0 348.9h1.2M1112.4 346.5h1.2M1106.6 348.5h1.2M1110.1 350.1h1.2M1110.9 348.6h1.2M1107.1 349.5h1.2" stroke="#260cde" stroke-width="1.25" stroke-opacity=".9" fill="none"/>
</svg>
<p class="t" style="left:822.9px;top:376.5px;font-size:26.8px">Prevalence and abundance</p>
</section>
<section id="population">
<h2 class="t" style="left:388.9px;top:477.5px;font-size:31.2px">Population structure</h2>
<svg id="pca-plot" width="1600" height="900" viewBox="0 0 1600 900">
<rect x="398.4" y="532.3" width="241.4" height="257.2" fill="#fff"/>
<path d="M442.5 534.8V787.0M504.5 534.8V787.0M566.5 534.8V787.0M628.9 534.8V787.0M400.9 545.3H637.3M400.9 614.4H637.3M400.9 683.4H637.3M400.9 752.5H637.3" stroke="#f3f3f3" stroke-width="1" fill="none"/>
<path d="M411.4 534.8V787.0M473.7 534.8V787.0M535.4 534.8V787.0M598.0 534.8V787.0M400.9 579.9H637.3M400.9 649.3H637.3M400.9 717.9H637.3" stroke="#e9e9e9" stroke-width="1.1" fill="none"/>
<path d="M623.9 669h0M625.4 673.6h0M615.9 661.9h0M627.6 652.9h0M621.8 656.3h0M622.8 664.7h0M619.3 673.4h0M625.8 654.1h0M623.8 653.2h0M618.3 655.5h0M622.7 667.3h0M627.5 657.6h0M620.4 654.2h0M619.6 665.4h0M620.1 657.9h0M626.5 662.3h0M619.8 662.3h0M625 651.5h0M625.6 671.6h0M618.2 669.3h0M622.6 669.8h0M616.8 658.7h0M623.7 673.5h0M622.8 658h0M624.7 675.5h0M617.7 651.2h0M628.3 684.7h0M614.4 696.7h0M610 713.3h0M606.7 721.1h0M602.2 722.2h0M607.8 729.4h0M603.3 733.3h0M601.1 726.7h0M596.7 723.3h0" stroke="#e7e0e0" stroke-width="3.2" stroke-linecap="round" fill="none"/>
<path d="M628.7 644.1h0M621 637.5h0M623.5 650.6h0M621.6 641.6h0M616 643.2h0M617 641.9h0M617.5 651h0M619.5 642.3h0M628.6 642.3h0M622.1 648.4h0M621.9 638.7h0M620.9 635.5h0M628.4 646.2h0M616.7 638.3h0M626 651.5h0M620.4 649.7h0M625.9 647.7h0M624.4 649.1h0M620.4 647.9h0M624.2 645.1h0M618.9 647.1h0M621.7 650.4h0M622.5 644h0M625.3 636h0M626 645.1h0M624.4 641.6h0M621.4 646.7h0M624 633.2h0M618.7 652.3h0M623.3 653.5h0M626.5 641.5h0M623.7 640h0M617 644.8h0M623.8 635.3h0M628.7 628.7h0M628.7 633.9h0M625 617.2h0" stroke="#d4d4d4" stroke-width="3.3" stroke-linecap="round" fill="none"/>
<path d="M591.7 593.6h0M617.2 598.3h0M618.9 603.3h0M623.9 611.1h0M625 618.3h0M622.2 624.4h0M623.9 626.7h0M596.7 600h0M610 599.4h0M620.6 627.8h0" stroke="#9b9b9b" stroke-width="3.2" stroke-linecap="round" fill="none"/>
<path d="M593 606.7h0M576.6 616.2h0M568.6 603.1h0M592.7 615.1h0M587.7 608.1h0M546.7 602.2h0M573.8 612.1h0M573.1 608.8h0M551.7 612.2h0M573.1 602.7h0M568.1 609.2h0M564.4 630.3h0M536.9 598.3h0M584.7 615.5h0M588.6 613.2h0M564.6 605.2h0M591.3 622.1h0M574.5 605.9h0M567.1 616.1h0M576.3 606.2h0M582.5 620.7h0M556.7 612.2h0M566 606.3h0M564.2 611.8h0M570.3 608.6h0M568.6 617.5h0M553.9 606.7h0M586.4 616.6h0M583.1 609.7h0M592.7 620.6h0M578.9 618.5h0M574.7 613.2h0M572.8 614.4h0M562.5 612.4h0M574.8 608.1h0M560.4 603h0M593.6 613.7h0M592.4 612.5h0M560.3 609.5h0M565.4 608.7h0M583.1 622.2h0M580.4 617.2h0M561.6 606.9h0M544.4 605.6h0M594.3 618.4h0M594.8 615.7h0M564.1 614.5h0M585.8 608.4h0M589.1 616.5h0M569.1 613.9h0M586.1 621.3h0M588.7 615.3h0M568.4 615.6h0M563.3 608h0M561.5 609.1h0M574.3 607.1h0M565.2 611.6h0M562.5 608.5h0M543.9 611.7h0M565.4 604h0M573.4 604.6h0M584.5 620.1h0M582.1 609.7h0M575.5 617h0M583.4 620.9h0M564.4 624.4h0M576.7 612.6h0M595.7 616.2h0M572.2 624.4h0M593.4 610.5h0M563.3 601.4h0M576.2 601.8h0M587.6 612.8h0M564.8 610.4h0M581.8 605h0M587.1 605.2h0M573.4 618h0M561.1 605.9h0M559.7 605.5h0M569 604.2h0M587.5 606.6h0M579.5 619.3h0M577.7 621.2h0M589.7 606.9h0M561.7 607.9h0M562.1 600.2h0M571.8 605.4h0M591 611.8h0M570.1 610.2h0M582.3 607.9h0M566.1 600.4h0M569.7 612.1h0M568.4 612.6h0M555 605.3h0M569.7 602.2h0M577.4 607.3h0M576.4 620.7h0M567.3 608.3h0M572.5 610.9h0M571.4 602.9h0M572.7 609.8h0M565.4 609.7h0M566.3 611.8h0M569.3 610.8h0M567 606.4h0M561.1 600.8h0M578.6 608.7h0M572.2 613.6h0M567.3 611h0M581.1 614.9h0M579.6 614.3h0M569.5 615.6h0M562 610.9h0M587.3 620.7h0M590.2 611.2h0M572.7 615.8h0M561.8 602.4h0M575.3 606.4h0M573.3 603.7h0M585.5 614.5h0M578.8 607.5h0M579.9 608h0" stroke="#8b4a6c" stroke-width="3.1" stroke-linecap="round" fill="none"/>
<path d="M461.5 563.5l2.1 2.1l-2.1 2.1l-2.1 -2.1zM496.4 553.7l2.1 2.1l-2.1 2.1l-2.1 -2.1zM494 557.5l2.1 2.1l-2.1 2.1l-2.1 -2.1zM493.3 564.1l2.1 2.1l-2.1 2.1l-2.1 -2.1zM498.1 565.4l2.1 2.1l-2.1 2.1l-2.1 -2.1zM487 567l2.1 2.1l-2.1 2.1l-2.1 -2.1zM485.2 569.2l2.1 2.1l-2.1 2.1l-2.1 -2.1zM480.7 580l2.1 2.1l-2.1 2.1l-2.1 -2.1zM511.9 556.5l2.1 2.1l-2.1 2.1l-2.1 -2.1zM518.9 558.9l2.1 2.1l-2.1 2.1l-2.1 -2.1zM521.3 561.8l2.1 2.1l-2.1 2.1l-2.1 -2.1zM519.3 566.9l2.1 2.1l-2.1 2.1l-2.1 -2.1zM526.2 567.5l2.1 2.1l-2.1 2.1l-2.1 -2.1zM534.6 575.7l2.1 2.1l-2.1 2.1l-2.1 -2.1z" fill="#b5701c"/>
<path d="M552.2 578.7l2.1 2.1l-2.1 2.1l-2.1 -2.1zM568.9 582.7l2.1 2.1l-2.1 2.1l-2.1 -2.1z" fill="#12a028"/>
<path d="M588.3 619.2h0M572.3 606.9h0M560 611.3h0M574.2 603.3h0M591.9 610.9h0M578 613.5h0M567.2 601.3h0M536.7 596.7h0M589.6 621.5h0M564.3 603.2h0M587.5 616.7h0M590.2 614.9h0M564.5 606.3h0M572.7 601.8h0M562.2 604.1h0M581.1 613.1h0M569.7 607.5h0M587.2 615.4h0M584.4 611.9h0M568.1 606.1h0M587.8 621.8h0M530.6 602h0M560.8 604.4h0M581.2 605.7h0M574.4 622.2h0M588.3 605.3h0M585.7 606.8h0M578.2 602.6h0M559.5 602.2h0M578.7 603.5h0M569.2 601.3h0M564.3 601.7h0M581.6 610.8h0M575.3 619h0M584.8 616.9h0M574.4 611.5h0M558.9 614.4h0M582.2 618.6h0M586.6 618.9h0M557.8 621.7h0M575 610h0M537.2 608.3h0M569.9 603.4h0M570 605.8h0M570.1 600.7h0M568.3 625h0M590.2 620.4h0M576.1 608.1h0M590.3 622.3h0M564.2 613.4h0M580.7 619.2h0M560.7 611h0M572.5 612.1h0M566.9 602.2h0M567.6 613h0M585 609.8h0M562.8 606.9h0M559.8 608.7h0M562.8 613.7h0M551.1 601.7h0M567.3 607.4h0M566.3 610.3h0M583.1 613.9h0M586.9 613.6h0M590.9 614.2h0M586.7 608.9h0M589.2 609.8h0M584.1 621.9h0M583.2 641h0M614.4 638.6h0M580.4 640.3h0M611.9 637.6h0M585.6 646.2h0M594.6 632.8h0M591.8 638.9h0M611.9 641.5h0M593.3 635.7h0M604.2 635.1h0M592 645.2h0M598 632.7h0M580.1 643.9h0M578.6 631.8h0M591 642.4h0M596.9 635h0M586.9 631h0M605.1 636.7h0M597.4 642.8h0M592.8 647.5h0M585.9 647.5h0M577 638.4h0M576.8 643.1h0M604.8 644.6h0M600.5 638.4h0M608.3 643.5h0M586.2 644.6h0M593.6 644.2h0M598.4 645.9h0M578.2 639.9h0M605.4 646.7h0M573 640.7h0M592.4 632.4h0M588.2 642.9h0M581.3 635.5h0M597 644.9h0M593.5 638.7h0M584.7 644.7h0M587.7 641.9h0M604.8 638.9h0M582.7 646.8h0M575.8 639.2h0M590.6 646.1h0M592.3 640.4h0M572.2 645.9h0M605.2 642.5h0M608.2 642.3h0M602.9 647h0M580.1 631.3h0M586.2 632h0M590.2 636h0M603.5 637.8h0M610.9 643.8h0M580.8 638.1h0" stroke="#8b4a6c" stroke-width="3.1" stroke-linecap="round" fill="none"/>
<path d="M533 580l2.1 2.1l-2.1 2.1l-2.1 -2.1zM534.7 575.6l2.1 2.1l-2.1 2.1l-2.1 -2.1zM533.1 579.9l2.1 2.1l-2.1 2.1l-2.1 -2.1zM547.2 579l2.1 2.1l-2.1 2.1l-2.1 -2.1zM543.3 585.6l2.1 2.1l-2.1 2.1l-2.1 -2.1zM546.7 584.3l2.1 2.1l-2.1 2.1l-2.1 -2.1zM562.2 580.1l2.1 2.1l-2.1 2.1l-2.1 -2.1zM569.4 586.7l2.1 2.1l-2.1 2.1l-2.1 -2.1zM574.4 591.2l2.1 2.1l-2.1 2.1l-2.1 -2.1zM581.1 587.9l2.1 2.1l-2.1 2.1l-2.1 -2.1zM578.9 592.9l2.1 2.1l-2.1 2.1l-2.1 -2.1zM567.2 593.2l2.1 2.1l-2.1 2.1l-2.1 -2.1zM561.7 595.1l2.1 2.1l-2.1 2.1l-2.1 -2.1zM563.9 599.5l2.1 2.1l-2.1 2.1l-2.1 -2.1z" fill="#b5701c"/>
<path d="M552.2 591.8l2.1 2.1l-2.1 2.1l-2.1 -2.1zM582.8 619.6l2.1 2.1l-2.1 2.1l-2.1 -2.1z" fill="#12a028"/>
<path d="M572.3 639.1h0M611.9 645.9h0M589.6 643.2h0M600.4 647.7h0M602.8 638.9h0M579.6 636.5h0M582.2 643.6h0M594.8 646.8h0M598 637.2h0M577.5 635.8h0M590 632.1h0M574.7 633h0M591.2 648.4h0M598.1 640.7h0M578.7 638.5h0M595 634.4h0M600.7 641.9h0M575.3 644.6h0M609.2 645.6h0M584.9 643.6h0M576.6 640.4h0M574.8 642.8h0M611.8 642.7h0M591.1 631.4h0M601.1 634.9h0M584 631.8h0M584.6 648.6h0M586.5 648.9h0M575 636.8h0M609.4 636.6h0M601.6 639.1h0M593.4 636.9h0M596.4 639h0M589.1 638.5h0M590.9 644.7h0M599 635.7h0M591.4 633.2h0M592.2 636.4h0M610.5 637.4h0M576.9 644.9h0M583.5 633.5h0M591.4 610.7h0M600.6 616h0M586.5 604.4h0M609 622.4h0M584.7 617.8h0M599 617.9h0M612.5 625.8h0M587.4 613.1h0M600.3 608h0M595.5 611.2h0M607.7 609.7h0M579.6 608.9h0M584.9 605.2h0M605.7 629.9h0M609.7 625.9h0M585.2 608.2h0M581.9 624.1h0M587.3 627.9h0M610.4 624.4h0M598 614.4h0M598.6 611.5h0M576 610.8h0M593.8 606.8h0M577.8 610.5h0M595 627.5h0M605.9 620.4h0M588 614.7h0M587.8 621.7h0M586.9 607.7h0M587.2 609.9h0M583.1 622.5h0M605.3 609.3h0M613.3 606.8h0M599.4 623.7h0M605.4 617.4h0M611.2 621.5h0M582.3 616.8h0M597.5 606.1h0M605.8 613.3h0M594.5 618.4h0M609.9 612.1h0M598.1 620.8h0M602.1 612.4h0M586.2 616.9h0M599.8 622h0M580.1 616.2h0M598.1 609h0M591.3 629.6h0M577.8 613.5h0M603.8 621.4h0M593.1 610.8h0M580.8 622.6h0M597.1 625.6h0M614.8 621h0M576.3 617.9h0M603.3 614h0M602.7 630.1h0M604.3 623.8h0M596.6 624.2h0M606.8 616.9h0M620.9 631h0M607.9 634.3h0M617.5 633.5h0M612.5 635.2h0M619.3 627.3h0M611.4 633.1h0M602.5 630.8h0M617.1 629.6h0M615.2 633.3h0M607 629.2h0M618.3 628.5h0M614.4 631.4h0M603.6 632h0M606.8 627.3h0M617.7 626.8h0M610.4 634.9h0M616.2 634.6h0M607.6 631.2h0M612.8 629.3h0M612.1 631.1h0M611.1 629.3h0M610 626.8h0" stroke="#8b4a6c" stroke-width="3.1" stroke-linecap="round" fill="none"/>
<path d="M587.8 593.2l2.1 2.1l-2.1 2.1l-2.1 -2.1zM596.1 591.2l2.1 2.1l-2.1 2.1l-2.1 -2.1zM592.8 596.2l2.1 2.1l-2.1 2.1l-2.1 -2.1zM583.3 597.3l2.1 2.1l-2.1 2.1l-2.1 -2.1zM579.4 598.4l2.1 2.1l-2.1 2.1l-2.1 -2.1zM575.6 602.9l2.1 2.1l-2.1 2.1l-2.1 -2.1zM585 601.7l2.1 2.1l-2.1 2.1l-2.1 -2.1zM588.9 608.4l2.1 2.1l-2.1 2.1l-2.1 -2.1zM568.9 615.6l2.1 2.1l-2.1 2.1l-2.1 -2.1zM578.9 620.1l2.1 2.1l-2.1 2.1l-2.1 -2.1zM602.8 607.9l2.1 2.1l-2.1 2.1l-2.1 -2.1zM622.2 611.2l2.1 2.1l-2.1 2.1l-2.1 -2.1zM613.9 625.6l2.1 2.1l-2.1 2.1l-2.1 -2.1zM607.8 603.4l2.1 2.1l-2.1 2.1l-2.1 -2.1z" fill="#b5701c"/>
<path d="M576.9 569.3h4v4h-4zM558 573.6h4v4h-4zM552.4 577.1h4v4h-4zM562.2 577.1h4v4h-4zM571.3 577.4h4v4h-4zM550.8 582.2h4v4h-4zM565.8 581.3h4v4h-4zM570.8 585.8h4v4h-4zM559.1 587.1h4v4h-4zM555.2 589.1h4v4h-4zM569.7 589.7h4v4h-4zM581.3 589.7h4v4h-4zM554.7 597.4h4v4h-4zM576.9 594.7h4v4h-4zM582.1 607.8h4v4h-4zM595.2 622.4h4v4h-4zM584.7 630.8h4v4h-4zM577.4 630.2h4v4h-4zM573 612.4h4v4h-4zM605.8 601.9h4v4h-4z" fill="#9c1a0c"/>
<path d="M592.6 623.1l2.1 2.1l-2.1 2.1l-2.1 -2.1zM615 644.3l2.1 2.1l-2.1 2.1l-2.1 -2.1z" fill="#12a028"/>
<path d="M565.3 605.3h4.6v4.6h-4.6z" fill="#2a9d5c"/>
<path d="M551.3 595.8l2 2l-2 2l-2 -2z" fill="#1f8fb0"/>
<path d="M590.3 605.2l2 2l-2 2l-2 -2zM576.1 609.3l2 2l-2 2l-2 -2z" fill="#f0487a"/>
<path d="M605.2 616.2h4.2v4.2h-4.2zM607.4 621.9h4.2v4.2h-4.2zM600.9 610.2h4.2v4.2h-4.2zM593 605.1h4.2v4.2h-4.2zM591.9 615h4.2v4.2h-4.2zM599.2 598.8h4.2v4.2h-4.2zM603.3 607.3h4.2v4.2h-4.2zM609.1 598h4.2v4.2h-4.2zM616.7 631.9h4.2v4.2h-4.2zM607 598.2h4.2v4.2h-4.2zM604 604.2h4.2v4.2h-4.2zM600.9 603.1h4.2v4.2h-4.2zM617.2 615h4.2v4.2h-4.2zM612.2 601.3h4.2v4.2h-4.2zM614.5 631.8h4.2v4.2h-4.2zM609.7 599h4.2v4.2h-4.2zM590.5 621.2h4.2v4.2h-4.2zM617.5 622.2h4.2v4.2h-4.2zM593.3 602.8h4.2v4.2h-4.2zM588.1 615.9h4.2v4.2h-4.2zM594.5 606.4h4.2v4.2h-4.2zM604.1 624.9h4.2v4.2h-4.2zM610.8 619.7h4.2v4.2h-4.2zM598.9 623.8h4.2v4.2h-4.2zM596.9 603.6h4.2v4.2h-4.2zM619.3 609.5h4.2v4.2h-4.2zM596.2 606.9h4.2v4.2h-4.2zM612.1 615h4.2v4.2h-4.2zM598.2 604.7h4.2v4.2h-4.2zM605.9 609.9h4.2v4.2h-4.2zM591.3 607.8h4.2v4.2h-4.2zM599.4 622.2h4.2v4.2h-4.2zM597.3 626.4h4.2v4.2h-4.2zM618.5 619.9h4.2v4.2h-4.2zM603.8 626.3h4.2v4.2h-4.2zM609.1 603.6h4.2v4.2h-4.2zM596.4 602.2h4.2v4.2h-4.2zM607.3 609.9h4.2v4.2h-4.2zM597.2 622h4.2v4.2h-4.2zM586.4 618.4h4.2v4.2h-4.2zM606.1 607.2h4.2v4.2h-4.2zM616.7 619.5h4.2v4.2h-4.2zM609 601.5h4.2v4.2h-4.2zM614.2 607.2h4.2v4.2h-4.2zM605 624.3h4.2v4.2h-4.2zM592.3 606.3h4.2v4.2h-4.2zM606.7 614.2h4.2v4.2h-4.2zM602.6 621.2h4.2v4.2h-4.2zM583.1 618.4h4.2v4.2h-4.2zM605.2 628.7h4.2v4.2h-4.2zM620.9 615.2h4.2v4.2h-4.2zM596.6 614.2h4.2v4.2h-4.2zM594.4 625.2h4.2v4.2h-4.2zM603.2 600.9h4.2v4.2h-4.2zM619.5 616.3h4.2v4.2h-4.2zM610.7 617.1h4.2v4.2h-4.2zM603.8 618.2h4.2v4.2h-4.2zM609.9 609.6h4.2v4.2h-4.2zM610.6 625.3h4.2v4.2h-4.2zM595.1 601.3h4.2v4.2h-4.2zM611.1 604.4h4.2v4.2h-4.2zM597.2 618.3h4.2v4.2h-4.2zM591.5 605h4.2v4.2h-4.2z" fill="#f58b2c"/>
<path d="M602 619.4h4.2v4.2h-4.2zM599.9 621h4.2v4.2h-4.2zM605.5 611.8h4.2v4.2h-4.2zM589.9 622.2h4.2v4.2h-4.2zM599.5 627.3h4.2v4.2h-4.2zM592.5 609.6h4.2v4.2h-4.2zM610.8 622.1h4.2v4.2h-4.2zM615.4 629.7h4.2v4.2h-4.2zM592.6 621.6h4.2v4.2h-4.2zM593 611.1h4.2v4.2h-4.2zM619.3 615.2h4.2v4.2h-4.2zM610.9 609.4h4.2v4.2h-4.2zM588.9 610.3h4.2v4.2h-4.2zM617.4 629.9h4.2v4.2h-4.2zM607.7 606.4h4.2v4.2h-4.2zM609.9 630.7h4.2v4.2h-4.2zM603.9 601.9h4.2v4.2h-4.2zM587.2 620.3h4.2v4.2h-4.2zM592.1 618.4h4.2v4.2h-4.2zM601.1 626.3h4.2v4.2h-4.2zM602.7 627.6h4.2v4.2h-4.2zM615.7 628h4.2v4.2h-4.2zM608.6 610.6h4.2v4.2h-4.2zM609 614.2h4.2v4.2h-4.2zM590.1 610.1h4.2v4.2h-4.2zM618.7 613.9h4.2v4.2h-4.2zM595.1 614.3h4.2v4.2h-4.2zM588 617h4.2v4.2h-4.2zM620.6 610h4.2v4.2h-4.2zM614.4 633.4h4.2v4.2h-4.2zM589.2 609h4.2v4.2h-4.2zM585.6 622.1h4.2v4.2h-4.2zM600.9 607.3h4.2v4.2h-4.2zM598.4 616.9h4.2v4.2h-4.2zM608.9 612.6h4.2v4.2h-4.2zM596.4 610.3h4.2v4.2h-4.2zM608 619.2h4.2v4.2h-4.2zM598.2 615.1h4.2v4.2h-4.2zM618.9 617.3h4.2v4.2h-4.2zM604.2 608h4.2v4.2h-4.2zM602.5 606h4.2v4.2h-4.2zM610.5 603.6h4.2v4.2h-4.2zM585.6 619.9h4.2v4.2h-4.2zM606.4 629.7h4.2v4.2h-4.2zM609.7 624.1h4.2v4.2h-4.2zM590 612.3h4.2v4.2h-4.2zM594.8 611.2h4.2v4.2h-4.2zM617.7 612.9h4.2v4.2h-4.2zM612.8 620.3h4.2v4.2h-4.2zM604.6 606.8h4.2v4.2h-4.2zM593.3 615.6h4.2v4.2h-4.2zM581.2 621.2h4.2v4.2h-4.2zM604.1 610.9h4.2v4.2h-4.2zM602.5 617.4h4.2v4.2h-4.2zM586 616.8h4.2v4.2h-4.2zM599.8 603.8h4.2v4.2h-4.2zM606 608.8h4.2v4.2h-4.2zM588.7 620.3h4.2v4.2h-4.2zM602.2 607.6h4.2v4.2h-4.2zM598.7 611.7h4.2v4.2h-4.2zM594.5 616.7h4.2v4.2h-4.2zM588.9 605.6h4.2v4.2h-4.2zM599.6 613.4h4.2v4.2h-4.2zM594.4 603.7h4.2v4.2h-4.2z" fill="#f58b2c"/>
<path d="M611.8 633.6h4.2v4.2h-4.2zM604.1 630.3h4.2v4.2h-4.2zM607 601.3h4.2v4.2h-4.2zM597.5 623.1h4.2v4.2h-4.2zM608.6 633.9h4.2v4.2h-4.2zM612.1 623.5h4.2v4.2h-4.2zM597.4 620.3h4.2v4.2h-4.2zM618.3 615.3h4.2v4.2h-4.2zM592.5 614.1h4.2v4.2h-4.2zM584.3 621.8h4.2v4.2h-4.2zM613.7 609.4h4.2v4.2h-4.2zM581.5 620.1h4.2v4.2h-4.2zM602 629h4.2v4.2h-4.2zM595.3 603.2h4.2v4.2h-4.2zM613 618.2h4.2v4.2h-4.2zM590.7 616.6h4.2v4.2h-4.2zM612 611h4.2v4.2h-4.2zM621.3 612.1h4.2v4.2h-4.2zM615.1 605.5h4.2v4.2h-4.2zM584.7 619.3h4.2v4.2h-4.2zM606.2 615.8h4.2v4.2h-4.2zM594 611.8h4.2v4.2h-4.2zM600.3 624.8h4.2v4.2h-4.2zM610.8 601.8h4.2v4.2h-4.2zM613.8 603.9h4.2v4.2h-4.2zM595 624.2h4.2v4.2h-4.2zM591.1 613.2h4.2v4.2h-4.2zM587 612.9h4.2v4.2h-4.2zM599.6 615.2h4.2v4.2h-4.2zM601.3 604.6h4.2v4.2h-4.2zM605.4 615h4.2v4.2h-4.2zM599.5 606.4h4.2v4.2h-4.2zM614.3 611.7h4.2v4.2h-4.2zM606.2 623.3h4.2v4.2h-4.2zM593.7 619.1h4.2v4.2h-4.2zM612.1 626.1h4.2v4.2h-4.2zM607.8 617.7h4.2v4.2h-4.2zM608.1 629.3h4.2v4.2h-4.2zM593.2 622.7h4.2v4.2h-4.2zM591.1 623.8h4.2v4.2h-4.2zM583.5 617.1h4.2v4.2h-4.2zM597.2 605.3h4.2v4.2h-4.2zM616.9 612.2h4.2v4.2h-4.2zM614.8 603h4.2v4.2h-4.2zM592 600.7h4.2v4.2h-4.2zM586.9 614.6h4.2v4.2h-4.2zM608.1 615.6h4.2v4.2h-4.2zM613.3 615.6h4.2v4.2h-4.2zM586.8 621.8h4.2v4.2h-4.2zM590.1 604.3h4.2v4.2h-4.2zM594.3 613.6h4.2v4.2h-4.2zM595.9 618.4h4.2v4.2h-4.2zM593.4 620.6h4.2v4.2h-4.2zM611.4 627.2h4.2v4.2h-4.2zM614.7 627h4.2v4.2h-4.2zM612.5 603.5h4.2v4.2h-4.2zM588.6 618.9h4.2v4.2h-4.2zM603.4 616.4h4.2v4.2h-4.2zM592.3 635.7h4.2v4.2h-4.2zM596.8 637.3h4.2v4.2h-4.2zM605.7 637.3h4.2v4.2h-4.2zM610.1 639h4.2v4.2h-4.2zM612.3 649h4.2v4.2h-4.2zM612.3 645.7h4.2v4.2h-4.2z" fill="#f58b2c"/>
<path d="M626.7 608.9h4v4h-4z" fill="#f9a24c"/>
<path d="M617.8 608.9h0M610 610h0M605.6 622.2h0M612.8 615.6h0M597.8 616.1h0M607.8 630h0M603.3 630h0M596.7 622.2h0M593.9 618.9h0M601.1 606.7h0M606.7 603.3h0M615.6 624.4h0M611.7 632.2h0M592.2 613.9h0" stroke="#8b4a6c" stroke-width="3" stroke-linecap="round" fill="none"/>
<path d="M602.8 608l2 2l-2 2l-2 -2zM622.2 611.3l2 2l-2 2l-2 -2zM613.9 625.8l2 2l-2 2l-2 -2zM606.7 602.4l2 2l-2 2l-2 -2z" fill="#b5701c"/>
<path d="M602.2 593.6h4v4h-4zM601.3 601.3h4v4h-4zM598.6 611.3h4v4h-4zM612.4 615.8h4v4h-4zM597.8 619.7h4v4h-4zM611.3 637.4h4v4h-4z" fill="#1c1c2c"/>
<path d="M576.7 629.4h0M580.6 627.2h0M585.6 630h0M578.9 636.7h0M572.2 645.6h0M587.8 640h0M592.2 638.9h0M574.4 655h0M588.9 656.1h0M580.6 629.4h0M577.8 637.2h0M572.8 655h0M590 641.1h0M596.7 654.4h0M605.6 642.2h0M593.4 653.9h0M603.7 664.1h0M606.3 647.7h0M571.8 652.4h0M571.1 657.9h0M590.3 661.6h0M605.2 661.1h0" stroke="#1018e6" stroke-width="3.2" stroke-linecap="round" fill="none"/>
<path d="M554.7 632.6l2 2l-2 2l-2 -2zM558.3 652.6l2 2l-2 2l-2 -2zM567.2 650.2l2 2l-2 2l-2 -2zM568.3 658.5l2 2l-2 2l-2 -2zM568.9 663.5l2 2l-2 2l-2 -2zM559.4 666.8l2 2l-2 2l-2 -2zM578.9 650.2l2 2l-2 2l-2 -2zM584.4 650.7l2 2l-2 2l-2 -2zM590 652.4l2 2l-2 2l-2 -2zM581.1 655.7l2 2l-2 2l-2 -2zM585.6 658l2 2l-2 2l-2 -2zM575 673.8l2 2l-2 2l-2 -2zM581.7 658.2l2 2l-2 2l-2 -2zM575.9 650.2l2 2l-2 2l-2 -2zM576.1 678.2l2 2l-2 2l-2 -2zM575.6 665l2 2l-2 2l-2 -2zM568 674.1l2 2l-2 2l-2 -2zM576.6 662.1l2 2l-2 2l-2 -2zM588.9 658.8l2 2l-2 2l-2 -2zM564.9 671.5l2 2l-2 2l-2 -2zM587.6 649.9l2 2l-2 2l-2 -2zM574.1 680.4l2 2l-2 2l-2 -2zM579.8 662.9l2 2l-2 2l-2 -2zM574 661.4l2 2l-2 2l-2 -2zM572.6 656.2l2 2l-2 2l-2 -2zM569.4 649.1l2 2l-2 2l-2 -2zM578.1 676.4l2 2l-2 2l-2 -2zM564.7 666l2 2l-2 2l-2 -2zM566.8 676.8l2 2l-2 2l-2 -2zM580.6 653.1l2 2l-2 2l-2 -2zM593 658.4l2 2l-2 2l-2 -2zM587.7 666.1l2 2l-2 2l-2 -2zM570.5 666l2 2l-2 2l-2 -2zM577.1 653.7l2 2l-2 2l-2 -2zM581 667.5l2 2l-2 2l-2 -2zM586.3 660.4l2 2l-2 2l-2 -2zM583.4 655.2l2 2l-2 2l-2 -2zM580.2 656.7l2 2l-2 2l-2 -2zM589.3 654.9l2 2l-2 2l-2 -2zM572.2 650.5l2 2l-2 2l-2 -2zM572.5 667.8l2 2l-2 2l-2 -2zM570.1 652.4l2 2l-2 2l-2 -2zM569.7 662.6l2 2l-2 2l-2 -2zM573.8 666.3l2 2l-2 2l-2 -2zM564.2 673l2 2l-2 2l-2 -2z" fill="#e8305c"/>
<path d="M601.6 670l2 2l-2 2l-2 -2zM603.4 659.7l2 2l-2 2l-2 -2zM586.7 667.9l2 2l-2 2l-2 -2zM587.2 657.6l2 2l-2 2l-2 -2zM606 654l2 2l-2 2l-2 -2zM599 651.5l2 2l-2 2l-2 -2zM584.9 654.4l2 2l-2 2l-2 -2zM614.9 661.7l2 2l-2 2l-2 -2zM608.8 664.6l2 2l-2 2l-2 -2zM612.5 667.9l2 2l-2 2l-2 -2zM602.2 679.3l2 2l-2 2l-2 -2zM607.7 652.6l2 2l-2 2l-2 -2zM607.9 655l2 2l-2 2l-2 -2zM588.6 667l2 2l-2 2l-2 -2zM603.6 671.7l2 2l-2 2l-2 -2zM590 650.7l2 2l-2 2l-2 -2zM585.9 662.9l2 2l-2 2l-2 -2zM587.6 650.7l2 2l-2 2l-2 -2zM613.3 668.7l2 2l-2 2l-2 -2zM607.5 657.5l2 2l-2 2l-2 -2zM605.3 677.4l2 2l-2 2l-2 -2zM609.3 660.9l2 2l-2 2l-2 -2zM599.8 660.7l2 2l-2 2l-2 -2zM585.4 656l2 2l-2 2l-2 -2zM597.3 651.9l2 2l-2 2l-2 -2zM605 659.2l2 2l-2 2l-2 -2zM607.6 653.7l2 2l-2 2l-2 -2zM615.2 663.7l2 2l-2 2l-2 -2zM583.6 663.4l2 2l-2 2l-2 -2zM587.9 663.8l2 2l-2 2l-2 -2zM601.5 664.3l2 2l-2 2l-2 -2zM607.4 664.9l2 2l-2 2l-2 -2zM603.9 651.2l2 2l-2 2l-2 -2zM615.1 655.9l2 2l-2 2l-2 -2zM598.4 655.2l2 2l-2 2l-2 -2zM603.3 656.6l2 2l-2 2l-2 -2zM584.3 649.8l2 2l-2 2l-2 -2zM609.9 663.2l2 2l-2 2l-2 -2zM587.6 665.3l2 2l-2 2l-2 -2zM599.2 664l2 2l-2 2l-2 -2zM603.2 680.8l2 2l-2 2l-2 -2zM598.5 680.3l2 2l-2 2l-2 -2zM612.3 648.6l2 2l-2 2l-2 -2zM584.6 667.6l2 2l-2 2l-2 -2zM581.8 659.3l2 2l-2 2l-2 -2zM601.3 654.4l2 2l-2 2l-2 -2zM590.1 666.6l2 2l-2 2l-2 -2zM588.1 677l2 2l-2 2l-2 -2zM588.3 649.8l2 2l-2 2l-2 -2zM606.7 668.9l2 2l-2 2l-2 -2zM613.3 666.1l2 2l-2 2l-2 -2zM596.1 653.8l2 2l-2 2l-2 -2zM585.2 658.8l2 2l-2 2l-2 -2zM602.5 659.8l2 2l-2 2l-2 -2zM592.4 663.2l2 2l-2 2l-2 -2zM598.8 676.1l2 2l-2 2l-2 -2z" fill="#2090b2"/>
<path d="M601.1 646.7l2.1 2.1l-2.1 2.1l-2.1 -2.1zM606.7 646.7l2.1 2.1l-2.1 2.1l-2.1 -2.1zM595.6 656.7l2.1 2.1l-2.1 2.1l-2.1 -2.1zM601.1 660.1l2.1 2.1l-2.1 2.1l-2.1 -2.1zM592.2 662.3l2.1 2.1l-2.1 2.1l-2.1 -2.1zM596.4 668l2.1 2.1l-2.1 2.1l-2.1 -2.1zM609.3 667.9l2.1 2.1l-2.1 2.1l-2.1 -2.1zM598.7 659.2l2.1 2.1l-2.1 2.1l-2.1 -2.1zM600 661.4l2.1 2.1l-2.1 2.1l-2.1 -2.1zM595.9 656.9l2.1 2.1l-2.1 2.1l-2.1 -2.1zM592.5 660.1l2.1 2.1l-2.1 2.1l-2.1 -2.1zM600.8 667.1l2.1 2.1l-2.1 2.1l-2.1 -2.1zM599.9 669.5l2.1 2.1l-2.1 2.1l-2.1 -2.1zM596.7 660.3l2.1 2.1l-2.1 2.1l-2.1 -2.1zM593.2 667l2.1 2.1l-2.1 2.1l-2.1 -2.1zM598.5 666.4l2.1 2.1l-2.1 2.1l-2.1 -2.1zM591.4 665.1l2.1 2.1l-2.1 2.1l-2.1 -2.1zM597.2 664.4l2.1 2.1l-2.1 2.1l-2.1 -2.1zM604.8 662.6l2.1 2.1l-2.1 2.1l-2.1 -2.1zM604.1 659.5l2.1 2.1l-2.1 2.1l-2.1 -2.1zM607.5 662.8l2.1 2.1l-2.1 2.1l-2.1 -2.1zM615.6 676.2l2.1 2.1l-2.1 2.1l-2.1 -2.1zM565 679.5l2.1 2.1l-2.1 2.1l-2.1 -2.1zM606.7 721.7l2.1 2.1l-2.1 2.1l-2.1 -2.1zM600 716.2l2.1 2.1l-2.1 2.1l-2.1 -2.1zM613.3 665.6l2.1 2.1l-2.1 2.1l-2.1 -2.1zM611.7 671.7l2.1 2.1l-2.1 2.1l-2.1 -2.1zM604.8 689.4l2.1 2.1l-2.1 2.1l-2.1 -2.1zM598.9 700.8l2.1 2.1l-2.1 2.1l-2.1 -2.1zM583.1 702.1l2.1 2.1l-2.1 2.1l-2.1 -2.1zM602.4 706.5l2.1 2.1l-2.1 2.1l-2.1 -2.1zM600.6 689.2l2.1 2.1l-2.1 2.1l-2.1 -2.1zM596.7 695.3l2.1 2.1l-2.1 2.1l-2.1 -2.1zM604.3 698.4l2.1 2.1l-2.1 2.1l-2.1 -2.1zM591.4 701.9l2.1 2.1l-2.1 2.1l-2.1 -2.1zM601.6 699.5l2.1 2.1l-2.1 2.1l-2.1 -2.1zM590.3 700.4l2.1 2.1l-2.1 2.1l-2.1 -2.1zM595.8 684.2l2.1 2.1l-2.1 2.1l-2.1 -2.1zM587.5 685.4l2.1 2.1l-2.1 2.1l-2.1 -2.1zM600.4 694.9l2.1 2.1l-2.1 2.1l-2.1 -2.1zM597.2 704.2l2.1 2.1l-2.1 2.1l-2.1 -2.1zM585.2 702.5l2.1 2.1l-2.1 2.1l-2.1 -2.1zM599.4 702.8l2.1 2.1l-2.1 2.1l-2.1 -2.1z" fill="#cdf458"/>
<path d="M618.1 655l2 2l-2 2l-2 -2zM618.3 654.8l2 2l-2 2l-2 -2zM587.8 674.6l2 2l-2 2l-2 -2zM593.3 676.3l2 2l-2 2l-2 -2zM598.9 678l2 2l-2 2l-2 -2zM588.3 683.7l2 2l-2 2l-2 -2zM595.6 686.8l2 2l-2 2l-2 -2zM607.8 693l2 2l-2 2l-2 -2zM588.3 693l2 2l-2 2l-2 -2zM605.6 699.1l2 2l-2 2l-2 -2zM593.3 700.7l2 2l-2 2l-2 -2zM593.9 703.5l2 2l-2 2l-2 -2zM590 706.3l2 2l-2 2l-2 -2zM590.6 711.8l2 2l-2 2l-2 -2zM595 710.2l2 2l-2 2l-2 -2zM605 713l2 2l-2 2l-2 -2zM587.8 721.3l2 2l-2 2l-2 -2zM597.2 724.6l2 2l-2 2l-2 -2zM586.7 727.4l2 2l-2 2l-2 -2zM582.8 730.2l2 2l-2 2l-2 -2zM597.8 729.6l2 2l-2 2l-2 -2z" fill="#ff1414"/>
<path d="M599.3 647.8h0M600.7 658h0M579.2 665.6h0M590 654.4h0M605.6 654h0M594.7 652.1h0M580 663.3h0M573.4 651.3h0M584.4 644.7h0M602.7 656.1h0M608.9 643.1h0M586.1 657.2h0M602.6 650.9h0M577.9 649.5h0M594 668.9h0M597.5 664.8h0M605.2 651h0M591.4 664.5h0M600.5 650h0M578 661.1h0M582.3 645.5h0M580.6 659.6h0" stroke="#1018e6" stroke-width="3.2" stroke-linecap="round" fill="none"/>
<path d="M568.3 684l2 2l-2 2l-2 -2zM573.1 658.1l2 2l-2 2l-2 -2zM581.9 655.4l2 2l-2 2l-2 -2zM586.3 665.4l2 2l-2 2l-2 -2zM567.8 669.1l2 2l-2 2l-2 -2zM589.8 660.1l2 2l-2 2l-2 -2zM571.1 670.8l2 2l-2 2l-2 -2zM581.8 649.9l2 2l-2 2l-2 -2zM581.7 677.2l2 2l-2 2l-2 -2zM593.2 649.3l2 2l-2 2l-2 -2zM590.1 664.4l2 2l-2 2l-2 -2zM569.9 654.7l2 2l-2 2l-2 -2zM570.1 668l2 2l-2 2l-2 -2zM579.7 659.3l2 2l-2 2l-2 -2zM591.3 658.3l2 2l-2 2l-2 -2zM589.1 663.1l2 2l-2 2l-2 -2zM567.3 651.7l2 2l-2 2l-2 -2zM586.9 655.8l2 2l-2 2l-2 -2zM566.4 682.9l2 2l-2 2l-2 -2zM578 657.1l2 2l-2 2l-2 -2zM573.1 654.6l2 2l-2 2l-2 -2zM577.3 674l2 2l-2 2l-2 -2zM574 668.5l2 2l-2 2l-2 -2zM563.7 681.8l2 2l-2 2l-2 -2zM588 669.2l2 2l-2 2l-2 -2zM568.5 660.5l2 2l-2 2l-2 -2zM587.9 651.8l2 2l-2 2l-2 -2zM575.4 676.2l2 2l-2 2l-2 -2zM589.9 666.5l2 2l-2 2l-2 -2zM583.3 652.9l2 2l-2 2l-2 -2zM579.5 671.6l2 2l-2 2l-2 -2zM572.9 682.9l2 2l-2 2l-2 -2zM579.7 677.1l2 2l-2 2l-2 -2zM584.3 666.1l2 2l-2 2l-2 -2zM585.9 662l2 2l-2 2l-2 -2zM587.9 672.4l2 2l-2 2l-2 -2zM571.1 676.5l2 2l-2 2l-2 -2zM583.9 649.6l2 2l-2 2l-2 -2zM592.4 655l2 2l-2 2l-2 -2zM563.6 678.5l2 2l-2 2l-2 -2zM592.6 652.2l2 2l-2 2l-2 -2zM584.3 672.6l2 2l-2 2l-2 -2zM567.4 671.1l2 2l-2 2l-2 -2zM576.1 669l2 2l-2 2l-2 -2zM577.8 649.4l2 2l-2 2l-2 -2z" fill="#e8305c"/>
<path d="M588.5 666l2 2l-2 2l-2 -2zM596.5 665.2l2 2l-2 2l-2 -2zM585.7 675.6l2 2l-2 2l-2 -2zM604.5 654.5l2 2l-2 2l-2 -2zM597.4 667.4l2 2l-2 2l-2 -2zM600.2 647.1l2 2l-2 2l-2 -2zM606.4 655.9l2 2l-2 2l-2 -2zM584.1 661l2 2l-2 2l-2 -2zM586.9 653.8l2 2l-2 2l-2 -2zM604.3 657.6l2 2l-2 2l-2 -2zM595.7 648.7l2 2l-2 2l-2 -2zM592.6 646.8l2 2l-2 2l-2 -2zM596.1 663.6l2 2l-2 2l-2 -2zM590.5 661.7l2 2l-2 2l-2 -2zM607.7 665.9l2 2l-2 2l-2 -2zM593.9 662l2 2l-2 2l-2 -2zM605.6 674.3l2 2l-2 2l-2 -2zM614.2 657.5l2 2l-2 2l-2 -2zM594.4 659.1l2 2l-2 2l-2 -2zM609.3 670.7l2 2l-2 2l-2 -2zM586.1 677.3l2 2l-2 2l-2 -2zM599.1 646l2 2l-2 2l-2 -2zM598.8 669.2l2 2l-2 2l-2 -2zM592.9 666.1l2 2l-2 2l-2 -2zM593.6 665.3l2 2l-2 2l-2 -2zM594.6 647.9l2 2l-2 2l-2 -2zM612.8 653.2l2 2l-2 2l-2 -2zM603.3 656.4l2 2l-2 2l-2 -2zM589.7 674.5l2 2l-2 2l-2 -2zM604.6 666.3l2 2l-2 2l-2 -2zM591.7 659l2 2l-2 2l-2 -2zM602.4 655.3l2 2l-2 2l-2 -2zM605.2 649.9l2 2l-2 2l-2 -2zM599.7 644.2l2 2l-2 2l-2 -2zM586.4 671.9l2 2l-2 2l-2 -2zM595.8 652.9l2 2l-2 2l-2 -2zM615.8 653.9l2 2l-2 2l-2 -2zM608.9 662.9l2 2l-2 2l-2 -2zM594.5 670.4l2 2l-2 2l-2 -2zM611.8 672.5l2 2l-2 2l-2 -2zM600.3 673.9l2 2l-2 2l-2 -2zM604.3 662.3l2 2l-2 2l-2 -2zM614.9 671.3l2 2l-2 2l-2 -2zM606.4 675.8l2 2l-2 2l-2 -2zM612.2 677.7l2 2l-2 2l-2 -2zM593.6 657.9l2 2l-2 2l-2 -2zM598.5 659l2 2l-2 2l-2 -2zM612.4 661.5l2 2l-2 2l-2 -2zM611.8 656.1l2 2l-2 2l-2 -2zM594.3 668.2l2 2l-2 2l-2 -2zM583.7 667.1l2 2l-2 2l-2 -2zM593.8 651.8l2 2l-2 2l-2 -2zM595.1 660.9l2 2l-2 2l-2 -2zM612.9 651.7l2 2l-2 2l-2 -2zM606.9 663.2l2 2l-2 2l-2 -2zM600 660.6l2 2l-2 2l-2 -2z" fill="#2090b2"/>
<path d="M592.5 688l2.1 2.1l-2.1 2.1l-2.1 -2.1zM590.5 686l2.1 2.1l-2.1 2.1l-2.1 -2.1zM588 698.7l2.1 2.1l-2.1 2.1l-2.1 -2.1zM584.9 689.4l2.1 2.1l-2.1 2.1l-2.1 -2.1zM588.6 690.2l2.1 2.1l-2.1 2.1l-2.1 -2.1zM599 692.1l2.1 2.1l-2.1 2.1l-2.1 -2.1zM596.1 707.5l2.1 2.1l-2.1 2.1l-2.1 -2.1zM592 684.6l2.1 2.1l-2.1 2.1l-2.1 -2.1zM596.6 693l2.1 2.1l-2.1 2.1l-2.1 -2.1zM596.3 685.9l2.1 2.1l-2.1 2.1l-2.1 -2.1zM590.4 688.3l2.1 2.1l-2.1 2.1l-2.1 -2.1zM594 706.8l2.1 2.1l-2.1 2.1l-2.1 -2.1zM582.8 704.8l2.1 2.1l-2.1 2.1l-2.1 -2.1zM593.7 693.2l2.1 2.1l-2.1 2.1l-2.1 -2.1zM593.3 704.3l2.1 2.1l-2.1 2.1l-2.1 -2.1zM587.2 706.1l2.1 2.1l-2.1 2.1l-2.1 -2.1zM604.9 696.4l2.1 2.1l-2.1 2.1l-2.1 -2.1zM594.3 690.6l2.1 2.1l-2.1 2.1l-2.1 -2.1zM588.8 693.2l2.1 2.1l-2.1 2.1l-2.1 -2.1zM597.6 709.1l2.1 2.1l-2.1 2.1l-2.1 -2.1zM600.2 708.5l2.1 2.1l-2.1 2.1l-2.1 -2.1zM603.3 686.7l2.1 2.1l-2.1 2.1l-2.1 -2.1zM594.3 682.4l2.1 2.1l-2.1 2.1l-2.1 -2.1zM591.3 705.9l2.1 2.1l-2.1 2.1l-2.1 -2.1zM602.1 688.4l2.1 2.1l-2.1 2.1l-2.1 -2.1zM590.9 697.2l2.1 2.1l-2.1 2.1l-2.1 -2.1zM588.6 683.3l2.1 2.1l-2.1 2.1l-2.1 -2.1zM593.8 695.1l2.1 2.1l-2.1 2.1l-2.1 -2.1zM585.9 691.6l2.1 2.1l-2.1 2.1l-2.1 -2.1zM599.5 705.1l2.1 2.1l-2.1 2.1l-2.1 -2.1zM601.9 694.2l2.1 2.1l-2.1 2.1l-2.1 -2.1zM600.1 697.8l2.1 2.1l-2.1 2.1l-2.1 -2.1zM594.3 701.2l2.1 2.1l-2.1 2.1l-2.1 -2.1zM594.1 698.7l2.1 2.1l-2.1 2.1l-2.1 -2.1zM601.8 690.7l2.1 2.1l-2.1 2.1l-2.1 -2.1zM581.4 697l2.1 2.1l-2.1 2.1l-2.1 -2.1zM607 688.8l2.1 2.1l-2.1 2.1l-2.1 -2.1zM597.6 691.1l2.1 2.1l-2.1 2.1l-2.1 -2.1zM584.4 685.7l2.1 2.1l-2.1 2.1l-2.1 -2.1zM582.6 698.7l2.1 2.1l-2.1 2.1l-2.1 -2.1zM585.3 705l2.1 2.1l-2.1 2.1l-2.1 -2.1zM591 681.8l2.1 2.1l-2.1 2.1l-2.1 -2.1zM588.3 704.7l2.1 2.1l-2.1 2.1l-2.1 -2.1z" fill="#cdf458"/>
<path d="M599.8 740l2 2l-2 2l-2 -2zM596.1 742.4l2 2l-2 2l-2 -2zM584.4 744.1l2 2l-2 2l-2 -2zM580.6 724.6l2 2l-2 2l-2 -2zM585.6 689.9l2 2l-2 2l-2 -2zM598.5 723.4l2 2l-2 2l-2 -2zM600.5 727.3l2 2l-2 2l-2 -2zM601.7 705.3l2 2l-2 2l-2 -2zM601.2 725.2l2 2l-2 2l-2 -2zM603.2 724.2l2 2l-2 2l-2 -2zM592.8 737.6l2 2l-2 2l-2 -2zM600.1 707.8l2 2l-2 2l-2 -2zM604.7 697.9l2 2l-2 2l-2 -2zM590.3 715.7l2 2l-2 2l-2 -2zM588.7 680.8l2 2l-2 2l-2 -2zM594.3 698.9l2 2l-2 2l-2 -2zM594.9 702.7l2 2l-2 2l-2 -2zM589.5 730.4l2 2l-2 2l-2 -2zM587.1 711l2 2l-2 2l-2 -2zM592.6 722.1l2 2l-2 2l-2 -2zM594.9 729.1l2 2l-2 2l-2 -2zM606.6 690.2l2 2l-2 2l-2 -2z" fill="#ff1414"/>
<path d="M597.3 667.9h0M607.3 641.3h0M584.1 641.7h0M574.8 637.6h0M571.1 646.9h0M584.3 651.8h0M574.6 641.1h0M608.1 646.3h0M592.7 646.8h0M607.8 667.8h0M594.1 639.8h0M574.4 654.4h0M587.8 656.1h0M595.6 657.8h0M602.2 662.2h0M575.6 666.7h0M590 684.4h0M596.7 679.4h0M602.2 684.4h0M573.9 655h0M596.7 658.9h0M602.8 661.1h0" stroke="#1018e6" stroke-width="3.2" stroke-linecap="round" fill="none"/>
<path d="M543.6 642.6h0M570.2 635.6h0" stroke="#1490f0" stroke-width="3.2" stroke-linecap="round" fill="none"/>
<path d="M560.6 628.9h0" stroke="#4a5a10" stroke-width="3.2" stroke-linecap="round" fill="none"/>
<path d="M594.2 631.4h5v5h-5zM594.2 633.6h5v5h-5zM599.2 639.7h5v5h-5zM581.9 624.2h5v5h-5zM585.3 633.1h5v5h-5z" fill="#f322d0"/>
<path d="M595.4 625.9h4.8v4.8h-4.8zM578.7 642h4.8v4.8h-4.8zM572 659.8h4.8v4.8h-4.8z" fill="#a9a9f6"/>
<path d="M578.5 679.8l2 2l-2 2l-2 -2zM578.1 666.6l2 2l-2 2l-2 -2zM565.3 669.3l2 2l-2 2l-2 -2zM574.3 658.9l2 2l-2 2l-2 -2zM589.4 653.1l2 2l-2 2l-2 -2zM573.7 670.5l2 2l-2 2l-2 -2zM573.1 681.5l2 2l-2 2l-2 -2zM574 678.5l2 2l-2 2l-2 -2zM596.3 649.1l2 2l-2 2l-2 -2zM578.6 653.2l2 2l-2 2l-2 -2zM579.7 666.2l2 2l-2 2l-2 -2zM569.2 681l2 2l-2 2l-2 -2zM587.7 654l2 2l-2 2l-2 -2zM583.6 669.9l2 2l-2 2l-2 -2zM583.8 668l2 2l-2 2l-2 -2zM580.1 649l2 2l-2 2l-2 -2zM591.4 662.1l2 2l-2 2l-2 -2zM590.9 656.6l2 2l-2 2l-2 -2zM583.1 665.1l2 2l-2 2l-2 -2zM582.4 651.1l2 2l-2 2l-2 -2zM568.8 657l2 2l-2 2l-2 -2zM571.4 660.6l2 2l-2 2l-2 -2zM592 664.2l2 2l-2 2l-2 -2zM567.5 679.5l2 2l-2 2l-2 -2zM589.9 669.2l2 2l-2 2l-2 -2zM582.6 673.5l2 2l-2 2l-2 -2zM557.8 652.4l2 2l-2 2l-2 -2zM559.4 668.3l2 2l-2 2l-2 -2zM555 690.2l2 2l-2 2l-2 -2zM553.9 693.5l2 2l-2 2l-2 -2zM562.2 685.7l2 2l-2 2l-2 -2zM562.2 688.5l2 2l-2 2l-2 -2zM568.3 683.5l2 2l-2 2l-2 -2zM570.6 687.4l2 2l-2 2l-2 -2zM574.4 686.3l2 2l-2 2l-2 -2zM572.8 691.8l2 2l-2 2l-2 -2zM570.6 699.1l2 2l-2 2l-2 -2zM572.2 704.1l2 2l-2 2l-2 -2zM581.7 694.6l2 2l-2 2l-2 -2zM581.7 697.4l2 2l-2 2l-2 -2zM583.9 703l2 2l-2 2l-2 -2zM541.1 720l2 2l-2 2l-2 -2zM573.1 722.6l2 2l-2 2l-2 -2zM573.9 710.7l2 2l-2 2l-2 -2zM576.7 728.5l2 2l-2 2l-2 -2z" fill="#e8305c"/>
<path d="M568.8 669.3h5.8v5.8h-5.8zM562.1 673.8h5.8v5.8h-5.8zM571.5 676.5h5.8v5.8h-5.8zM571.5 659.3h5.8v5.8h-5.8zM569.3 656h5.8v5.8h-5.8z" fill="#a9a9f6"/>
<path d="M610 647.7l2 2l-2 2l-2 -2zM589.5 651.8l2 2l-2 2l-2 -2zM585.1 647.4l2 2l-2 2l-2 -2zM605.6 680.2l2 2l-2 2l-2 -2zM610.1 656.6l2 2l-2 2l-2 -2zM596.1 656l2 2l-2 2l-2 -2zM588 661.7l2 2l-2 2l-2 -2zM582.3 654l2 2l-2 2l-2 -2zM585.3 651.4l2 2l-2 2l-2 -2zM590.6 667.9l2 2l-2 2l-2 -2zM610.7 674.5l2 2l-2 2l-2 -2zM596.1 677.3l2 2l-2 2l-2 -2zM583 663.5l2 2l-2 2l-2 -2zM610.1 665.9l2 2l-2 2l-2 -2zM604.3 657.7l2 2l-2 2l-2 -2zM591.7 660.1l2 2l-2 2l-2 -2zM607.9 646.5l2 2l-2 2l-2 -2zM592.9 658.4l2 2l-2 2l-2 -2zM599.6 654.2l2 2l-2 2l-2 -2zM603.5 674l2 2l-2 2l-2 -2zM602 652.4l2 2l-2 2l-2 -2zM592.7 668.3l2 2l-2 2l-2 -2zM602.2 647.6l2 2l-2 2l-2 -2zM596 658.4l2 2l-2 2l-2 -2zM603.2 650.8l2 2l-2 2l-2 -2zM581.4 652.5l2 2l-2 2l-2 -2zM614.1 664.8l2 2l-2 2l-2 -2zM590.9 663.9l2 2l-2 2l-2 -2zM600.6 657.4l2 2l-2 2l-2 -2zM615.6 652.5l2 2l-2 2l-2 -2zM588.5 652.6l2 2l-2 2l-2 -2zM589.7 646.1l2 2l-2 2l-2 -2zM584.4 684.6l2 2l-2 2l-2 -2zM602.2 696.8l2 2l-2 2l-2 -2zM592.2 689.1l2 2l-2 2l-2 -2zM593.5 688.6l2 2l-2 2l-2 -2zM605.6 682.7l2 2l-2 2l-2 -2zM601.8 688.3l2 2l-2 2l-2 -2zM605.4 686.7l2 2l-2 2l-2 -2zM604.5 701.9l2 2l-2 2l-2 -2zM590.2 685.4l2 2l-2 2l-2 -2zM598.4 682.1l2 2l-2 2l-2 -2zM597 688.1l2 2l-2 2l-2 -2zM599.8 687l2 2l-2 2l-2 -2zM596.9 698.6l2 2l-2 2l-2 -2zM586.5 688.5l2 2l-2 2l-2 -2zM600.5 697.8l2 2l-2 2l-2 -2zM604.8 692.9l2 2l-2 2l-2 -2zM604.9 690.6l2 2l-2 2l-2 -2zM593.7 702.6l2 2l-2 2l-2 -2zM601.3 684.9l2 2l-2 2l-2 -2zM602.7 700.3l2 2l-2 2l-2 -2zM590.9 695.4l2 2l-2 2l-2 -2zM593.1 698.5l2 2l-2 2l-2 -2zM605.5 697.9l2 2l-2 2l-2 -2zM602.6 695.3l2 2l-2 2l-2 -2zM597.1 702l2 2l-2 2l-2 -2z" fill="#2090b2"/>
<path d="M610.6 686.1h4.4v4.4h-4.4zM600 697.8h4.4v4.4h-4.4zM600.6 705.6h4.4v4.4h-4.4zM585 731.7h4.4v4.4h-4.4zM591.1 731.1h4.4v4.4h-4.4z" fill="#157a88"/>
<path d="M587.8 656.1h0M595.6 657.8h0M602.2 662.2h0M590 684.4h0M596.7 679.4h0M602.2 684.4h0M598.9 667.8h0" stroke="#1018e6" stroke-width="3.2" stroke-linecap="round" fill="none"/>
<path d="M604.8 692.6l2.1 2.1l-2.1 2.1l-2.1 -2.1zM587.9 737.4l2.1 2.1l-2.1 2.1l-2.1 -2.1zM587.2 739.4l2.1 2.1l-2.1 2.1l-2.1 -2.1zM589.5 735.9l2.1 2.1l-2.1 2.1l-2.1 -2.1zM585.5 715.7l2.1 2.1l-2.1 2.1l-2.1 -2.1zM584.8 731.1l2.1 2.1l-2.1 2.1l-2.1 -2.1zM577.2 737.7l2.1 2.1l-2.1 2.1l-2.1 -2.1zM582.4 718.4l2.1 2.1l-2.1 2.1l-2.1 -2.1zM585.3 721.9l2.1 2.1l-2.1 2.1l-2.1 -2.1zM579.1 720.4l2.1 2.1l-2.1 2.1l-2.1 -2.1zM588.7 717.3l2.1 2.1l-2.1 2.1l-2.1 -2.1zM586.7 733.3l2.1 2.1l-2.1 2.1l-2.1 -2.1zM579 740.8l2.1 2.1l-2.1 2.1l-2.1 -2.1zM578.4 726.7l2.1 2.1l-2.1 2.1l-2.1 -2.1zM582.8 741.3l2.1 2.1l-2.1 2.1l-2.1 -2.1zM583.6 735l2.1 2.1l-2.1 2.1l-2.1 -2.1zM587.6 722.4l2.1 2.1l-2.1 2.1l-2.1 -2.1zM583.2 727.3l2.1 2.1l-2.1 2.1l-2.1 -2.1zM581.1 720l2.1 2.1l-2.1 2.1l-2.1 -2.1zM591 719l2.1 2.1l-2.1 2.1l-2.1 -2.1zM588.2 727.5l2.1 2.1l-2.1 2.1l-2.1 -2.1zM576.1 729l2.1 2.1l-2.1 2.1l-2.1 -2.1zM589.5 730.7l2.1 2.1l-2.1 2.1l-2.1 -2.1zM587.7 720.5l2.1 2.1l-2.1 2.1l-2.1 -2.1zM580.3 723l2.1 2.1l-2.1 2.1l-2.1 -2.1zM587.2 718.6l2.1 2.1l-2.1 2.1l-2.1 -2.1zM580.4 729.6l2.1 2.1l-2.1 2.1l-2.1 -2.1zM585 740.2l2.1 2.1l-2.1 2.1l-2.1 -2.1zM579 738.7l2.1 2.1l-2.1 2.1l-2.1 -2.1zM576.6 732.3l2.1 2.1l-2.1 2.1l-2.1 -2.1zM590.5 726.1l2.1 2.1l-2.1 2.1l-2.1 -2.1zM585.5 736.3l2.1 2.1l-2.1 2.1l-2.1 -2.1zM581.4 735.3l2.1 2.1l-2.1 2.1l-2.1 -2.1zM581.4 738.2l2.1 2.1l-2.1 2.1l-2.1 -2.1zM580.3 725.4l2.1 2.1l-2.1 2.1l-2.1 -2.1zM566.5 735.5l2.1 2.1l-2.1 2.1l-2.1 -2.1zM569.7 733.8l2.1 2.1l-2.1 2.1l-2.1 -2.1zM566.4 738.9l2.1 2.1l-2.1 2.1l-2.1 -2.1zM568.7 739.5l2.1 2.1l-2.1 2.1l-2.1 -2.1zM565 733.3l2.1 2.1l-2.1 2.1l-2.1 -2.1zM571.7 738l2.1 2.1l-2.1 2.1l-2.1 -2.1zM565.7 741.9l2.1 2.1l-2.1 2.1l-2.1 -2.1zM572.3 734.3l2.1 2.1l-2.1 2.1l-2.1 -2.1z" fill="#cdf458"/>
<path d="M595.1 707.2l2 2l-2 2l-2 -2zM593.7 718.8l2 2l-2 2l-2 -2zM589.4 694.8l2 2l-2 2l-2 -2zM599 716.3l2 2l-2 2l-2 -2zM597.1 676.7l2 2l-2 2l-2 -2zM598.2 730.2l2 2l-2 2l-2 -2zM597 721.1l2 2l-2 2l-2 -2zM590.6 700.5l2 2l-2 2l-2 -2zM587.8 727.8l2 2l-2 2l-2 -2zM602.3 711.9l2 2l-2 2l-2 -2zM595.3 694.4l2 2l-2 2l-2 -2zM586.2 743.9l2 2l-2 2l-2 -2zM593.5 735.5l2 2l-2 2l-2 -2zM600.9 685.7l2 2l-2 2l-2 -2zM600.9 734.8l2 2l-2 2l-2 -2zM585.6 715.7l2 2l-2 2l-2 -2zM586.8 693.1l2 2l-2 2l-2 -2zM601.1 691.1l2 2l-2 2l-2 -2zM598.7 688.5l2 2l-2 2l-2 -2zM606.7 703.3l2 2l-2 2l-2 -2zM591.8 693.8l2 2l-2 2l-2 -2zM591.7 677.4l2 2l-2 2l-2 -2z" fill="#ff1414"/>
<path d="M612.2 648.9h4.4v4.4h-4.4zM597.6 669.5h4.4v4.4h-4.4zM577.2 680.6h4.4v4.4h-4.4z" fill="#f58b2c"/>
<path d="M608.4 679.5h4.4v4.4h-4.4zM613.9 677.2h4.4v4.4h-4.4zM608.4 704.8h4.4v4.4h-4.4zM601.1 695h4.4v4.4h-4.4z" fill="#80702a"/>
<path d="M589 680.6h3.6v3.6h-3.6zM606 681.5h3.6v3.6h-3.6zM589.7 753.1h3.6v3.6h-3.6zM588.4 764.5h3.6v3.6h-3.6z" fill="#5a2a0c"/>
<path d="M580.6 701.8l2 2l-2 2l-2 -2zM577.4 707.6l2 2l-2 2l-2 -2zM586.4 708.8l2 2l-2 2l-2 -2zM580.8 711.6l2 2l-2 2l-2 -2zM599.1 711.6l2 2l-2 2l-2 -2zM595 726.8l2 2l-2 2l-2 -2zM578.9 733.5l2 2l-2 2l-2 -2zM581.7 733.5l2 2l-2 2l-2 -2zM593.9 736.8l2 2l-2 2l-2 -2zM590.6 743.3l2 2l-2 2l-2 -2zM595 745.2l2 2l-2 2l-2 -2zM578.9 743.5l2 2l-2 2l-2 -2zM593.3 732.4l2 2l-2 2l-2 -2zM567.1 752.1l2 2l-2 2l-2 -2zM570.4 750.4l2 2l-2 2l-2 -2zM576.9 771.6l2 2l-2 2l-2 -2zM581.7 776l2 2l-2 2l-2 -2zM585.8 775.6l2 2l-2 2l-2 -2zM573.6 766.7l2 2l-2 2l-2 -2zM593.1 756.9l2 2l-2 2l-2 -2zM594.7 758.6l2 2l-2 2l-2 -2zM581 760l2 2l-2 2l-2 -2zM589.9 757.1l2 2l-2 2l-2 -2zM589.7 764.5l2 2l-2 2l-2 -2zM580.9 763.1l2 2l-2 2l-2 -2zM583.8 754.2l2 2l-2 2l-2 -2zM588 762l2 2l-2 2l-2 -2zM573.9 762.2l2 2l-2 2l-2 -2zM583.2 761.1l2 2l-2 2l-2 -2zM579.7 753.2l2 2l-2 2l-2 -2zM587.7 755.1l2 2l-2 2l-2 -2zM575.9 758.3l2 2l-2 2l-2 -2z" fill="#1f4e96"/>
<path d="M593.9 667.2h0M596.7 685.6h0M598.9 692h0M596.7 704.4h0M606.4 710.9h0M584.4 713.9h0M592.8 717.2h0M594.4 721.1h0M582.2 727.2h0M580 729.4h0M576.7 730.6h0M593.6 734.4h0M582.2 740h0M557.2 744.7h0M575 746.1h0M577.2 748.3h0M568.7 753.3h0M572.8 756.6h0M565.5 761.9h0" stroke="#f03fb2" stroke-width="3.2" stroke-linecap="round" fill="none"/>
<path d="M586.5 752.1l2 2l-2 2l-2 -2zM587.8 763.5l2 2l-2 2l-2 -2zM582 753.5l2 2l-2 2l-2 -2zM588.2 765.2l2 2l-2 2l-2 -2zM588.5 752.8l2 2l-2 2l-2 -2zM590.6 759.1l2 2l-2 2l-2 -2zM581 754.1l2 2l-2 2l-2 -2zM592.2 763.1l2 2l-2 2l-2 -2zM578.9 756.3l2 2l-2 2l-2 -2zM575.4 762.1l2 2l-2 2l-2 -2zM586.6 758.9l2 2l-2 2l-2 -2zM578.6 761l2 2l-2 2l-2 -2zM584.5 765.1l2 2l-2 2l-2 -2zM577.9 755.5l2 2l-2 2l-2 -2zM574.6 761l2 2l-2 2l-2 -2zM584.1 756.5l2 2l-2 2l-2 -2zM582.8 752l2 2l-2 2l-2 -2zM577.4 760.6l2 2l-2 2l-2 -2zM588.7 760.2l2 2l-2 2l-2 -2zM573.4 757.1l2 2l-2 2l-2 -2zM592 758l2 2l-2 2l-2 -2zM578.3 765l2 2l-2 2l-2 -2zM574.1 755.3l2 2l-2 2l-2 -2zM581.1 750.9l2 2l-2 2l-2 -2zM581.1 761.9l2 2l-2 2l-2 -2zM582.3 766.3l2 2l-2 2l-2 -2zM586.1 761.4l2 2l-2 2l-2 -2zM579.1 767l2 2l-2 2l-2 -2zM589.1 755.6l2 2l-2 2l-2 -2zM586.5 757l2 2l-2 2l-2 -2zM583.9 755.3l2 2l-2 2l-2 -2zM585.1 755.8l2 2l-2 2l-2 -2z" fill="#1f4e96"/>
<path d="M568.7 759h0M568.7 765.2h0M572 766.3h0M580.9 771.2h0M585.5 771.5h0M595.1 770.9h0M586.6 765.5h0M578.5 759h0M583.4 755.7h0M597.8 727.2h0M584.7 695.1h0M590.4 714.5h0M578.3 722.1h0M580.9 742.7h0M592.6 729.2h0M595.8 723h0M598.3 709.2h0M587.9 718.8h0M602.9 723h0" stroke="#f03fb2" stroke-width="3.2" stroke-linecap="round" fill="none"/>
<path d="M584.6 752.8l2 2l-2 2l-2 -2zM574.5 763.9l2 2l-2 2l-2 -2zM580.9 752.8l2 2l-2 2l-2 -2zM577.5 721.6l2 2l-2 2l-2 -2zM597 734.7l2 2l-2 2l-2 -2zM589.9 705.7l2 2l-2 2l-2 -2zM587.8 711.8l2 2l-2 2l-2 -2zM587.9 740.3l2 2l-2 2l-2 -2zM581.4 724.5l2 2l-2 2l-2 -2zM588.1 720.3l2 2l-2 2l-2 -2zM578.4 741.9l2 2l-2 2l-2 -2zM598.5 710l2 2l-2 2l-2 -2zM597.8 720.9l2 2l-2 2l-2 -2zM597.7 714.2l2 2l-2 2l-2 -2zM578 745.2l2 2l-2 2l-2 -2zM585.5 702.1l2 2l-2 2l-2 -2zM582.1 715.4l2 2l-2 2l-2 -2zM597 744.2l2 2l-2 2l-2 -2zM583.4 705.7l2 2l-2 2l-2 -2zM584.2 723.6l2 2l-2 2l-2 -2zM592 724.5l2 2l-2 2l-2 -2zM595.6 720.5l2 2l-2 2l-2 -2zM597.2 731.4l2 2l-2 2l-2 -2zM584.4 712.8l2 2l-2 2l-2 -2zM598 739.9l2 2l-2 2l-2 -2zM590 743l2 2l-2 2l-2 -2zM595 744.6l2 2l-2 2l-2 -2zM590 748.7l2 2l-2 2l-2 -2zM596.7 748.7l2 2l-2 2l-2 -2zM580 743.7l2 2l-2 2l-2 -2zM581.7 748l2 2l-2 2l-2 -2zM585.6 751.3l2 2l-2 2l-2 -2zM592.2 752.4l2 2l-2 2l-2 -2z" fill="#1f4e96"/>
<path d="M575.8 750.3l2.1 2.1l-2.1 2.1l-2.1 -2.1zM580 751.2l2.1 2.1l-2.1 2.1l-2.1 -2.1zM581.7 739.5l2.1 2.1l-2.1 2.1l-2.1 -2.1zM577.8 751.7l2.1 2.1l-2.1 2.1l-2.1 -2.1z" fill="#cdf458"/>
<path d="M583.3 743.7l2 2l-2 2l-2 -2zM585 744.6l2 2l-2 2l-2 -2zM596.7 742.1l2 2l-2 2l-2 -2zM600 740.1l2 2l-2 2l-2 -2z" fill="#ff1414"/>
<path d="M578 758.8h4v4h-4zM570.4 766.3h4v4h-4z" fill="#157a88"/>
<path d="M590.4 709.4h0M589.8 725.8h0M582.1 711.9h0M582.6 717.2h0M591.4 734.7h0M599.7 706.7h0M587.4 693.8h0M594.9 700.8h0M585.8 727.6h0M585.1 692.3h0M600.9 725.1h0M596.3 731.3h0M591.5 687.6h0M579.4 718.2h0M596.3 685.7h0M594.5 740.3h0M575 746.7h0M577.4 749.1h0M580.8 755h0M583.3 757.4h0" stroke="#f03fb2" stroke-width="3.2" stroke-linecap="round" fill="none"/>
<path d="M544.8 710.9h0M570.2 698.9h0M572.8 693.9h0M577.2 700.2h0M578.9 688h0M583.9 689.4h0M572.6 711.4h0M575 716.4h0M590.6 704.4h0M560.2 735h0M562.2 738h0M556.7 749.4h0" stroke="#9292b4" stroke-width="3" stroke-linecap="round" fill="none"/>
<path d="M566.9 709.6h0" stroke="#12e030" stroke-width="3.2" stroke-linecap="round" fill="none"/>
<path d="M559.8 700.6h0M579.2 674.7h0" stroke="#a4a414" stroke-width="3.2" stroke-linecap="round" fill="none"/>
<path d="M409.5 570.2l2.9 5.5h-5.8zM414.4 568.1l2.9 5.5h-5.8zM426.6 565.7l2.9 5.5h-5.8zM429 564.4l2.9 5.5h-5.8zM433.9 568.1l2.9 5.5h-5.8zM432.6 574.3l2.9 5.5h-5.8zM444.9 574.3l2.9 5.5h-5.8zM466.4 569.3l2.9 5.5h-5.8zM463.4 586.3l2.9 5.5h-5.8zM466.7 588.1l2.9 5.5h-5.8z" fill="#5c12a0"/>
<path d="M441 540.8l2.9 5.5h-5.8zM437.1 548.3l2.9 5.5h-5.8zM445.9 548.6l2.9 5.5h-5.8zM432.9 551.1l2.9 5.5h-5.8zM440.4 552.4l2.9 5.5h-5.8zM446.5 551.4l2.9 5.5h-5.8zM442.3 560.8l2.9 5.5h-5.8zM445.2 560.5l2.9 5.5h-5.8zM447.2 563.6l2.9 5.5h-5.8zM451.4 561.6l2.9 5.5h-5.8zM453.7 560.5l2.9 5.5h-5.8zM434.5 566.3l2.9 5.5h-5.8zM459.5 568.4l2.9 5.5h-5.8zM461.5 568.1l2.9 5.5h-5.8z" fill="#ee1010"/>
<path d="M418.7 577h2v2h-2z" fill="#3a3a3a"/>
<rect x="398.4" y="532.3" width="241.4" height="257.2" fill="none" stroke="#2e2e2e" stroke-width="1.3"/>
</svg>
<p class="t" style="left:359.6px;top:827.9px;font-size:26.8px">Minorities and Han Chinese</p>
</section>
<section id="adaptation">
<h2 class="t" style="left:860.3px;top:476.4px;font-size:31.2px">Genetic adaptation</h2>
<svg id="manhattan-plot" width="1600" height="900" viewBox="0 0 1600 900">
<path d="M793.4 792.9L793.4 774.6L794.0 772.3L794.5 769.6L795.1 771.4L795.6 772.8L796.2 766.0L796.7 768.5L797.3 766.0L797.8 767.7L798.4 770.3L798.9 772.3L799.5 769.6L800.0 773.9L800.6 771.2L801.1 773.8L801.7 776.2L802.2 773.2L802.8 775.2L803.3 769.5L803.9 766.3L804.4 773.1L805.0 769.3L805.5 761.6L806.1 768.6L806.6 764.8L807.2 765.0L807.7 765.1L808.3 764.3L808.8 765.8L809.4 764.8L809.9 767.5L810.5 765.7L811.0 766.5L811.6 766.3L812.1 771.4L812.7 774.0L813.3 774.9L813.8 792.9L814.4 792.9L814.9 792.9L815.5 792.9L816.0 771.0L816.6 769.4L817.1 762.8L817.7 761.1L818.2 763.3L818.8 769.8L819.3 771.0L819.9 768.7L820.4 761.2L821.0 767.9L821.5 769.2L822.1 770.4L822.6 772.3L823.2 771.5L823.7 771.3L824.3 770.7L824.8 769.8L825.4 770.3L825.9 777.2L826.5 770.1L827.0 769.8L827.6 767.4L828.1 771.6L828.7 769.1L829.2 771.4L829.8 771.7L830.3 771.9L830.9 773.3L830.9 792.9ZM867.0 792.9L867.0 776.7L867.6 773.6L868.1 769.4L868.7 762.5L869.2 775.2L869.8 771.9L870.4 772.7L870.9 771.4L871.5 771.6L872.0 772.4L872.6 770.4L873.1 772.0L873.7 771.3L874.3 770.8L874.8 770.3L875.4 773.9L875.9 771.6L876.5 770.8L877.1 773.9L877.6 776.0L878.2 770.3L878.7 770.7L879.3 770.4L879.8 759.9L880.4 768.0L881.0 772.8L881.5 766.0L882.1 758.7L882.6 761.2L883.2 759.7L883.8 771.7L884.3 764.8L884.9 770.0L885.4 760.6L886.0 766.0L886.5 766.6L887.1 769.9L887.7 768.8L888.2 769.5L888.8 771.1L889.3 770.6L889.9 765.4L890.5 767.4L891.0 767.6L891.6 767.6L892.1 768.7L892.7 767.0L893.2 764.3L893.8 769.6L894.4 767.4L894.9 772.3L895.5 771.4L896.0 775.0L896.6 774.5L896.6 792.9ZM924.8 792.9L924.8 777.6L925.4 770.2L925.9 767.0L926.5 770.1L927.0 758.3L927.6 769.8L928.1 765.6L928.7 765.3L929.3 768.8L929.8 766.1L930.4 769.0L930.9 767.3L931.5 765.8L932.0 768.3L932.6 767.2L933.2 767.1L933.7 771.1L934.3 766.9L934.8 767.5L935.4 767.7L935.9 761.6L936.5 769.3L937.1 765.9L937.6 763.3L938.2 768.5L938.7 768.2L939.3 769.1L939.8 765.2L940.4 769.2L941.0 770.5L941.5 775.7L942.1 772.5L942.6 773.9L943.2 773.5L943.7 770.3L944.3 770.4L944.9 771.0L945.4 769.5L946.0 774.3L946.5 769.3L947.1 771.3L947.6 770.0L948.2 771.4L948.8 766.9L949.3 761.8L949.9 766.8L950.4 772.6L951.0 773.6L951.5 772.4L952.1 771.7L952.1 792.9ZM977.3 792.9L977.3 778.0L977.9 774.2L978.4 770.8L979.0 778.1L979.5 773.8L980.1 772.7L980.7 771.2L981.2 774.2L981.8 770.6L982.4 770.7L982.9 766.2L983.5 764.8L984.0 766.5L984.6 768.2L985.2 769.7L985.7 766.6L986.3 769.3L986.9 770.9L987.4 769.0L988.0 772.8L988.5 768.2L989.1 772.1L989.7 771.5L990.2 765.4L990.8 770.3L991.3 765.5L991.9 768.3L992.5 769.4L993.0 763.7L993.6 766.2L994.2 764.5L994.7 764.9L995.3 764.6L995.8 759.5L996.4 766.0L997.0 765.1L997.5 770.0L998.1 768.0L998.7 767.3L999.2 771.3L999.8 771.6L1000.3 774.4L1000.9 776.8L1000.9 792.9ZM1022.8 792.9L1022.8 775.7L1023.4 776.0L1023.9 772.6L1024.5 769.9L1025.0 770.8L1025.6 773.1L1026.1 773.5L1026.7 771.9L1027.2 766.3L1027.8 769.5L1028.3 774.0L1028.9 773.2L1029.4 775.8L1030.0 792.9L1030.5 792.9L1031.1 792.9L1031.6 792.9L1032.2 792.9L1032.7 792.9L1033.3 792.9L1033.9 775.6L1034.4 773.5L1035.0 772.2L1035.5 768.0L1036.1 770.1L1036.6 768.2L1037.2 771.4L1037.7 769.3L1038.3 765.6L1038.8 768.9L1039.4 764.1L1039.9 764.8L1040.5 762.5L1041.0 763.2L1041.6 766.9L1042.1 765.1L1042.7 761.1L1043.2 767.8L1043.8 772.2L1043.8 792.9ZM1063.8 792.9L1063.8 775.9L1064.4 768.4L1064.9 768.9L1065.5 765.9L1066.0 763.8L1066.6 766.6L1067.2 763.0L1067.7 765.6L1068.3 761.7L1068.8 766.0L1069.4 765.6L1070.0 764.5L1070.5 768.6L1071.1 771.8L1071.7 767.7L1072.2 772.3L1072.8 773.6L1073.3 771.1L1073.9 770.8L1074.5 773.5L1075.0 773.9L1075.6 771.0L1076.1 771.3L1076.7 770.7L1077.3 764.7L1077.8 768.7L1078.4 770.6L1079.0 772.7L1079.5 772.1L1080.1 770.9L1080.6 771.2L1081.2 769.5L1081.8 771.7L1082.3 769.2L1082.9 774.4L1083.4 773.9L1084.0 777.9L1084.0 792.9ZM1106.2 792.9L1106.2 777.2L1106.8 776.9L1107.3 776.0L1107.9 770.6L1108.4 773.0L1109.0 770.5L1109.5 769.8L1110.1 772.5L1110.6 771.7L1111.2 772.2L1111.7 770.5L1112.3 769.2L1112.9 766.9L1113.4 770.4L1114.0 770.7L1114.5 772.1L1115.1 769.0L1115.6 768.6L1116.2 769.0L1116.7 768.9L1117.3 768.6L1117.9 766.3L1118.4 768.2L1119.0 763.3L1119.5 767.2L1120.1 768.2L1120.6 767.8L1121.2 764.3L1121.7 762.0L1122.3 767.1L1122.8 770.4L1123.4 792.9L1123.4 792.9ZM1139.8 792.9L1139.8 792.9L1140.4 779.6L1140.9 770.2L1141.5 767.2L1142.0 767.6L1142.6 765.5L1143.2 766.6L1143.7 768.7L1144.3 765.2L1144.8 764.9L1145.4 772.3L1146.0 771.7L1146.5 769.6L1147.1 766.9L1147.7 771.2L1148.2 767.1L1148.8 766.5L1149.3 766.5L1149.9 765.9L1150.5 770.3L1151.0 768.7L1151.6 762.9L1152.1 770.8L1152.7 769.9L1152.7 792.9ZM1165.0 792.9L1165.0 773.9L1165.6 772.0L1166.1 774.6L1166.7 765.6L1167.2 764.1L1167.8 763.8L1168.3 762.8L1168.9 764.8L1169.5 766.7L1170.0 764.9L1170.6 769.6L1171.1 768.5L1171.7 760.8L1172.2 765.5L1172.8 768.6L1173.3 768.8L1173.9 767.8L1174.5 767.6L1175.0 770.2L1175.6 771.3L1176.1 767.8L1176.7 768.7L1177.2 768.9L1177.8 773.8L1177.8 792.9ZM1189.3 792.9L1189.3 768.4L1189.9 770.3L1190.4 770.4L1191.0 769.8L1191.6 763.9L1192.1 770.4L1192.7 768.5L1193.3 765.3L1193.8 765.4L1194.4 765.5L1195.0 766.3L1195.5 772.4L1196.1 767.2L1196.7 764.5L1197.2 763.1L1197.8 768.1L1198.4 769.0L1198.9 770.4L1199.5 769.8L1199.5 792.9ZM1209.3 792.9L1209.3 776.4L1209.9 766.8L1210.5 768.9L1211.0 766.1L1211.6 762.9L1212.2 767.1L1212.8 765.9L1213.3 764.5L1213.9 765.2L1214.5 769.8L1215.1 769.7L1215.6 763.5L1216.2 770.7L1216.8 775.9L1216.8 792.9Z" fill="#0b0b86"/>
<path d="M830.9 792.9L830.9 766.5L831.5 772.6L832.0 770.4L832.6 770.5L833.1 763.9L833.7 766.7L834.2 770.2L834.8 771.0L835.3 767.6L835.9 766.3L836.5 771.3L837.0 768.3L837.6 768.2L838.1 768.9L838.7 771.8L839.2 766.3L839.8 772.0L840.3 769.4L840.9 772.4L841.5 773.1L842.0 771.6L842.6 775.3L843.1 771.0L843.7 773.5L844.2 771.9L844.8 773.3L845.3 782.6L845.9 779.9L846.5 772.4L847.0 765.6L847.6 770.3L848.1 765.8L848.7 767.8L849.2 769.5L849.8 765.0L850.3 768.2L850.9 769.3L851.4 766.1L852.0 769.4L852.6 769.3L853.1 766.7L853.7 767.8L854.2 769.5L854.8 766.9L855.3 765.7L855.9 765.9L856.4 768.3L857.0 768.1L857.6 764.2L858.1 767.6L858.7 764.8L859.2 764.3L859.8 767.7L860.3 766.4L860.9 768.7L861.4 768.6L862.0 770.4L862.6 770.0L863.1 774.2L863.7 772.9L864.2 772.5L864.8 774.4L865.3 770.4L865.9 773.9L866.4 768.6L867.0 776.4L867.0 792.9ZM896.6 792.9L896.6 774.4L897.2 771.7L897.7 764.6L898.3 764.0L898.8 755.5L899.4 765.4L899.9 770.2L900.5 768.9L901.0 767.2L901.6 770.9L902.1 767.9L902.7 773.2L903.2 770.9L903.8 774.4L904.3 775.3L904.9 773.2L905.4 773.6L906.0 762.0L906.6 768.2L907.1 769.2L907.7 769.0L908.2 771.7L908.8 771.8L909.3 768.8L909.9 767.6L910.4 770.2L911.0 768.6L911.5 770.0L912.1 773.0L912.6 765.7L913.2 771.0L913.7 773.6L914.3 769.7L914.8 767.6L915.4 772.1L916.0 770.6L916.5 765.5L917.1 767.2L917.6 764.2L918.2 764.0L918.7 763.2L919.3 759.1L919.8 765.4L920.4 763.5L920.9 763.6L921.5 765.2L922.0 765.0L922.6 769.7L923.1 767.6L923.7 766.3L924.2 769.8L924.8 776.1L924.8 792.9ZM952.1 792.9L952.1 773.8L952.7 771.7L953.2 768.3L953.8 767.8L954.3 762.3L954.9 768.4L955.5 768.0L956.0 762.1L956.6 772.6L957.1 770.3L957.7 779.8L958.3 770.5L958.8 771.5L959.4 771.5L959.9 773.7L960.5 771.7L961.1 768.0L961.6 769.7L962.2 766.3L962.7 764.1L963.3 763.4L963.9 764.1L964.4 770.9L965.0 765.4L965.5 767.4L966.1 767.9L966.7 769.6L967.2 764.8L967.8 768.5L968.3 761.0L968.9 767.0L969.5 766.1L970.0 768.4L970.6 772.8L971.1 767.7L971.7 766.3L972.3 766.5L972.8 762.7L973.4 762.3L973.9 765.9L974.5 767.9L975.1 768.5L975.6 761.7L976.2 774.7L976.7 773.6L977.3 773.8L977.3 792.9ZM1000.9 792.9L1000.9 773.0L1001.5 773.1L1002.0 768.1L1002.6 768.1L1003.1 768.7L1003.7 769.9L1004.3 771.1L1004.8 764.1L1005.4 770.9L1006.0 769.9L1006.5 771.7L1007.1 773.7L1007.6 773.8L1008.2 771.7L1008.8 771.5L1009.3 774.1L1009.9 772.1L1010.4 772.2L1011.0 771.6L1011.6 769.9L1012.1 767.7L1012.7 767.5L1013.3 769.5L1013.8 767.6L1014.4 769.2L1014.9 769.8L1015.5 763.9L1016.1 764.9L1016.6 765.9L1017.2 761.2L1017.7 771.0L1018.3 765.6L1018.9 765.6L1019.4 768.2L1020.0 769.6L1020.6 767.0L1021.1 766.2L1021.7 766.8L1022.2 766.7L1022.8 772.0L1022.8 792.9ZM1043.8 792.9L1043.8 774.5L1044.4 775.7L1044.9 765.0L1045.5 765.2L1046.0 767.0L1046.6 770.3L1047.1 766.5L1047.7 764.9L1048.2 768.5L1048.8 768.0L1049.4 763.9L1049.9 767.5L1050.5 765.0L1051.0 764.0L1051.6 765.2L1052.1 770.2L1052.7 765.1L1053.2 766.2L1053.8 766.3L1054.4 761.8L1054.9 763.0L1055.5 764.0L1056.0 766.5L1056.6 761.1L1057.1 763.0L1057.7 764.7L1058.2 764.9L1058.8 762.9L1059.4 766.7L1059.9 770.4L1060.5 766.3L1061.0 765.3L1061.6 767.5L1062.1 767.0L1062.7 768.8L1063.2 774.2L1063.8 778.3L1063.8 792.9ZM1084.0 792.9L1084.0 770.4L1084.6 770.8L1085.1 767.6L1085.7 768.4L1086.2 761.8L1086.8 768.9L1087.3 765.7L1087.9 761.9L1088.4 762.0L1089.0 763.5L1089.5 766.2L1090.1 768.7L1090.7 768.3L1091.2 771.7L1091.8 767.1L1092.3 766.7L1092.9 772.3L1093.4 765.7L1094.0 767.8L1094.5 768.6L1095.1 767.7L1095.7 770.9L1096.2 766.2L1096.8 772.6L1097.3 770.8L1097.9 769.3L1098.4 766.4L1099.0 772.8L1099.5 773.3L1100.1 772.3L1100.7 773.0L1101.2 774.3L1101.8 766.0L1102.3 770.1L1102.9 772.1L1103.4 771.5L1104.0 765.0L1104.5 769.9L1105.1 768.9L1105.6 771.2L1106.2 769.5L1106.2 792.9ZM1124.5 792.9L1124.5 792.9L1125.1 775.9L1125.6 766.3L1126.2 766.6L1126.7 768.0L1127.3 763.8L1127.8 769.0L1128.4 765.1L1128.9 767.3L1129.5 768.7L1130.0 773.1L1130.6 772.0L1131.1 765.8L1131.7 766.0L1132.3 771.5L1132.8 767.6L1133.4 770.2L1133.9 765.9L1134.5 766.3L1135.0 765.7L1135.6 766.3L1136.1 768.9L1136.7 767.0L1137.2 768.8L1137.8 775.0L1138.3 776.8L1138.9 792.9L1138.9 792.9ZM1152.7 792.9L1152.7 773.3L1153.3 771.4L1153.8 767.5L1154.4 769.0L1154.9 767.3L1155.5 770.5L1156.1 767.5L1156.6 768.0L1157.2 770.6L1157.7 772.3L1158.3 771.4L1158.8 769.4L1159.4 767.9L1160.0 770.7L1160.5 771.9L1161.1 767.9L1161.6 769.5L1162.2 765.0L1162.8 764.8L1163.3 764.8L1163.9 763.3L1164.4 766.1L1165.0 770.6L1165.0 792.9ZM1177.8 792.9L1177.8 777.5L1178.4 773.7L1179.0 772.8L1179.5 776.9L1180.1 776.2L1180.7 771.1L1181.2 769.4L1181.8 764.2L1182.4 764.0L1183.0 767.8L1183.5 767.5L1184.1 767.7L1184.7 765.7L1185.3 766.6L1185.8 758.2L1186.4 767.3L1187.0 771.4L1187.6 769.1L1188.1 768.6L1188.7 772.8L1189.3 774.6L1189.3 792.9ZM1199.5 792.9L1199.5 770.5L1200.1 779.7L1200.7 772.0L1201.2 767.0L1201.8 767.3L1202.4 770.0L1203.0 767.4L1203.5 765.0L1204.1 764.9L1204.7 762.3L1205.3 766.3L1205.8 765.2L1206.4 763.6L1207.0 764.8L1207.6 768.3L1208.1 768.8L1208.7 772.9L1209.3 773.9L1209.3 792.9ZM1216.8 792.9L1216.8 774.5L1217.4 765.7L1218.0 768.6L1218.6 767.7L1219.1 769.3L1219.7 765.9L1220.3 771.2L1220.9 768.5L1221.5 769.8L1222.1 775.0L1222.6 768.9L1223.2 772.4L1223.8 775.0L1224.4 779.7L1224.4 792.9Z" fill="#d28a12"/>
<path d="M852.3 770.3h0M838.0 770.1h0M837.5 766.6h0M842.4 768.6h0M860.0 769.1h0M840.6 764.2h0M863.4 769.8h0M850.6 761.1h0M848.3 770.3h0M833.2 761.7h0M859.5 769.6h0M849.9 768.8h0M841.1 756.3h0M854.4 770.3h0M831.9 769.1h0M844.5 766.0h0M856.4 768.2h0M837.0 770.6h0M842.7 770.2h0M861.8 768.8h0M853.7 768.1h0M850.2 770.6h0M858.4 771.1h0M860.2 765.1h0M860.2 770.9h0M840.9 767.1h0M834.9 769.0h0M847.9 761.2h0M852.0 764.9h0M842.1 766.2h0M846.1 763.2h0M834.7 765.5h0M838.8 768.6h0M849.8 770.6h0M860.5 769.9h0M842.3 770.9h0M842.2 769.1h0M856.5 769.7h0M855.5 770.8h0M845.3 769.2h0M865.2 765.5h0M854.3 771.1h0M844.7 767.2h0M839.8 768.5h0M847.5 771.1h0M866.1 766.0h0M838.7 768.1h0M841.6 769.6h0M850.3 770.0h0M843.3 769.5h0M854.8 770.2h0M838.5 766.9h0M843.0 761.9h0M851.1 767.0h0M843.1 765.5h0M834.7 770.7h0M834.8 767.5h0M856.2 770.5h0M845.5 765.3h0M852.2 770.8h0M839.4 770.6h0M835.8 769.5h0M834.0 763.0h0M846.4 768.8h0M854.1 766.5h0M860.2 769.6h0M843.1 769.4h0M832.0 769.5h0M855.9 758.3h0M859.1 767.7h0M852.7 771.1h0M843.1 769.8h0M854.2 770.8h0M844.7 768.9h0M859.0 765.6h0M852.8 770.6h0M858.3 763.7h0M850.6 769.7h0M849.0 770.7h0M856.4 757.3h0M849.5 767.1h0M860.7 770.4h0M864.5 768.0h0M838.4 770.9h0M840.0 768.4h0M855.8 769.9h0M863.9 769.7h0M847.7 770.7h0M865.5 770.7h0M863.1 768.6h0M851.1 768.5h0M840.7 763.5h0M866.1 765.7h0M852.5 770.7h0M860.3 770.1h0M862.8 770.3h0M851.5 765.5h0M838.0 768.6h0M834.2 771.0h0M837.8 757.2h0M864.3 767.7h0M842.2 767.6h0M857.2 769.6h0M852.2 765.9h0M832.1 770.4h0M847.8 770.6h0M845.0 768.4h0M837.6 768.8h0M840.7 768.5h0M843.1 767.9h0M832.8 767.6h0M836.6 760.9h0M852.4 769.1h0M845.9 768.0h0M855.6 766.6h0M857.7 769.0h0M866.2 765.3h0M861.3 769.5h0M846.6 768.5h0M863.1 768.8h0M849.8 769.3h0M863.1 769.9h0M833.4 767.0h0M862.9 766.9h0M852.4 766.7h0M842.1 768.3h0M833.9 770.7h0M847.1 768.9h0M845.3 771.0h0M855.8 768.7h0M839.8 770.0h0M845.3 770.3h0M833.9 763.4h0M865.2 767.6h0M861.7 769.4h0M859.6 770.3h0M857.6 768.5h0M863.0 770.8h0M859.2 770.7h0M850.3 761.5h0M831.5 770.2h0M841.9 769.9h0M833.7 763.9h0M860.0 769.5h0M843.9 768.3h0M833.1 771.0h0M862.9 770.0h0M848.9 762.4h0M865.6 769.1h0M838.7 770.0h0M863.7 763.9h0M838.3 765.3h0M843.9 769.1h0M837.5 764.4h0M866.2 770.4h0M853.6 770.5h0M862.2 771.0h0M835.2 767.0h0M842.4 763.8h0M861.8 767.1h0M836.2 767.3h0M864.2 769.3h0M834.3 770.3h0M842.2 767.2h0M838.4 770.5h0M839.7 767.6h0M905.7 768.0h0M904.7 768.2h0M916.0 770.5h0M900.7 767.4h0M909.8 770.7h0M900.3 762.1h0M913.7 769.7h0M902.5 763.2h0M917.1 769.7h0M905.6 769.5h0M901.1 767.9h0M908.7 765.7h0M908.2 769.2h0M910.9 762.0h0M906.6 767.2h0M903.5 768.4h0M904.9 764.5h0M904.9 765.0h0M915.5 769.2h0M922.4 769.6h0M917.3 768.2h0M909.3 770.9h0M908.5 770.1h0M909.1 761.3h0M905.1 767.3h0M915.3 770.2h0M908.3 770.7h0M921.4 770.2h0M908.6 769.8h0M919.4 765.1h0M913.1 768.6h0M899.9 763.9h0M899.6 769.7h0M907.3 767.0h0M915.3 769.8h0M921.4 761.6h0M897.8 767.9h0M909.9 769.7h0M909.8 769.9h0M915.3 768.2h0M923.4 759.1h0M924.0 769.5h0M919.6 767.8h0M916.1 770.4h0M909.7 769.5h0M914.9 770.4h0M923.9 770.4h0M907.2 770.6h0M907.9 766.8h0M899.5 770.6h0M914.7 768.0h0M917.2 770.2h0M919.1 766.9h0M918.2 770.7h0M909.9 771.1h0M920.4 761.9h0M921.4 771.1h0M906.7 768.7h0M911.6 770.8h0M918.5 770.0h0M910.9 770.7h0M912.5 770.7h0M899.6 768.8h0M905.1 766.3h0M903.9 769.4h0M898.7 770.4h0M909.4 768.5h0M909.6 765.1h0M900.0 765.1h0M901.4 759.9h0M911.4 769.5h0M913.7 764.8h0M923.2 769.4h0M897.5 770.6h0M919.3 766.9h0M916.4 770.6h0M911.5 771.0h0M900.2 770.0h0M923.3 767.8h0M920.1 771.0h0M908.4 770.9h0M904.2 770.8h0M922.0 769.9h0M910.4 767.7h0M921.1 761.8h0M912.5 768.9h0M921.6 769.5h0M905.3 766.8h0M904.2 769.7h0M908.8 769.1h0M906.9 769.3h0M909.4 771.0h0M919.8 770.9h0M911.5 768.6h0M908.0 770.3h0M899.9 769.7h0M905.7 769.0h0M903.4 766.7h0M910.4 771.1h0M908.2 760.3h0M897.4 768.3h0M923.1 769.7h0M913.3 769.7h0M905.3 768.1h0M913.1 769.9h0M910.6 768.8h0M917.6 771.0h0M899.7 770.2h0M904.5 766.1h0M908.7 764.8h0M908.1 770.1h0M915.6 770.9h0M923.8 765.4h0M906.1 769.9h0M919.3 766.2h0M914.5 771.0h0M917.8 771.0h0M914.1 768.6h0M922.2 767.9h0M897.8 762.4h0M917.5 768.4h0M897.4 766.9h0M908.5 767.5h0M923.8 763.2h0M899.2 766.3h0M909.1 766.7h0M907.4 769.2h0M909.0 770.7h0M905.8 766.9h0M966.8 769.9h0M976.3 770.7h0M960.0 770.3h0M973.5 768.9h0M962.6 769.5h0M974.0 770.2h0M971.7 767.2h0M963.5 769.7h0M963.2 769.2h0M960.3 768.0h0M962.6 770.0h0M971.2 769.2h0M964.1 764.4h0M963.6 769.6h0M974.3 759.2h0M971.6 769.5h0M968.8 766.8h0M959.8 767.0h0M975.5 767.7h0M968.8 769.3h0M968.4 770.3h0M971.2 768.7h0M976.2 769.8h0M969.8 771.1h0M962.7 766.5h0M958.9 768.1h0M958.0 769.5h0M976.5 770.4h0M974.6 770.9h0M966.7 765.6h0M972.8 769.6h0M966.9 767.2h0M971.0 766.7h0M966.6 770.2h0M969.6 768.5h0M965.8 757.2h0M956.0 766.3h0M960.5 767.0h0M975.5 770.1h0M966.3 768.7h0M964.6 770.6h0M967.7 764.0h0M968.6 770.0h0M972.0 769.4h0M956.2 768.2h0M963.7 768.7h0M976.5 768.4h0M975.6 769.7h0M970.9 770.9h0M959.9 767.4h0M969.3 765.5h0M961.8 770.1h0M961.3 768.7h0M953.3 769.6h0M968.5 770.6h0M960.2 764.5h0M975.1 770.2h0M957.0 770.7h0M954.8 766.1h0M970.4 770.2h0M964.4 767.3h0M953.4 765.7h0M973.3 770.4h0M969.6 767.3h0M960.8 764.4h0M957.9 769.1h0M960.2 769.3h0M972.2 768.4h0M967.3 757.2h0M958.1 770.3h0M967.6 770.6h0M975.8 769.8h0M963.3 769.3h0M972.6 763.2h0M968.9 770.5h0M961.2 767.2h0M957.9 764.3h0M973.6 770.3h0M961.4 770.3h0M969.9 771.0h0M969.4 770.9h0M972.9 768.6h0M966.7 770.8h0M953.8 769.7h0M976.3 768.2h0M973.4 770.9h0M955.1 771.1h0M969.4 770.5h0M959.2 767.6h0M969.4 769.9h0M963.9 770.0h0M966.2 769.7h0M961.3 770.2h0M959.7 770.2h0M953.1 770.0h0M966.9 770.1h0M955.4 765.2h0M964.0 768.8h0M960.2 764.2h0M970.8 768.0h0M968.5 767.4h0M964.7 769.4h0M962.1 768.9h0M963.9 768.7h0M965.5 766.2h0M974.1 770.3h0M953.2 770.0h0M953.5 766.0h0M967.6 770.1h0M957.3 764.6h0M972.8 767.5h0M969.3 766.8h0M963.6 769.5h0M966.0 764.3h0M976.5 763.2h0M1017.6 769.9h0M1019.0 765.9h0M1001.5 768.6h0M1003.4 764.2h0M1002.9 770.1h0M1017.4 768.3h0M1015.3 769.4h0M1012.3 770.4h0M1011.1 770.2h0M1015.5 770.8h0M1004.3 770.4h0M1012.5 768.4h0M1001.6 757.2h0M1018.8 769.6h0M1004.8 765.5h0M1021.7 770.5h0M1017.1 765.7h0M1020.9 770.4h0M1004.0 770.6h0M1006.3 763.8h0M1020.3 769.1h0M1004.1 769.7h0M1006.5 767.8h0M1016.4 766.4h0M1010.5 769.2h0M1011.2 769.7h0M1010.9 767.4h0M1016.2 769.9h0M1013.2 770.6h0M1002.4 769.6h0M1008.9 771.0h0M1003.1 769.4h0M1021.0 765.3h0M1002.1 769.9h0M1009.1 769.9h0M1004.3 768.3h0M1018.9 769.6h0M1005.2 770.8h0M1001.8 766.5h0M1006.3 767.0h0M1017.9 770.9h0M1005.4 769.9h0M1017.4 766.9h0M1007.8 769.2h0M1008.9 769.1h0M1017.9 770.2h0M1018.3 763.1h0M1013.9 760.9h0M1020.9 770.5h0M1022.0 770.4h0M1018.2 770.7h0M1007.8 769.3h0M1018.9 767.5h0M1005.7 763.8h0M1019.4 768.9h0M1002.5 770.1h0M1007.6 769.4h0M1021.0 768.2h0M1018.5 770.9h0M1006.6 766.9h0M1008.5 770.3h0M1002.8 771.0h0M1010.0 768.6h0M1009.8 768.5h0M1007.5 771.1h0M1015.5 769.8h0M1011.7 769.6h0M1007.1 771.0h0M1007.6 770.0h0M1003.9 771.0h0M1011.4 771.1h0M1019.7 769.7h0M1010.7 768.8h0M1002.0 770.8h0M1017.8 768.5h0M1011.7 769.8h0M1017.1 768.9h0M1017.9 765.4h0M1020.0 767.0h0M1015.5 769.2h0M1012.5 768.4h0M1012.4 765.7h0M1019.3 771.0h0M1017.1 768.1h0M1013.9 763.5h0M1002.5 769.1h0M1009.3 761.7h0M1004.9 768.5h0M1004.5 766.7h0M1011.6 766.9h0M1007.9 764.3h0M1001.6 770.3h0M1016.7 764.4h0M1017.6 770.1h0M1003.2 767.2h0M1016.6 770.9h0M1020.9 768.7h0M1002.2 769.1h0M1008.5 770.8h0M1019.8 762.4h0M1058.7 770.2h0M1060.7 767.5h0M1061.2 769.8h0M1062.3 768.3h0M1049.2 767.8h0M1050.2 770.8h0M1045.1 768.1h0M1048.9 770.8h0M1059.0 770.6h0M1058.6 770.1h0M1051.2 762.5h0M1060.0 765.4h0M1062.8 768.2h0M1062.0 768.0h0M1055.3 769.9h0M1051.5 768.4h0M1049.0 767.9h0M1060.6 767.1h0M1048.6 771.1h0M1051.3 769.3h0M1060.3 768.6h0M1054.1 768.2h0M1054.8 767.5h0M1054.9 768.6h0M1048.8 770.7h0M1052.7 764.2h0M1062.2 770.0h0M1055.2 768.8h0M1052.9 770.5h0M1059.2 770.9h0M1048.7 770.1h0M1048.2 770.5h0M1045.9 768.8h0M1047.6 767.8h0M1055.7 768.0h0M1053.4 768.1h0M1050.0 769.1h0M1057.3 770.4h0M1058.2 768.3h0M1062.7 768.1h0M1054.7 766.5h0M1049.8 769.6h0M1052.5 766.9h0M1057.9 770.5h0M1062.3 758.3h0M1053.7 764.0h0M1051.6 770.8h0M1044.7 768.3h0M1057.9 768.1h0M1059.1 769.3h0M1058.4 768.2h0M1056.3 768.6h0M1056.9 768.5h0M1046.1 767.5h0M1057.6 769.4h0M1062.6 769.0h0M1047.5 768.8h0M1051.1 770.6h0M1061.1 770.5h0M1057.8 770.5h0M1054.1 770.1h0M1060.5 771.1h0M1062.8 763.5h0M1052.8 767.9h0M1053.0 770.6h0M1051.1 769.3h0M1060.8 770.8h0M1054.5 769.1h0M1054.8 766.1h0M1055.7 769.9h0M1062.3 768.2h0M1049.5 768.6h0M1060.7 771.0h0M1056.6 769.0h0M1049.8 770.6h0M1048.8 769.3h0M1052.3 768.2h0M1049.5 768.0h0M1053.3 766.1h0M1059.5 770.3h0M1062.8 768.6h0M1050.7 770.2h0M1057.8 769.3h0M1057.3 770.2h0M1060.6 770.2h0M1060.8 769.3h0M1051.9 768.4h0M1054.2 768.6h0M1054.9 761.6h0M1058.4 770.8h0M1063.0 771.1h0M1045.4 765.7h0M1097.2 770.7h0M1100.2 770.5h0M1101.4 768.0h0M1098.0 770.9h0M1092.3 766.9h0M1086.9 771.0h0M1093.3 765.0h0M1097.8 770.3h0M1086.3 765.3h0M1102.3 767.3h0M1088.9 766.7h0M1084.8 770.5h0M1091.3 761.1h0M1085.3 770.6h0M1100.0 766.5h0M1090.2 770.9h0M1102.5 759.9h0M1103.7 768.5h0M1086.4 766.8h0M1098.2 765.4h0M1100.5 768.9h0M1105.1 769.2h0M1094.0 767.9h0M1101.2 768.3h0M1104.4 770.1h0M1103.4 764.4h0M1091.9 771.0h0M1097.2 768.0h0M1104.8 768.5h0M1099.8 766.6h0M1088.1 767.6h0M1093.8 770.4h0M1090.4 769.7h0M1100.0 768.6h0M1091.3 771.0h0M1101.1 766.7h0M1102.2 766.2h0M1085.9 770.1h0M1094.3 770.0h0M1101.9 770.4h0M1084.9 769.2h0M1085.7 771.0h0M1097.3 768.2h0M1096.0 770.9h0M1096.4 768.8h0M1091.0 770.3h0M1087.9 769.0h0M1092.3 768.3h0M1098.8 770.1h0M1097.4 770.2h0M1100.3 770.4h0M1097.1 766.9h0M1101.4 768.7h0M1103.8 757.4h0M1101.2 769.7h0M1090.2 768.0h0M1087.3 770.5h0M1086.6 767.8h0M1092.7 763.0h0M1101.5 768.7h0M1091.8 769.9h0M1085.7 770.8h0M1102.9 770.0h0M1084.8 758.6h0M1092.6 766.4h0M1094.1 760.1h0M1086.3 769.1h0M1098.2 771.1h0M1103.9 769.8h0M1098.8 770.9h0M1086.2 770.9h0M1101.2 762.0h0M1103.8 768.7h0M1086.5 766.3h0M1095.2 766.3h0M1097.9 768.5h0M1088.2 770.6h0M1086.3 769.3h0M1090.7 761.3h0M1085.6 766.6h0M1087.1 770.8h0M1104.0 770.3h0M1097.1 768.3h0M1093.0 769.8h0M1087.6 767.3h0M1092.4 768.2h0M1101.8 770.9h0M1093.5 769.7h0M1104.2 768.0h0M1088.7 769.2h0M1084.9 768.8h0M1086.1 770.7h0M1095.3 768.7h0M1089.1 768.3h0M1091.1 767.3h0M1085.7 765.2h0M1094.0 770.5h0M1090.7 768.0h0M1086.6 763.4h0M1089.2 769.4h0M1086.1 769.2h0M1104.8 770.5h0M1131.2 761.4h0M1133.4 764.3h0M1127.7 769.5h0M1129.0 768.9h0M1135.1 755.9h0M1137.1 765.0h0M1138.0 766.9h0M1134.8 770.8h0M1130.5 769.0h0M1126.5 763.7h0M1130.0 770.2h0M1126.2 768.7h0M1129.5 761.7h0M1133.5 769.3h0M1127.2 771.0h0M1134.2 768.1h0M1131.6 768.9h0M1130.5 763.6h0M1125.8 770.3h0M1135.6 769.9h0M1129.5 769.3h0M1129.0 766.6h0M1126.4 768.5h0M1134.5 769.8h0M1134.7 769.7h0M1133.3 770.8h0M1129.3 768.5h0M1133.2 769.1h0M1125.6 768.7h0M1136.5 770.1h0M1127.8 768.0h0M1128.2 770.8h0M1126.1 768.0h0M1136.7 766.4h0M1132.9 764.5h0M1136.3 770.1h0M1130.1 759.5h0M1137.5 767.9h0M1133.4 769.8h0M1126.3 769.9h0M1128.1 767.9h0M1133.8 768.0h0M1137.1 771.1h0M1127.8 770.8h0M1130.0 763.3h0M1131.3 766.0h0M1127.5 769.7h0M1135.6 770.0h0M1134.7 768.2h0M1133.8 771.0h0M1129.9 757.8h0M1130.1 770.1h0M1138.3 768.3h0M1134.3 769.0h0M1133.3 769.6h0M1128.7 770.0h0M1128.1 767.3h0M1126.3 770.7h0M1131.8 756.4h0M1135.4 767.6h0M1134.9 770.4h0M1131.8 771.1h0M1132.0 771.0h0M1126.6 770.7h0M1129.7 769.1h0M1128.0 770.9h0M1160.0 768.7h0M1159.3 768.8h0M1160.1 766.3h0M1161.3 767.2h0M1162.5 769.1h0M1160.4 770.8h0M1154.2 769.2h0M1160.9 770.3h0M1164.0 770.0h0M1158.8 769.1h0M1164.1 770.6h0M1156.1 767.9h0M1157.3 769.8h0M1154.8 763.2h0M1158.2 768.4h0M1156.0 762.4h0M1154.5 767.3h0M1154.0 768.7h0M1156.9 761.5h0M1158.2 765.3h0M1153.6 770.3h0M1164.2 769.7h0M1153.7 770.2h0M1157.3 768.7h0M1157.5 770.0h0M1158.6 769.1h0M1155.3 768.8h0M1159.7 768.4h0M1161.5 769.2h0M1155.7 762.0h0M1154.6 770.0h0M1157.9 769.4h0M1155.6 764.8h0M1156.7 768.6h0M1160.1 770.7h0M1158.1 770.7h0M1159.3 766.9h0M1162.8 762.2h0M1154.6 769.2h0M1160.7 769.6h0M1163.8 769.0h0M1163.0 770.9h0M1157.6 767.3h0M1162.6 769.0h0M1162.8 766.6h0M1157.9 767.2h0M1159.0 770.8h0M1163.3 765.2h0M1163.2 770.3h0M1161.9 771.0h0M1158.8 770.0h0M1158.9 769.6h0M1159.4 769.3h0M1161.7 767.7h0M1156.4 770.4h0M1155.9 769.9h0M1178.5 764.8h0M1182.0 769.7h0M1185.6 768.4h0M1181.4 770.6h0M1182.7 764.1h0M1188.6 767.1h0M1185.6 767.4h0M1187.8 770.6h0M1179.9 765.2h0M1178.6 768.8h0M1182.5 763.1h0M1184.8 770.3h0M1179.1 769.1h0M1184.1 769.1h0M1184.4 770.9h0M1182.1 765.5h0M1181.4 770.5h0M1180.2 762.2h0M1187.4 769.5h0M1181.8 769.7h0M1187.5 763.5h0M1188.2 764.9h0M1185.4 770.7h0M1188.1 770.6h0M1186.0 769.7h0M1178.8 767.7h0M1181.0 764.1h0M1180.3 767.6h0M1182.9 771.0h0M1181.3 770.0h0M1186.4 766.4h0M1188.0 770.6h0M1180.6 769.6h0M1181.7 770.4h0M1186.2 771.1h0M1183.9 770.7h0M1181.6 770.0h0M1183.2 762.2h0M1186.0 769.3h0M1188.6 770.2h0M1180.3 767.9h0M1186.3 767.0h0M1183.6 767.0h0M1181.8 761.7h0M1186.0 766.0h0M1184.0 763.1h0M1183.2 761.5h0M1183.0 761.5h0M1181.7 768.8h0M1184.2 768.6h0M1187.1 765.1h0M1180.3 767.2h0M1205.0 760.6h0M1208.3 768.0h0M1200.9 768.8h0M1202.4 770.1h0M1200.8 767.4h0M1205.7 770.1h0M1202.1 764.8h0M1206.1 770.2h0M1208.2 767.1h0M1204.5 770.8h0M1203.9 771.1h0M1201.9 766.3h0M1201.1 770.4h0M1203.0 760.2h0M1201.5 769.4h0M1204.7 771.0h0M1204.9 770.9h0M1202.8 769.9h0M1208.7 769.3h0M1202.7 769.9h0M1202.7 770.6h0M1202.8 767.4h0M1203.1 770.3h0M1200.4 766.2h0M1202.7 770.1h0M1207.4 760.0h0M1204.8 770.9h0M1207.3 766.5h0M1200.2 770.1h0M1207.3 769.1h0M1201.6 757.7h0M1201.9 770.5h0M1206.1 757.3h0M1206.2 771.1h0M1200.3 770.4h0M1205.8 760.9h0M1201.1 767.6h0M1205.9 771.0h0M1207.9 769.9h0M1203.3 766.1h0M1204.8 768.0h0M1200.6 768.0h0M1201.4 765.6h0M1206.8 767.8h0M1205.6 759.2h0M1220.5 768.7h0M1223.2 764.5h0M1223.1 769.3h0M1219.3 765.1h0M1218.2 769.6h0M1217.8 765.8h0M1222.2 762.8h0M1218.6 765.3h0M1221.9 768.6h0M1220.2 765.9h0M1220.4 761.8h0M1223.3 769.7h0M1220.8 769.3h0M1223.2 765.0h0M1220.0 769.7h0M1219.4 767.6h0M1221.7 768.0h0M1220.7 767.6h0M1217.4 769.1h0M1221.8 767.0h0M1222.6 770.3h0M1223.3 760.0h0M1221.4 765.6h0M1218.7 770.5h0M1218.8 768.7h0M1223.1 769.8h0M1223.4 765.5h0M1217.7 771.0h0M1223.8 768.9h0M1222.4 764.8h0M1219.3 771.1h0M1222.9 762.6h0M1220.0 767.7h0M1217.5 762.2h0M847.3 753.6h0M847.3 756.8h0M847.3 760.6h0M955.2 740.1h0M958.3 745.9h0M972.8 745.9h0M963.2 753.6h0M921.0 753.6h0M912.4 756.8h0M903.5 758.0h0M1011.6 754.8h0M1020.6 750.4h0M1050.4 754.8h0M1091.6 752.9h0M1098.1 751.6h0M1125.3 753.6h0M1187.4 751.6h0M1221.8 744.0h0M1166.0 757.4h0" stroke="#d28a12" stroke-width="1.85" stroke-linecap="round" fill="none"/>
<path d="M824.8 767.2h0M828.5 770.1h0M800.1 769.2h0M804.0 770.4h0M809.0 768.0h0M811.9 769.9h0M824.5 758.3h0M810.4 770.9h0M795.1 764.5h0M795.5 767.2h0M805.2 766.1h0M794.7 770.7h0M810.5 771.1h0M824.1 770.3h0M799.1 771.0h0M816.8 769.2h0M816.9 767.7h0M823.3 761.0h0M818.8 770.4h0M811.2 770.5h0M794.4 769.1h0M819.9 770.5h0M803.9 769.8h0M819.3 768.8h0M816.3 766.6h0M808.3 766.1h0M826.9 770.8h0M827.9 767.0h0M798.7 769.2h0M816.7 763.4h0M807.7 768.4h0M825.9 766.0h0M828.3 769.1h0M817.6 770.4h0M820.2 765.7h0M817.3 767.1h0M801.7 763.8h0M829.6 759.0h0M822.7 769.9h0M827.0 764.9h0M806.7 770.9h0M810.0 768.6h0M821.9 769.0h0M795.0 765.8h0M796.3 766.0h0M800.3 769.8h0M822.6 770.7h0M799.4 768.8h0M820.3 765.3h0M819.0 761.8h0M811.9 761.6h0M797.1 770.3h0M804.5 767.0h0M817.2 768.8h0M824.6 768.5h0M805.3 769.6h0M824.7 763.8h0M801.6 765.1h0M829.2 768.8h0M801.3 768.7h0M812.3 768.2h0M795.0 760.0h0M812.7 769.5h0M823.1 768.5h0M811.8 767.4h0M796.4 768.7h0M809.0 761.1h0M827.5 770.1h0M811.2 770.7h0M809.7 765.7h0M826.7 769.1h0M805.5 770.5h0M816.4 762.8h0M798.7 766.3h0M794.8 770.4h0M802.2 767.4h0M805.7 769.7h0M816.5 770.8h0M820.5 770.7h0M812.5 770.2h0M801.2 768.7h0M809.9 769.6h0M809.0 768.7h0M799.8 770.4h0M816.9 767.9h0M824.9 768.1h0M825.1 770.3h0M820.9 765.8h0M826.8 769.9h0M805.4 762.9h0M801.9 760.9h0M798.9 770.3h0M820.4 770.2h0M797.5 765.4h0M809.3 766.1h0M798.6 769.5h0M818.9 771.1h0M801.3 767.5h0M827.1 760.1h0M798.2 768.9h0M821.5 768.9h0M818.9 770.5h0M796.6 770.8h0M795.4 768.6h0M812.7 768.4h0M799.3 770.5h0M801.4 765.3h0M829.9 762.8h0M797.5 770.9h0M828.5 769.2h0M821.8 769.9h0M811.0 768.8h0M809.6 768.2h0M794.5 767.3h0M824.6 770.5h0M810.5 766.8h0M808.7 770.4h0M800.0 768.8h0M794.6 764.0h0M823.1 767.2h0M825.2 768.0h0M808.7 768.2h0M812.3 758.2h0M823.2 770.2h0M827.1 766.8h0M822.2 765.7h0M808.7 763.9h0M825.9 767.3h0M821.9 766.5h0M808.7 767.0h0M796.6 769.8h0M811.0 771.1h0M806.9 767.9h0M816.7 770.3h0M828.3 767.6h0M806.3 767.7h0M808.1 763.7h0M819.5 766.5h0M829.6 771.1h0M816.3 766.8h0M803.3 769.5h0M795.8 770.4h0M807.6 770.8h0M803.1 763.6h0M812.4 760.2h0M830.1 767.9h0M823.4 770.9h0M821.6 771.0h0M827.8 770.6h0M811.1 770.5h0M812.0 768.1h0M796.1 761.8h0M809.3 768.7h0M807.3 770.1h0M817.8 768.5h0M804.3 767.1h0M804.7 771.1h0M802.9 771.0h0M799.7 766.6h0M808.2 763.8h0M821.2 771.0h0M888.1 763.5h0M868.2 769.9h0M878.5 770.9h0M892.7 769.9h0M889.5 768.8h0M869.2 769.5h0M874.4 771.0h0M871.9 768.2h0M868.5 769.9h0M879.6 768.6h0M871.5 767.2h0M875.0 767.0h0M886.5 770.6h0M873.4 770.1h0M887.8 769.5h0M878.6 764.7h0M874.0 770.0h0M877.4 770.4h0M868.8 771.1h0M885.5 768.5h0M890.6 759.3h0M876.1 767.6h0M893.7 770.4h0M887.2 767.6h0M894.7 764.7h0M874.3 767.9h0M870.2 769.4h0M878.7 770.9h0M878.5 769.9h0M881.7 770.1h0M872.1 769.5h0M881.1 770.6h0M886.5 770.3h0M870.2 769.8h0M879.6 770.6h0M884.1 767.3h0M883.3 767.3h0M868.3 769.6h0M877.9 770.9h0M879.1 771.0h0M881.7 768.3h0M880.9 769.9h0M874.8 771.1h0M877.5 764.0h0M883.7 770.2h0M886.6 770.5h0M880.9 768.1h0M894.7 769.7h0M884.0 762.0h0M889.5 768.0h0M885.2 769.4h0M879.4 770.1h0M891.2 764.4h0M878.4 763.4h0M868.7 770.7h0M882.0 770.0h0M877.8 759.1h0M871.9 770.5h0M874.1 767.5h0M874.3 771.1h0M883.0 769.5h0M874.4 769.0h0M886.1 768.6h0M885.3 768.5h0M891.2 760.0h0M877.1 769.8h0M892.8 769.9h0M887.9 767.3h0M887.1 760.5h0M891.0 770.6h0M885.3 769.0h0M883.6 769.7h0M875.7 766.7h0M882.8 770.3h0M874.7 769.9h0M872.6 768.8h0M871.2 770.9h0M869.6 770.8h0M887.6 770.8h0M880.4 766.4h0M881.3 770.6h0M892.2 764.6h0M869.1 770.2h0M882.0 766.0h0M878.7 767.1h0M874.8 767.1h0M876.9 769.8h0M889.2 765.2h0M891.1 768.5h0M879.5 767.2h0M885.3 765.5h0M890.4 770.7h0M878.3 767.6h0M874.2 770.5h0M868.0 768.3h0M894.3 759.9h0M871.4 767.4h0M879.5 767.9h0M878.9 762.5h0M895.7 771.0h0M887.9 770.7h0M868.8 770.1h0M888.4 769.8h0M877.0 771.1h0M883.0 769.0h0M878.2 770.0h0M890.3 765.3h0M875.7 769.5h0M885.1 766.5h0M895.5 769.6h0M887.3 768.6h0M890.3 770.6h0M872.6 770.8h0M894.1 770.2h0M881.5 770.7h0M876.8 771.1h0M883.7 770.6h0M885.4 770.1h0M874.1 769.0h0M878.0 770.2h0M869.1 770.9h0M893.0 770.0h0M869.8 770.5h0M881.3 768.8h0M892.2 769.0h0M879.4 765.9h0M878.8 771.0h0M883.2 767.7h0M885.3 770.1h0M894.3 764.7h0M895.8 769.3h0M891.3 767.0h0M872.6 771.1h0M872.4 770.7h0M869.7 769.7h0M889.0 770.0h0M939.1 769.7h0M938.4 770.4h0M943.8 769.4h0M938.1 770.9h0M938.1 768.5h0M950.8 768.5h0M928.9 770.0h0M934.2 767.3h0M949.9 759.2h0M950.2 762.8h0M947.8 762.4h0M925.9 769.0h0M940.8 767.4h0M941.4 768.1h0M949.8 770.9h0M939.0 760.9h0M926.2 770.8h0M948.1 761.1h0M926.0 771.0h0M947.1 767.4h0M939.0 768.4h0M945.2 765.9h0M925.4 770.9h0M946.1 759.3h0M947.2 769.5h0M934.2 769.8h0M925.8 766.4h0M932.2 768.3h0M939.1 769.8h0M943.0 769.2h0M931.5 764.3h0M930.0 770.6h0M932.0 769.1h0M945.9 769.8h0M931.6 767.7h0M932.2 768.8h0M932.1 764.4h0M930.2 770.3h0M933.3 769.9h0M944.4 767.6h0M946.0 768.7h0M927.5 766.5h0M931.8 770.4h0M936.2 756.5h0M935.1 769.7h0M949.2 756.3h0M935.5 770.7h0M946.0 766.3h0M934.2 766.1h0M935.3 770.1h0M940.9 766.8h0M937.8 765.7h0M925.8 768.9h0M935.3 770.9h0M949.3 770.6h0M930.8 764.4h0M950.5 762.6h0M934.3 762.6h0M929.1 767.1h0M950.1 770.5h0M928.9 767.5h0M948.4 767.0h0M950.2 769.2h0M935.1 770.7h0M932.5 762.2h0M927.3 770.5h0M934.5 771.0h0M933.4 770.5h0M928.6 768.7h0M939.5 768.5h0M945.3 768.7h0M950.1 770.9h0M931.2 770.9h0M933.5 766.6h0M949.5 768.9h0M929.6 769.9h0M940.2 770.0h0M946.1 759.6h0M937.4 768.2h0M947.5 769.1h0M930.4 761.9h0M950.9 771.1h0M945.3 769.5h0M926.8 770.6h0M929.9 766.9h0M930.9 771.1h0M931.1 766.0h0M938.4 767.8h0M937.5 770.5h0M925.8 770.0h0M926.5 770.2h0M941.5 769.7h0M937.7 768.0h0M933.7 769.7h0M948.5 768.4h0M936.3 768.7h0M937.4 769.8h0M949.2 770.3h0M949.8 765.0h0M948.4 770.6h0M938.7 757.8h0M932.9 770.5h0M944.3 770.3h0M940.6 770.6h0M950.1 770.1h0M927.9 767.4h0M934.5 768.5h0M938.4 763.0h0M938.8 769.6h0M925.4 768.9h0M932.4 768.4h0M941.9 769.2h0M927.7 768.9h0M938.0 767.9h0M950.7 770.1h0M937.0 770.9h0M946.3 770.3h0M947.0 766.0h0M932.0 763.7h0M938.6 769.4h0M939.9 761.8h0M938.2 769.0h0M933.0 765.3h0M938.5 769.8h0M930.5 770.4h0M981.3 768.5h0M989.3 769.6h0M988.5 771.0h0M991.7 770.5h0M985.4 771.1h0M997.8 768.3h0M986.7 768.6h0M999.0 770.7h0M986.5 767.2h0M986.2 767.2h0M998.2 771.0h0M984.3 770.0h0M994.7 766.2h0M993.6 762.9h0M982.1 769.5h0M997.0 766.5h0M980.4 758.7h0M994.5 764.7h0M986.0 768.2h0M999.4 763.8h0M990.8 764.1h0M1000.3 765.3h0M992.6 760.8h0M981.1 769.5h0M990.5 770.7h0M995.4 770.9h0M992.0 770.1h0M985.1 768.2h0M982.2 769.2h0M997.1 757.3h0M983.8 769.7h0M993.4 770.5h0M996.9 770.4h0M990.4 769.8h0M977.9 771.1h0M977.9 769.9h0M984.1 755.9h0M992.2 770.9h0M993.9 770.3h0M988.7 767.0h0M997.1 762.4h0M987.3 769.9h0M986.8 769.9h0M994.5 769.2h0M993.3 770.6h0M995.4 760.2h0M982.4 768.1h0M981.5 771.0h0M987.2 770.5h0M994.3 768.4h0M993.0 760.1h0M979.2 770.8h0M978.7 769.2h0M996.4 767.5h0M990.2 764.9h0M986.2 770.8h0M992.3 771.1h0M983.0 771.0h0M981.5 770.9h0M989.8 770.7h0M991.4 765.6h0M985.6 770.7h0M992.9 767.0h0M997.7 768.6h0M990.9 764.8h0M993.1 759.4h0M984.3 766.4h0M992.1 769.1h0M978.1 769.1h0M983.8 768.2h0M989.3 768.9h0M979.2 770.7h0M991.5 767.5h0M1000.1 766.1h0M984.4 769.2h0M989.2 765.9h0M986.7 763.0h0M988.7 769.5h0M988.6 769.7h0M1000.3 771.0h0M986.9 770.9h0M993.1 770.6h0M981.2 769.4h0M991.4 766.5h0M987.9 770.0h0M986.1 764.1h0M982.7 771.1h0M997.7 769.0h0M980.9 770.7h0M997.8 766.7h0M979.3 767.5h0M982.7 769.3h0M991.5 771.0h0M998.9 769.8h0M981.1 766.3h0M980.3 771.0h0M992.5 769.1h0M998.1 766.1h0M982.5 771.0h0M991.4 769.1h0M984.6 763.2h0M982.6 767.8h0M979.5 762.9h0M999.2 768.1h0M985.1 767.0h0M998.1 766.1h0M978.8 768.9h0M981.0 768.6h0M1041.2 769.5h0M1023.6 769.9h0M1043.0 769.5h0M1028.8 767.4h0M1025.3 770.0h0M1025.9 768.2h0M1039.3 769.8h0M1042.8 770.4h0M1027.9 771.1h0M1041.1 770.0h0M1028.7 768.7h0M1024.7 769.8h0M1039.5 766.4h0M1037.3 768.2h0M1040.6 766.8h0M1024.5 770.7h0M1038.2 765.3h0M1043.0 766.4h0M1026.5 768.5h0M1035.8 768.2h0M1026.1 760.1h0M1028.7 758.5h0M1024.8 767.6h0M1028.5 770.4h0M1035.4 769.9h0M1036.6 763.6h0M1043.0 764.1h0M1041.6 770.2h0M1039.7 770.8h0M1034.9 770.9h0M1025.4 761.6h0M1025.9 767.1h0M1023.4 766.1h0M1024.6 764.2h0M1039.6 768.9h0M1024.0 767.3h0M1024.2 768.8h0M1041.7 767.5h0M1025.7 767.1h0M1037.3 769.9h0M1038.7 768.4h0M1028.9 770.1h0M1041.0 769.8h0M1038.7 769.7h0M1027.2 771.1h0M1042.5 766.7h0M1042.8 768.3h0M1024.6 770.6h0M1024.4 768.1h0M1035.7 761.2h0M1028.0 770.3h0M1026.3 771.0h0M1042.2 769.9h0M1039.8 768.7h0M1025.4 771.0h0M1035.5 764.5h0M1024.4 767.3h0M1028.0 767.4h0M1039.9 767.0h0M1028.2 770.6h0M1042.5 763.2h0M1041.7 768.6h0M1024.4 769.7h0M1041.4 770.9h0M1024.2 764.3h0M1025.0 769.7h0M1027.4 769.3h0M1035.6 767.7h0M1025.3 768.7h0M1024.5 769.3h0M1039.4 770.2h0M1039.7 770.2h0M1039.1 771.1h0M1034.4 768.7h0M1077.0 771.0h0M1079.0 770.9h0M1068.8 766.3h0M1079.0 770.3h0M1074.1 766.0h0M1075.9 768.8h0M1067.9 770.9h0M1068.0 768.8h0M1075.7 769.2h0M1076.5 768.5h0M1076.7 769.4h0M1080.4 768.7h0M1081.1 757.5h0M1080.1 766.4h0M1077.5 768.6h0M1069.1 770.8h0M1077.0 770.2h0M1076.0 768.6h0M1075.9 769.3h0M1068.9 770.0h0M1077.6 764.2h0M1070.5 769.9h0M1072.9 769.3h0M1076.4 766.6h0M1079.0 765.8h0M1078.2 759.7h0M1072.9 769.2h0M1076.8 769.9h0M1080.2 769.4h0M1075.0 768.8h0M1071.3 771.1h0M1069.7 769.1h0M1082.5 770.7h0M1081.6 759.6h0M1079.4 770.1h0M1064.8 764.3h0M1065.7 770.0h0M1082.2 767.6h0M1080.1 765.4h0M1067.8 768.9h0M1066.2 769.6h0M1073.8 765.7h0M1069.9 767.6h0M1067.1 770.2h0M1065.5 768.4h0M1075.5 767.1h0M1072.4 762.3h0M1078.1 768.5h0M1081.0 770.5h0M1070.0 768.6h0M1075.8 761.2h0M1077.3 771.0h0M1082.3 769.1h0M1068.3 766.5h0M1076.3 765.0h0M1074.9 770.2h0M1073.3 769.1h0M1071.1 768.4h0M1067.2 770.2h0M1066.7 771.1h0M1074.4 766.9h0M1072.0 763.7h0M1076.0 767.7h0M1069.8 763.8h0M1071.0 765.2h0M1069.0 761.4h0M1077.4 770.5h0M1078.3 770.6h0M1071.7 769.6h0M1070.8 769.7h0M1067.5 769.5h0M1066.2 766.1h0M1071.1 767.2h0M1072.5 759.4h0M1081.1 767.2h0M1080.4 763.3h0M1082.1 769.4h0M1075.7 770.9h0M1071.3 769.9h0M1076.2 771.1h0M1078.7 770.9h0M1072.4 769.0h0M1080.4 767.9h0M1067.2 767.6h0M1068.9 768.1h0M1072.3 761.2h0M1072.9 770.1h0M1070.3 761.0h0M1071.0 770.2h0M1074.6 767.6h0M1082.3 770.9h0M1070.7 767.0h0M1114.6 764.1h0M1118.4 768.3h0M1121.1 762.9h0M1108.3 760.3h0M1111.5 768.1h0M1118.8 770.0h0M1111.7 763.6h0M1119.5 759.1h0M1108.3 768.0h0M1118.6 761.1h0M1118.4 770.1h0M1108.4 770.5h0M1110.9 768.4h0M1112.0 770.6h0M1108.2 767.4h0M1119.8 770.7h0M1115.0 758.6h0M1112.6 768.7h0M1119.8 771.1h0M1120.8 766.4h0M1118.6 769.8h0M1114.7 762.1h0M1107.8 770.9h0M1117.0 761.4h0M1109.2 770.5h0M1114.2 766.2h0M1115.8 767.7h0M1107.6 770.4h0M1116.2 767.0h0M1108.3 770.8h0M1111.8 769.4h0M1112.1 770.5h0M1108.0 767.8h0M1122.1 767.9h0M1121.5 770.7h0M1116.7 769.7h0M1120.4 768.2h0M1116.6 763.3h0M1122.1 770.7h0M1113.8 770.9h0M1115.8 770.3h0M1118.0 769.7h0M1106.9 764.1h0M1108.8 770.1h0M1115.1 771.0h0M1119.2 767.1h0M1108.7 768.0h0M1108.9 768.7h0M1108.3 770.1h0M1114.0 768.6h0M1117.3 762.8h0M1112.2 769.8h0M1110.1 766.9h0M1112.7 770.4h0M1109.9 769.4h0M1120.2 769.3h0M1119.8 769.1h0M1116.1 770.2h0M1113.3 767.0h0M1108.1 769.2h0M1110.8 770.0h0M1112.2 770.4h0M1116.0 771.0h0M1110.6 770.2h0M1109.7 765.4h0M1117.8 764.1h0M1108.9 770.5h0M1111.8 768.9h0M1120.1 765.4h0M1120.6 771.1h0M1107.2 769.8h0M1113.7 771.1h0M1112.4 770.7h0M1120.8 770.4h0M1111.9 770.5h0M1120.4 770.8h0M1113.8 770.3h0M1110.7 762.9h0M1118.6 769.7h0M1148.6 768.6h0M1151.1 769.3h0M1145.2 770.3h0M1150.3 769.9h0M1151.1 771.0h0M1150.8 771.1h0M1148.9 761.6h0M1144.2 768.3h0M1145.2 770.9h0M1150.2 769.0h0M1149.8 771.0h0M1142.3 770.3h0M1150.0 771.1h0M1140.7 769.6h0M1144.9 765.1h0M1150.4 770.3h0M1149.1 769.7h0M1149.4 767.7h0M1141.2 769.1h0M1145.4 769.2h0M1146.9 767.4h0M1145.1 768.8h0M1150.1 767.5h0M1142.7 770.7h0M1143.6 761.5h0M1144.9 764.4h0M1151.7 767.3h0M1144.7 766.8h0M1146.3 761.4h0M1146.3 767.9h0M1148.4 768.0h0M1142.5 768.5h0M1145.4 767.5h0M1149.5 770.4h0M1144.7 770.2h0M1151.6 769.0h0M1145.7 760.4h0M1149.6 764.9h0M1146.3 770.7h0M1144.8 770.9h0M1145.1 769.2h0M1146.0 758.9h0M1146.6 770.6h0M1142.5 767.5h0M1146.4 769.5h0M1146.2 769.5h0M1148.3 768.3h0M1141.0 768.9h0M1143.3 768.3h0M1145.8 766.6h0M1151.7 766.8h0M1147.6 768.9h0M1141.7 766.9h0M1142.7 769.6h0M1147.2 770.2h0M1150.5 768.6h0M1151.8 771.1h0M1145.8 769.9h0M1147.1 767.8h0M1171.8 769.7h0M1170.9 770.1h0M1170.8 770.2h0M1166.5 769.7h0M1165.9 767.6h0M1166.7 763.6h0M1169.3 770.1h0M1172.0 770.0h0M1174.0 770.0h0M1176.3 771.0h0M1166.3 764.3h0M1173.6 770.2h0M1173.1 769.7h0M1171.5 770.1h0M1171.9 767.8h0M1175.4 770.2h0M1172.2 768.5h0M1175.7 769.0h0M1175.6 762.9h0M1170.3 769.5h0M1176.8 768.4h0M1171.8 766.3h0M1172.6 768.8h0M1173.2 770.2h0M1170.0 771.1h0M1174.0 765.6h0M1174.1 759.7h0M1174.4 770.8h0M1169.3 763.0h0M1166.8 764.4h0M1174.8 770.6h0M1168.0 766.9h0M1173.2 771.0h0M1171.7 770.5h0M1175.6 768.7h0M1165.8 769.5h0M1165.7 763.6h0M1175.9 767.1h0M1165.6 762.2h0M1168.7 767.8h0M1174.5 768.5h0M1166.9 770.2h0M1174.1 770.7h0M1170.0 762.5h0M1170.3 770.6h0M1173.1 769.8h0M1174.8 769.7h0M1175.2 765.6h0M1167.7 768.6h0M1170.8 770.7h0M1176.2 769.8h0M1172.7 770.9h0M1176.6 758.6h0M1173.5 770.7h0M1173.3 769.1h0M1171.1 770.4h0M1167.4 765.2h0M1172.6 766.7h0M1195.0 770.0h0M1195.6 768.9h0M1194.4 767.9h0M1196.3 764.1h0M1198.7 760.7h0M1197.2 767.5h0M1197.1 770.4h0M1191.7 765.2h0M1193.8 771.1h0M1196.6 770.7h0M1192.4 763.0h0M1191.6 765.5h0M1192.3 766.1h0M1193.3 768.5h0M1196.1 767.1h0M1191.8 767.6h0M1191.4 770.2h0M1196.9 770.6h0M1193.6 770.8h0M1195.1 770.5h0M1193.1 758.8h0M1193.9 768.9h0M1190.2 770.2h0M1190.9 768.0h0M1191.3 770.5h0M1191.2 766.8h0M1195.8 770.0h0M1192.7 770.1h0M1194.8 768.4h0M1191.1 770.6h0M1195.5 770.1h0M1195.9 770.5h0M1190.8 770.9h0M1197.6 768.7h0M1190.1 769.7h0M1195.6 770.4h0M1197.4 771.1h0M1194.6 768.4h0M1191.6 757.2h0M1194.8 770.7h0M1196.7 771.0h0M1196.0 765.4h0M1195.6 771.1h0M1190.5 765.5h0M1197.5 770.1h0M1198.3 765.8h0M1212.7 768.3h0M1215.9 770.5h0M1214.8 771.0h0M1211.0 767.3h0M1210.4 765.3h0M1215.5 770.3h0M1214.4 767.8h0M1216.1 769.0h0M1212.2 764.4h0M1211.6 763.3h0M1212.2 769.5h0M1215.2 766.6h0M1211.1 767.7h0M1216.1 769.5h0M1213.4 767.7h0M1214.4 769.6h0M1212.3 770.5h0M1213.8 769.9h0M1214.9 771.0h0M1214.7 770.6h0M1215.4 765.6h0M1212.1 770.8h0M1211.2 770.4h0M1216.1 765.9h0M1210.1 771.1h0M1213.4 769.2h0M1213.4 765.3h0M1215.2 770.7h0M1216.0 769.2h0M1212.9 770.6h0M1211.4 770.5h0M1211.7 768.6h0M1211.5 770.1h0M1210.6 770.9h0M794.0 754.2h0M798.0 756.1h0M823.5 754.8h0M828.5 754.8h0M868.5 750.4h0M871.5 744.6h0M873.8 744.6h0M875.5 746.5h0M886.4 742.0h0M886.4 745.2h0M893.0 750.4h0M893.0 752.9h0M938.6 744.6h0M938.6 748.4h0M938.6 752.9h0M938.6 755.5h0M938.6 758.0h0M938.6 760.6h0M945.3 750.4h0M950.0 753.6h0M950.0 759.3h0M982.6 754.8h0M979.2 753.6h0M1028.4 753.6h0M1041.4 756.1h0M1177.2 751.0h0M1172.3 756.8h0M1213.2 757.4h0" stroke="#0b0b86" stroke-width="1.85" stroke-linecap="round" fill="none"/>
<path d="M790.5 699.5H1226.8" stroke="#ff5a5a" stroke-width="1.1" fill="none"/>
<path d="M790.5 728.3H1226.8" stroke="#5a5aff" stroke-width="1.1" fill="none"/>
<path d="M824.0 792.9V768.6H826.7V792.9ZM1072.9 792.9V759.6H1074.6V792.9ZM1118.1 792.9V737.9H1121.0V792.9ZM1135.9 792.9V730.2H1138.6V792.9ZM1159.0 792.9V780.1H1160.8V792.9ZM1196.9 792.9V764.7H1199.1V792.9Z" fill="#ff0a0a"/>
<path d="M825.4 764.4h0M825.6 760.6h0M825.4 756.8h0M825.3 752.9h0M825.2 748.4h0M825.4 728.0h0M1073.9 756.8h0M1073.8 754.2h0M1073.8 751.6h0M1073.6 749.1h0M1073.6 746.5h0M1073.6 744.0h0M1073.7 740.1h0M1073.7 736.3h0M1074.0 731.2h0M1073.6 695.3h0M1119.4 735.0h0M1119.7 732.4h0M1119.8 729.9h0M1119.4 727.3h0M1119.4 723.5h0M1119.5 717.1h0M1119.3 700.4h0M1137.0 728.6h0M1137.3 726.0h0M1137.1 723.5h0M1137.1 720.9h0M1137.4 718.4h0M1137.2 714.5h0M1137.3 709.4h0M1137.3 704.3h0M1137.4 696.6h0M1137.5 690.2h0M1137.5 686.4h0M1137.1 684.4h0M1137.4 682.5h0M1137.0 678.7h0M1137.1 674.8h0M1137.1 668.4h0M1137.1 653.1h0M1137.1 641.6h0M1137.1 626.8h0M1137.4 613.4h0M1137.4 609.6h0M1137.3 603.8h0M1159.9 777.2h0M1160.0 773.4h0M1159.9 768.3h0M1159.7 763.2h0M1159.9 712.0h0M1197.9 761.9h0M1198.0 758.0h0M1198.2 754.2h0M1197.8 749.1h0M1197.9 742.7h0M1198.0 731.8h0M1197.9 663.6h0" stroke="#ff0a0a" stroke-width="1.8" stroke-linecap="round" fill="none"/>
<path d="M790.5 536V792.9M786.1 792.3H790.5M786.1 728.0H790.5M786.1 664.0H790.5M786.1 600.0H790.5M786.1 536.0H790.5M813.8 793.5V796.3M850.1 793.5V796.3M882.5 793.5V796.3M911.6 793.5V796.3M939.0 793.5V796.3M964.8 793.5V796.3M989.6 793.5V796.3M1012.8 793.5V796.3M1033.3 793.5V796.3M1054.8 793.5V796.3M1073.8 793.5V796.3M1094.5 793.5V796.3M1114.8 793.5V796.3M1131.3 793.5V796.3M1146.7 793.5V796.3M1158.7 793.5V796.3M1172.5 793.5V796.3M1184.2 793.5V796.3M1194.0 793.5V796.3M1203.6 793.5V796.3M1212.3 793.5V796.3M1220.9 793.5V796.3" stroke="#7d7d7d" stroke-width="1" fill="none"/>
<g font-size="11.6" fill="#1a1a1a" stroke="#1a1a1a" stroke-width=".18" text-anchor="end">
<text x="783.2" y="795.9">0</text>
<text x="783.2" y="731.9">5</text>
<text x="783.2" y="667.9">10</text>
<text x="783.2" y="603.9">15</text>
<text x="783.2" y="539.9">20</text>
</g>
<g font-size="11.6" fill="#1a1a1a" stroke="#1a1a1a" stroke-width=".18" text-anchor="middle">
<text x="813.8" y="806.6">1</text>
<text x="850.1" y="806.6">2</text>
<text x="882.5" y="806.6">3</text>
<text x="911.6" y="806.6">4</text>
<text x="939.0" y="806.6">5</text>
<text x="964.8" y="806.6">6</text>
<text x="989.6" y="806.6">7</text>
<text x="1012.8" y="806.6">8</text>
<text x="1033.3" y="806.6">9</text>
<text x="1055.3" y="806.6" textLength="11.7" lengthAdjust="spacingAndGlyphs">10</text>
<text x="1095.0" y="806.6" textLength="11.7" lengthAdjust="spacingAndGlyphs">12</text>
<text x="1131.8" y="806.6" textLength="11.7" lengthAdjust="spacingAndGlyphs">14</text>
<text x="1159.2" y="806.6" textLength="11.7" lengthAdjust="spacingAndGlyphs">16</text>
<text x="1184.7" y="806.6" textLength="11.7" lengthAdjust="spacingAndGlyphs">18</text>
<text x="1212.8" y="806.6" textLength="11.7" lengthAdjust="spacingAndGlyphs">21</text>
</g>
<text transform="translate(763.7 679.2) rotate(-90)" font-size="14.6" fill="#1a1a1a" stroke="#1a1a1a" stroke-width=".12">-log<tspan font-size="8.5" dy="2.4" stroke-width="0" fill="#555">10</tspan><tspan dy="-2.4">(p)</tspan></text>
</svg>
<p class="t" style="left:823.9px;top:828.7px;font-size:26.8px">Multiple loci under selection</p>
</section>
</main>
</body>
</html>
